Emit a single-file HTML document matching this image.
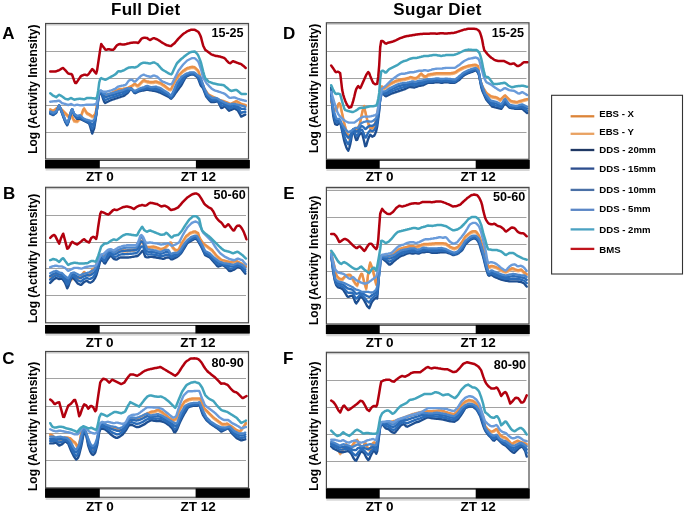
<!DOCTYPE html>
<html><head><meta charset="utf-8"><title>Activity Intensity</title>
<style>html,body{margin:0;padding:0;background:#fff;}svg{display:block;filter:blur(0.3px);}</style></head>
<body>
<svg width="685" height="515" viewBox="0 0 685 515">
<text x="111.0" y="15.2" style="font-family:'Liberation Sans',sans-serif;font-weight:bold;font-size:17px;letter-spacing:0.25px">Full Diet</text>
<text x="393.3" y="15.1" style="font-family:'Liberation Sans',sans-serif;font-weight:bold;font-size:17px;letter-spacing:0.34px">Sugar Diet</text>
<rect x="45.6" y="23.5" width="202.9" height="135.5" fill="#fff"/>
<line x1="45.6" y1="24.8" x2="248.5" y2="24.8" stroke="#c8c8c8" stroke-width="1.2"/>
<line x1="45.6" y1="51.5" x2="246.0" y2="51.5" stroke="#a2a2a2" stroke-width="1"/>
<line x1="45.6" y1="78.5" x2="246.0" y2="78.5" stroke="#a2a2a2" stroke-width="1"/>
<line x1="45.6" y1="105.5" x2="246.0" y2="105.5" stroke="#a2a2a2" stroke-width="1"/>
<line x1="45.6" y1="132.5" x2="246.0" y2="132.5" stroke="#a2a2a2" stroke-width="1"/>
<g clip-path="url(#clipA)"><polyline points="50.2,110.4 51.2,110.9 52.2,111.4 53.2,111.9 54.2,111.1 55.2,110.4 56.2,109.6 57.2,109.1 58.2,108.6 59.2,108.1 60.2,109.1 61.2,110.1 62.2,111.1 63.2,112.1 64.2,113.1 65.2,114.1 66.2,115.1 67.2,116.1 68.2,117.1 69.2,116.6 70.2,116.1 71.2,115.7 72.2,117.7 73.2,119.7 74.2,121.6 75.2,121.8 76.2,122.1 77.2,122.2 78.2,121.2 79.2,120.2 80.2,119.1 81.2,116.3 82.2,113.5 83.2,110.7 84.2,109.5 85.2,111.2 86.2,113.0 87.2,114.3 88.2,114.8 89.2,115.3 90.2,115.9 91.2,116.6 92.2,117.4 93.2,117.4 94.2,116.1 95.2,114.9 96.2,111.1 97.2,103.3 98.2,95.6 99.2,93.4 100.2,93.8 101.2,94.2 102.2,94.6 103.2,94.9 104.2,95.3 105.2,95.6 106.2,95.9 107.2,95.7 108.2,95.3 109.2,95.0 110.2,94.7 111.2,94.3 112.2,93.8 113.2,93.3 114.2,92.8 115.2,92.3 116.2,91.8 117.2,91.3 118.2,90.8 119.2,90.3 120.2,90.0 121.2,90.0 122.2,90.0 123.2,89.9 124.2,89.7 125.2,89.6 126.2,89.4 127.2,89.2 128.2,88.8 129.2,88.3 130.2,87.8 131.2,87.3 132.2,86.6 133.2,85.9 134.2,85.1 135.2,85.1 136.2,85.9 137.2,86.6 138.2,86.5 139.2,85.5 140.2,84.5 141.2,83.5 142.2,82.5 143.2,81.5 144.2,81.3 145.2,81.7 146.2,82.2 147.2,82.5 148.2,82.7 149.2,82.9 150.2,83.0 151.2,83.2 152.2,83.1 153.2,83.0 154.2,82.8 155.2,82.6 156.2,82.6 157.2,82.9 158.2,83.3 159.2,83.6 160.2,83.9 161.2,84.5 162.2,85.2 163.2,85.9 164.2,86.5 165.2,87.2 166.2,88.0 167.2,88.8 168.2,89.6 169.2,90.2 170.2,90.5 171.2,90.0 172.2,87.8 173.2,85.5 174.2,83.5 175.2,81.8 176.2,80.2 177.2,78.5 178.2,76.8 179.2,75.7 180.2,74.7 181.2,73.7 182.2,72.7 183.2,71.8 184.2,71.2 185.2,70.5 186.2,69.8 187.2,69.2 188.2,68.8 189.2,68.6 190.2,68.3 191.2,68.0 192.2,67.9 193.2,68.1 194.2,68.2 195.2,68.7 196.2,69.7 197.2,70.7 198.2,71.7 199.2,74.3 200.2,77.8 201.2,81.4 202.2,84.2 203.2,86.5 204.2,88.9 205.2,91.1 206.2,92.5 207.2,93.8 208.2,95.1 209.2,96.0 210.2,96.5 211.2,97.0 212.2,97.5 213.2,98.0 214.2,98.5 215.2,99.0 216.2,99.5 217.2,100.0 218.2,100.5 219.2,100.9 220.2,101.2 221.2,101.5 222.2,101.8 223.2,102.1 224.2,102.4 225.2,102.8 226.2,103.2 227.2,103.6 228.2,104.0 229.2,104.4 230.2,104.8 231.2,104.8 232.2,104.3 233.2,103.8 234.2,103.3 235.2,102.8 236.2,102.3 237.2,102.5 238.2,103.1 239.2,103.7 240.2,104.3 241.2,105.0 242.2,105.2 243.2,105.5 244.2,105.7 245.2,106.0 245.9,106.2" fill="none" stroke="#F2AE72" stroke-width="2.3" stroke-linejoin="round" stroke-linecap="round" opacity="1.0"/>
<polyline points="50.2,109.2 51.2,109.7 52.2,110.2 53.2,110.7 54.2,109.9 55.2,109.2 56.2,108.4 57.2,107.9 58.2,107.4 59.2,106.9 60.2,107.9 61.2,108.9 62.2,109.9 63.2,110.9 64.2,111.9 65.2,112.9 66.2,113.9 67.2,114.9 68.2,115.9 69.2,115.4 70.2,114.9 71.2,114.5 72.2,116.5 73.2,118.5 74.2,120.4 75.2,120.6 76.2,120.9 77.2,121.0 78.2,120.0 79.2,119.0 80.2,117.9 81.2,115.1 82.2,112.3 83.2,109.5 84.2,108.3 85.2,110.0 86.2,111.8 87.2,113.1 88.2,113.6 89.2,114.1 90.2,114.7 91.2,115.4 92.2,116.2 93.2,116.2 94.2,114.9 95.2,113.7 96.2,109.9 97.2,102.1 98.2,94.4 99.2,92.2 100.2,92.6 101.2,93.0 102.2,93.4 103.2,93.7 104.2,94.1 105.2,94.4 106.2,94.7 107.2,94.5 108.2,94.1 109.2,93.8 110.2,93.5 111.2,93.1 112.2,92.6 113.2,92.1 114.2,91.6 115.2,91.1 116.2,90.6 117.2,90.1 118.2,89.6 119.2,89.1 120.2,88.8 121.2,88.8 122.2,88.8 123.2,88.7 124.2,88.5 125.2,88.4 126.2,88.2 127.2,88.0 128.2,87.6 129.2,87.1 130.2,86.6 131.2,86.1 132.2,85.4 133.2,84.7 134.2,83.9 135.2,83.9 136.2,84.7 137.2,85.4 138.2,85.3 139.2,84.3 140.2,83.3 141.2,82.3 142.2,81.3 143.2,80.3 144.2,80.1 145.2,80.5 146.2,81.0 147.2,81.3 148.2,81.5 149.2,81.7 150.2,81.8 151.2,82.0 152.2,81.9 153.2,81.8 154.2,81.6 155.2,81.4 156.2,81.4 157.2,81.7 158.2,82.1 159.2,82.4 160.2,82.7 161.2,83.3 162.2,84.0 163.2,84.7 164.2,85.3 165.2,86.0 166.2,86.8 167.2,87.6 168.2,88.4 169.2,89.0 170.2,89.3 171.2,88.8 172.2,86.6 173.2,84.3 174.2,82.3 175.2,80.6 176.2,79.0 177.2,77.3 178.2,75.6 179.2,74.5 180.2,73.5 181.2,72.5 182.2,71.5 183.2,70.6 184.2,70.0 185.2,69.3 186.2,68.6 187.2,68.0 188.2,67.6 189.2,67.4 190.2,67.1 191.2,66.8 192.2,66.7 193.2,66.9 194.2,67.0 195.2,67.5 196.2,68.5 197.2,69.5 198.2,70.5 199.2,73.1 200.2,76.6 201.2,80.2 202.2,83.0 203.2,85.3 204.2,87.7 205.2,89.9 206.2,91.3 207.2,92.6 208.2,93.9 209.2,94.8 210.2,95.3 211.2,95.8 212.2,96.3 213.2,96.8 214.2,97.3 215.2,97.8 216.2,98.3 217.2,98.8 218.2,99.3 219.2,99.7 220.2,100.0 221.2,100.3 222.2,100.6 223.2,100.9 224.2,101.2 225.2,101.6 226.2,102.0 227.2,102.4 228.2,102.8 229.2,103.2 230.2,103.6 231.2,103.6 232.2,103.1 233.2,102.6 234.2,102.1 235.2,101.6 236.2,101.1 237.2,101.3 238.2,101.9 239.2,102.5 240.2,103.1 241.2,103.8 242.2,104.0 243.2,104.3 244.2,104.5 245.2,104.8 245.9,105.0" fill="none" stroke="#EA9148" stroke-width="2.3" stroke-linejoin="round" stroke-linecap="round" opacity="1.0"/>
<polyline points="50.2,113.7 51.2,114.2 52.2,114.7 53.2,115.1 54.2,114.4 55.2,113.6 56.2,112.9 57.2,110.4 58.2,107.9 59.2,105.5 60.2,108.2 61.2,111.0 62.2,113.7 63.2,116.5 64.2,119.2 65.2,121.9 66.2,123.6 67.2,125.3 68.2,122.9 69.2,119.6 70.2,115.7 71.2,111.4 72.2,109.4 73.2,112.4 74.2,115.2 75.2,116.5 76.2,117.7 77.2,118.9 78.2,118.9 79.2,118.9 80.2,118.9 81.2,119.4 82.2,119.9 83.2,120.4 84.2,120.9 85.2,121.4 86.2,121.9 87.2,122.4 88.2,122.9 89.2,123.7 90.2,126.7 91.2,130.3 92.2,133.5 93.2,130.8 94.2,128.2 95.2,122.0 96.2,115.3 97.2,107.8 98.2,99.8 99.2,94.4 100.2,93.1 101.2,92.5 102.2,95.8 103.2,99.1 104.2,101.7 105.2,103.0 106.2,102.5 107.2,102.0 108.2,101.5 109.2,101.0 110.2,100.5 111.2,100.1 112.2,99.7 113.2,99.4 114.2,99.1 115.2,98.7 116.2,98.4 117.2,98.1 118.2,97.7 119.2,97.4 120.2,97.1 121.2,96.7 122.2,96.4 123.2,96.1 124.2,95.7 125.2,94.9 126.2,94.1 127.2,93.3 128.2,92.4 129.2,90.9 130.2,89.4 131.2,88.6 132.2,90.0 133.2,91.4 134.2,92.8 135.2,93.2 136.2,92.7 137.2,92.2 138.2,91.7 139.2,91.2 140.2,91.0 141.2,90.8 142.2,90.6 143.2,90.5 144.2,90.3 145.2,90.1 146.2,89.9 147.2,89.8 148.2,89.9 149.2,90.1 150.2,90.3 151.2,90.4 152.2,90.6 153.2,90.8 154.2,90.9 155.2,91.1 156.2,91.3 157.2,91.6 158.2,92.0 159.2,92.3 160.2,92.6 161.2,93.1 162.2,93.6 163.2,94.1 164.2,94.6 165.2,95.1 166.2,95.6 167.2,96.1 168.2,96.6 169.2,97.1 170.2,98.2 171.2,98.8 172.2,97.6 173.2,96.5 174.2,95.2 175.2,93.7 176.2,92.2 177.2,90.8 178.2,89.5 179.2,88.1 180.2,86.8 181.2,85.5 182.2,83.7 183.2,81.8 184.2,79.9 185.2,78.0 186.2,76.7 187.2,76.2 188.2,75.7 189.2,75.2 190.2,74.7 191.2,74.6 192.2,74.6 193.2,74.6 194.2,74.7 195.2,75.5 196.2,76.3 197.2,77.1 198.2,78.6 199.2,81.4 200.2,84.1 201.2,86.1 202.2,87.0 203.2,88.6 204.2,91.3 205.2,93.9 206.2,96.6 207.2,97.8 208.2,99.0 209.2,100.1 210.2,101.2 211.2,102.0 212.2,102.0 213.2,102.0 214.2,102.0 215.2,101.9 216.2,101.6 217.2,101.4 218.2,101.8 219.2,103.9 220.2,105.9 221.2,108.0 222.2,107.9 223.2,107.3 224.2,106.6 225.2,106.4 226.2,107.6 227.2,108.7 228.2,109.9 229.2,110.7 230.2,110.2 231.2,109.8 232.2,109.4 233.2,108.9 234.2,108.5 235.2,108.9 236.2,109.4 237.2,109.9 238.2,111.1 239.2,112.9 240.2,114.7 241.2,116.6 242.2,116.1 243.2,115.6 244.2,115.1 245.2,114.6 245.3,114.5" fill="none" stroke="#1E4F91" stroke-width="2.4" stroke-linejoin="round" stroke-linecap="round" opacity="1.0"/>
<polyline points="50.2,112.9 51.2,113.4 52.2,113.9 53.2,114.4 54.2,113.7 55.2,113.0 56.2,112.3 57.2,110.0 58.2,107.7 59.2,105.5 60.2,108.1 61.2,110.6 62.2,113.2 63.2,115.9 64.2,118.5 65.2,121.2 66.2,122.8 67.2,124.5 68.2,122.3 69.2,119.0 70.2,115.3 71.2,111.2 72.2,109.3 73.2,112.1 74.2,114.7 75.2,115.8 76.2,116.8 77.2,117.8 78.2,117.7 79.2,117.7 80.2,117.6 81.2,118.3 82.2,119.0 83.2,119.6 84.2,120.1 85.2,120.6 86.2,121.1 87.2,121.5 88.2,122.0 89.2,122.6 90.2,124.6 91.2,127.0 92.2,129.1 93.2,127.2 94.2,125.2 95.2,120.2 96.2,114.9 97.2,107.5 98.2,99.1 99.2,93.5 100.2,92.4 101.2,91.8 102.2,94.4 103.2,97.0 104.2,98.9 105.2,99.9 106.2,99.7 107.2,99.3 108.2,98.9 109.2,98.5 110.2,98.1 111.2,97.7 112.2,97.4 113.2,97.1 114.2,96.8 115.2,96.5 116.2,96.1 117.2,95.8 118.2,95.5 119.2,95.2 120.2,94.9 121.2,94.6 122.2,94.3 123.2,93.9 124.2,93.6 125.2,92.9 126.2,92.2 127.2,91.6 128.2,91.0 129.2,90.0 130.2,89.1 131.2,88.6 132.2,89.7 133.2,90.9 134.2,92.0 135.2,92.4 136.2,91.9 137.2,91.4 138.2,90.9 139.2,90.4 140.2,90.1 141.2,89.8 142.2,89.6 143.2,89.4 144.2,89.1 145.2,88.9 146.2,88.6 147.2,88.4 148.2,88.6 149.2,88.9 150.2,89.1 151.2,89.3 152.2,89.4 153.2,89.4 154.2,89.5 155.2,89.5 156.2,89.7 157.2,90.0 158.2,90.3 159.2,90.7 160.2,91.0 161.2,91.5 162.2,92.1 163.2,92.6 164.2,93.2 165.2,93.7 166.2,94.3 167.2,94.8 168.2,95.3 169.2,96.0 170.2,97.2 171.2,97.7 172.2,96.2 173.2,94.8 174.2,93.1 175.2,91.3 176.2,89.5 177.2,87.8 178.2,86.5 179.2,85.2 180.2,83.8 181.2,82.5 182.2,81.1 183.2,79.6 184.2,78.2 185.2,76.7 186.2,75.6 187.2,75.2 188.2,74.7 189.2,74.3 190.2,73.9 191.2,73.8 192.2,73.8 193.2,73.8 194.2,73.9 195.2,74.7 196.2,75.5 197.2,76.3 198.2,77.6 199.2,79.6 200.2,81.6 201.2,83.7 202.2,85.3 203.2,87.4 204.2,90.1 205.2,92.5 206.2,95.0 207.2,96.5 208.2,97.6 209.2,98.6 210.2,99.6 211.2,100.4 212.2,100.6 213.2,100.6 214.2,100.6 215.2,100.5 216.2,100.3 217.2,100.3 218.2,100.8 219.2,102.4 220.2,103.9 221.2,105.5 222.2,105.6 223.2,105.3 224.2,105.1 225.2,105.1 226.2,106.0 227.2,106.9 228.2,107.8 229.2,108.4 230.2,108.2 231.2,107.8 232.2,107.5 233.2,107.2 234.2,106.8 235.2,107.2 236.2,107.6 237.2,108.0 238.2,108.9 239.2,110.1 240.2,111.4 241.2,112.7 242.2,112.5 243.2,112.2 244.2,112.1 245.2,111.9 245.3,111.9" fill="none" stroke="#2B6CB8" stroke-width="2.4" stroke-linejoin="round" stroke-linecap="round" opacity="1.0"/>
<polyline points="50.2,112.1 51.2,112.6 52.2,113.1 53.2,113.6 54.2,113.0 55.2,112.4 56.2,111.8 57.2,109.7 58.2,107.5 59.2,105.5 60.2,107.9 61.2,110.3 62.2,112.7 63.2,115.3 64.2,117.8 65.2,120.4 66.2,122.0 67.2,123.7 68.2,121.6 69.2,118.5 70.2,114.9 71.2,111.1 72.2,109.2 73.2,111.7 74.2,114.2 75.2,115.1 76.2,116.0 77.2,116.8 78.2,116.6 79.2,116.4 80.2,116.3 81.2,117.2 82.2,118.0 83.2,118.9 84.2,119.4 85.2,119.9 86.2,120.3 87.2,120.7 88.2,121.0 89.2,121.4 90.2,122.5 91.2,123.7 92.2,124.8 93.2,123.5 94.2,122.3 95.2,118.5 96.2,114.4 97.2,107.2 98.2,98.3 99.2,92.5 100.2,91.7 101.2,91.2 102.2,93.0 103.2,94.9 104.2,96.0 105.2,96.8 106.2,97.0 107.2,96.7 108.2,96.3 109.2,95.9 110.2,95.6 111.2,95.3 112.2,95.1 113.2,94.8 114.2,94.5 115.2,94.2 116.2,93.9 117.2,93.5 118.2,93.2 119.2,92.9 120.2,92.7 121.2,92.4 122.2,92.1 123.2,91.8 124.2,91.4 125.2,90.9 126.2,90.3 127.2,89.8 128.2,89.6 129.2,89.2 130.2,88.8 131.2,88.7 132.2,89.4 133.2,90.3 134.2,91.3 135.2,91.5 136.2,91.0 137.2,90.5 138.2,90.0 139.2,89.5 140.2,89.1 141.2,88.8 142.2,88.6 143.2,88.3 144.2,88.0 145.2,87.6 146.2,87.3 147.2,87.0 148.2,87.3 149.2,87.6 150.2,87.9 151.2,88.2 152.2,88.2 153.2,88.1 154.2,88.1 155.2,88.0 156.2,88.0 157.2,88.4 158.2,88.7 159.2,89.0 160.2,89.4 161.2,89.9 162.2,90.5 163.2,91.2 164.2,91.8 165.2,92.4 166.2,92.9 167.2,93.5 168.2,94.1 169.2,94.9 170.2,96.2 171.2,96.6 172.2,94.9 173.2,93.1 174.2,91.0 175.2,88.9 176.2,86.8 177.2,84.9 178.2,83.6 179.2,82.2 180.2,80.9 181.2,79.6 182.2,78.5 183.2,77.5 184.2,76.4 185.2,75.4 186.2,74.6 187.2,74.2 188.2,73.8 189.2,73.4 190.2,73.1 191.2,73.0 192.2,73.0 193.2,73.0 194.2,73.1 195.2,73.9 196.2,74.7 197.2,75.5 198.2,76.5 199.2,77.8 200.2,79.0 201.2,81.3 202.2,83.7 203.2,86.2 204.2,89.0 205.2,91.2 206.2,93.4 207.2,95.1 208.2,96.2 209.2,97.1 210.2,97.9 211.2,98.7 212.2,99.2 213.2,99.2 214.2,99.2 215.2,99.1 216.2,99.1 217.2,99.2 218.2,99.8 219.2,100.9 220.2,102.0 221.2,102.9 222.2,103.3 223.2,103.4 224.2,103.6 225.2,103.8 226.2,104.4 227.2,105.1 228.2,105.7 229.2,106.2 230.2,106.1 231.2,105.9 232.2,105.6 233.2,105.4 234.2,105.2 235.2,105.5 236.2,105.8 237.2,106.1 238.2,106.7 239.2,107.4 240.2,108.1 241.2,108.8 242.2,108.9 243.2,108.9 244.2,109.0 245.2,109.2 245.3,109.2" fill="none" stroke="#2B6CB8" stroke-width="2.4" stroke-linejoin="round" stroke-linecap="round" opacity="1.0"/>
<polyline points="50.2,111.4 51.2,111.9 52.2,112.4 53.2,112.9 54.2,112.4 55.2,111.9 56.2,111.4 57.2,109.4 58.2,107.4 59.2,105.5 60.2,107.7 61.2,110.0 62.2,112.2 63.2,114.7 64.2,117.2 65.2,119.7 66.2,121.4 67.2,123.0 68.2,121.0 69.2,118.0 70.2,114.6 71.2,110.9 72.2,109.1 73.2,111.5 74.2,113.7 75.2,114.5 76.2,115.2 77.2,115.9 78.2,115.6 79.2,115.4 80.2,115.2 81.2,116.2 82.2,117.2 83.2,118.2 84.2,118.7 85.2,119.2 86.2,119.7 87.2,119.9 88.2,120.2 89.2,120.4 90.2,120.7 91.2,120.9 92.2,121.0 93.2,120.4 94.2,119.7 95.2,117.0 96.2,114.0 97.2,107.0 98.2,97.6 99.2,91.7 100.2,91.0 101.2,90.7 102.2,91.9 103.2,93.1 104.2,93.6 105.2,94.1 106.2,94.6 107.2,94.4 108.2,94.1 109.2,93.8 110.2,93.5 111.2,93.3 112.2,93.1 113.2,92.8 114.2,92.6 115.2,92.2 116.2,91.9 117.2,91.6 118.2,91.2 119.2,91.0 120.2,90.8 121.2,90.5 122.2,90.3 123.2,90.0 124.2,89.5 125.2,89.1 126.2,88.7 127.2,88.2 128.2,88.4 129.2,88.5 130.2,88.6 131.2,88.7 132.2,89.2 133.2,89.9 134.2,90.7 135.2,90.8 136.2,90.3 137.2,89.8 138.2,89.3 139.2,88.8 140.2,88.3 141.2,87.9 142.2,87.7 143.2,87.4 144.2,87.1 145.2,86.6 146.2,86.1 147.2,85.9 148.2,86.2 149.2,86.5 150.2,86.9 151.2,87.2 152.2,87.2 153.2,87.0 154.2,86.8 155.2,86.7 156.2,86.6 157.2,87.0 158.2,87.3 159.2,87.6 160.2,88.0 161.2,88.6 162.2,89.2 163.2,89.9 164.2,90.6 165.2,91.2 166.2,91.8 167.2,92.4 168.2,93.0 169.2,94.0 170.2,95.3 171.2,95.7 172.2,93.7 173.2,91.6 174.2,89.2 175.2,86.8 176.2,84.4 177.2,82.4 178.2,81.0 179.2,79.7 180.2,78.4 181.2,77.0 182.2,76.3 183.2,75.6 184.2,74.9 185.2,74.3 186.2,73.7 187.2,73.4 188.2,73.1 189.2,72.7 190.2,72.4 191.2,72.3 192.2,72.3 193.2,72.3 194.2,72.4 195.2,73.2 196.2,74.0 197.2,74.8 198.2,75.6 199.2,76.2 200.2,76.8 201.2,79.2 202.2,82.2 203.2,85.2 204.2,88.0 205.2,90.0 206.2,92.0 207.2,94.0 208.2,95.0 209.2,95.8 210.2,96.5 211.2,97.3 212.2,98.0 213.2,98.0 214.2,98.0 215.2,98.0 216.2,98.0 217.2,98.3 218.2,98.9 219.2,99.6 220.2,100.3 221.2,100.8 222.2,101.3 223.2,101.8 224.2,102.3 225.2,102.7 226.2,103.1 227.2,103.5 228.2,103.9 229.2,104.2 230.2,104.3 231.2,104.2 232.2,104.0 233.2,103.9 234.2,103.8 235.2,104.0 236.2,104.3 237.2,104.5 238.2,104.8 239.2,105.0 240.2,105.3 241.2,105.5 242.2,105.8 243.2,106.0 244.2,106.4 245.2,106.9 245.3,107.0" fill="none" stroke="#4A86CC" stroke-width="2.3" stroke-linejoin="round" stroke-linecap="round" opacity="1.0"/>
<polyline points="50.2,101.7 51.2,101.6 52.2,101.5 53.2,101.4 54.2,101.3 55.2,101.3 56.2,101.2 57.2,101.0 58.2,100.8 59.2,100.7 60.2,101.5 61.2,102.4 62.2,103.2 63.2,103.4 64.2,103.7 65.2,103.9 66.2,104.3 67.2,104.7 68.2,105.1 69.2,104.7 70.2,104.3 71.2,104.0 72.2,104.5 73.2,105.0 74.2,105.4 75.2,105.2 76.2,104.9 77.2,104.7 78.2,104.9 79.2,105.1 80.2,105.3 81.2,105.4 82.2,105.3 83.2,105.2 84.2,105.1 85.2,104.9 86.2,104.8 87.2,104.7 88.2,104.7 89.2,104.7 90.2,104.7 91.2,104.7 92.2,104.7 93.2,104.6 94.2,104.4 95.2,104.2 96.2,104.0 97.2,100.5 98.2,95.1 99.2,92.2 100.2,90.5 101.2,90.7 102.2,91.2 103.2,91.7 104.2,91.8 105.2,91.8 106.2,91.8 107.2,91.5 108.2,91.3 109.2,91.0 110.2,90.7 111.2,90.4 112.2,90.0 113.2,89.6 114.2,89.2 115.2,88.8 116.2,88.1 117.2,87.3 118.2,86.6 119.2,86.3 120.2,86.1 121.2,85.8 122.2,85.6 123.2,85.5 124.2,85.3 125.2,85.1 126.2,84.3 127.2,82.8 128.2,81.3 129.2,80.4 130.2,80.0 131.2,79.7 132.2,79.9 133.2,80.8 134.2,81.6 135.2,81.6 136.2,80.6 137.2,79.6 138.2,78.6 139.2,77.6 140.2,76.6 141.2,75.8 142.2,75.3 143.2,74.8 144.2,74.8 145.2,75.3 146.2,75.7 147.2,76.1 148.2,76.3 149.2,76.5 150.2,76.7 151.2,76.6 152.2,76.1 153.2,75.6 154.2,75.5 155.2,75.9 156.2,76.3 157.2,76.7 158.2,77.6 159.2,78.6 160.2,79.6 161.2,80.6 162.2,81.4 163.2,81.8 164.2,82.2 165.2,82.6 166.2,83.0 167.2,83.4 168.2,83.8 169.2,84.2 170.2,84.3 171.2,84.3 172.2,83.2 173.2,81.2 174.2,79.2 175.2,77.2 176.2,75.2 177.2,73.2 178.2,71.2 179.2,69.7 180.2,68.4 181.2,67.1 182.2,65.7 183.2,64.5 184.2,63.5 185.2,62.5 186.2,61.5 187.2,60.5 188.2,60.0 189.2,59.5 190.2,59.0 191.2,58.5 192.2,58.1 193.2,58.1 194.2,58.1 195.2,58.5 196.2,59.5 197.2,60.5 198.2,61.5 199.2,63.8 200.2,66.8 201.2,69.8 202.2,74.1 203.2,77.7 204.2,79.4 205.2,81.0 206.2,82.7 207.2,83.9 208.2,85.0 209.2,86.1 210.2,87.2 211.2,88.2 212.2,88.9 213.2,89.6 214.2,90.2 215.2,90.6 216.2,90.9 217.2,91.2 218.2,91.5 219.2,91.8 220.2,92.1 221.2,92.5 222.2,92.9 223.2,93.2 224.2,93.6 225.2,94.1 226.2,95.0 227.2,95.9 228.2,96.8 229.2,97.6 230.2,97.9 231.2,97.8 232.2,97.6 233.2,97.5 234.2,97.4 235.2,97.7 236.2,98.1 237.2,98.5 238.2,98.9 239.2,99.2 240.2,99.5 241.2,99.7 242.2,100.0 243.2,100.2 244.2,100.5 245.2,100.7 245.9,100.9" fill="none" stroke="#6A9BDA" stroke-width="2.4" stroke-linejoin="round" stroke-linecap="round" opacity="1.0"/>
<polyline points="50.2,93.2 51.2,94.0 52.2,94.9 53.2,95.7 54.2,96.2 55.2,96.7 56.2,97.2 57.2,96.3 58.2,95.5 59.2,94.7 60.2,95.3 61.2,95.9 62.2,96.5 63.2,97.2 64.2,98.0 65.2,98.7 66.2,99.0 67.2,99.2 68.2,99.4 69.2,98.9 70.2,98.4 71.2,98.0 72.2,98.6 73.2,99.2 74.2,99.7 75.2,99.5 76.2,99.3 77.2,99.1 78.2,99.0 79.2,98.8 80.2,98.7 81.2,98.9 82.2,99.1 83.2,99.3 84.2,99.3 85.2,98.8 86.2,98.3 87.2,98.0 88.2,98.0 89.2,98.0 90.2,98.0 91.2,98.1 92.2,98.2 93.2,98.3 94.2,98.4 95.2,98.5 96.2,98.7 97.2,96.4 98.2,90.4 99.2,82.6 100.2,79.0 101.2,78.1 102.2,78.6 103.2,79.0 104.2,79.4 105.2,79.7 106.2,79.5 107.2,78.9 108.2,78.4 109.2,77.8 110.2,77.2 111.2,76.6 112.2,76.1 113.2,75.6 114.2,75.0 115.2,74.4 116.2,73.6 117.2,72.4 118.2,71.2 119.2,71.3 120.2,71.5 121.2,71.3 122.2,70.9 123.2,70.5 124.2,70.1 125.2,69.5 126.2,68.9 127.2,68.3 128.2,67.8 129.2,67.6 130.2,67.4 131.2,67.2 132.2,67.2 133.2,67.3 134.2,67.5 135.2,67.4 136.2,67.0 137.2,66.6 138.2,65.9 139.2,65.0 140.2,64.1 141.2,63.5 142.2,63.1 143.2,62.8 144.2,62.7 145.2,62.8 146.2,63.0 147.2,63.1 148.2,63.3 149.2,63.5 150.2,63.6 151.2,63.2 152.2,62.8 153.2,62.4 154.2,62.4 155.2,63.0 156.2,63.5 157.2,64.0 158.2,65.0 159.2,66.2 160.2,67.3 161.2,68.5 162.2,69.5 163.2,70.1 164.2,70.7 165.2,71.3 166.2,71.9 167.2,72.5 168.2,73.1 169.2,73.7 170.2,74.1 171.2,74.4 172.2,73.3 173.2,71.0 174.2,68.7 175.2,66.7 176.2,64.7 177.2,63.0 178.2,62.0 179.2,61.0 180.2,60.0 181.2,59.0 182.2,58.2 183.2,57.4 184.2,56.5 185.2,55.7 186.2,54.9 187.2,54.2 188.2,53.6 189.2,52.9 190.2,52.2 191.2,52.0 192.2,51.8 193.2,51.7 194.2,51.5 195.2,51.8 196.2,52.8 197.2,53.8 198.2,55.4 199.2,57.9 200.2,60.4 201.2,63.5 202.2,67.6 203.2,71.5 204.2,75.0 205.2,78.2 206.2,79.2 207.2,80.2 208.2,81.2 209.2,81.9 210.2,82.2 211.2,82.6 212.2,83.0 213.2,83.4 214.2,83.6 215.2,83.8 216.2,84.0 217.2,84.2 218.2,84.4 219.2,84.6 220.2,84.7 221.2,84.8 222.2,85.0 223.2,85.1 224.2,85.5 225.2,86.4 226.2,87.2 227.2,88.0 228.2,88.9 229.2,89.7 230.2,90.5 231.2,90.9 232.2,90.7 233.2,90.5 234.2,90.3 235.2,90.1 236.2,89.9 237.2,90.4 238.2,91.2 239.2,92.1 240.2,93.0 241.2,93.9 242.2,93.9 243.2,93.9 244.2,93.9 245.2,93.9 245.9,93.9" fill="none" stroke="#42A4BC" stroke-width="2.5" stroke-linejoin="round" stroke-linecap="round" opacity="1.0"/>
<polyline points="50.2,71.6 51.2,71.6 52.2,71.6 53.2,71.6 54.2,71.6 55.2,71.6 56.2,71.3 57.2,70.9 58.2,70.5 59.2,70.1 60.2,69.5 61.2,68.9 62.2,68.3 63.2,68.1 64.2,69.1 65.2,70.1 66.2,71.2 67.2,72.4 68.2,73.5 69.2,73.7 70.2,73.9 71.2,74.0 72.2,75.0 73.2,77.9 74.2,80.7 75.2,83.0 76.2,83.1 77.2,81.6 78.2,80.1 79.2,78.6 80.2,77.1 81.2,75.9 82.2,75.5 83.2,75.1 84.2,74.7 85.2,74.7 86.2,75.0 87.2,75.2 88.2,74.5 89.2,73.2 90.2,71.8 91.2,70.4 92.2,69.1 93.2,69.7 94.2,71.4 95.2,72.5 96.2,73.5 97.2,69.6 98.2,62.9 99.2,56.3 100.2,49.6 101.2,44.1 102.2,45.5 103.2,46.8 104.2,48.1 105.2,49.5 106.2,49.7 107.2,49.5 108.2,49.2 109.2,49.3 110.2,49.6 111.2,49.8 112.2,49.8 113.2,49.7 114.2,49.0 115.2,47.6 116.2,46.2 117.2,45.2 118.2,44.7 119.2,44.2 120.2,44.0 121.2,44.3 122.2,44.5 123.2,44.6 124.2,44.4 125.2,44.2 126.2,44.0 127.2,43.7 128.2,43.4 129.2,43.2 130.2,42.9 131.2,42.8 132.2,42.7 133.2,42.6 134.2,42.5 135.2,42.5 136.2,42.6 137.2,42.7 138.2,42.9 139.2,41.8 140.2,40.4 141.2,39.0 142.2,38.3 143.2,37.9 144.2,37.7 145.2,37.8 146.2,37.9 147.2,38.1 148.2,38.9 149.2,39.6 150.2,40.0 151.2,39.4 152.2,38.8 153.2,38.2 154.2,38.2 155.2,38.6 156.2,39.0 157.2,39.4 158.2,40.0 159.2,40.6 160.2,41.3 161.2,42.0 162.2,42.6 163.2,43.2 164.2,43.8 165.2,44.4 166.2,45.0 167.2,45.3 168.2,45.5 169.2,45.8 170.2,46.0 171.2,45.9 172.2,45.1 173.2,44.3 174.2,43.5 175.2,42.5 176.2,41.3 177.2,40.1 178.2,38.9 179.2,37.9 180.2,36.9 181.2,35.9 182.2,34.9 183.2,34.0 184.2,33.3 185.2,32.7 186.2,32.0 187.2,31.3 188.2,30.9 189.2,30.5 190.2,30.1 191.2,29.7 192.2,29.7 193.2,29.7 194.2,29.7 195.2,30.0 196.2,30.6 197.2,31.2 198.2,31.8 199.2,33.2 200.2,35.2 201.2,38.0 202.2,42.0 203.2,45.7 204.2,47.7 205.2,49.7 206.2,50.6 207.2,51.3 208.2,52.1 209.2,52.8 210.2,53.6 211.2,54.3 212.2,54.7 213.2,55.0 214.2,55.4 215.2,55.7 216.2,56.0 217.2,56.1 218.2,56.3 219.2,56.5 220.2,56.6 221.2,57.0 222.2,57.3 223.2,57.6 224.2,58.0 225.2,58.7 226.2,60.0 227.2,61.2 228.2,62.2 229.2,62.9 230.2,63.2 231.2,62.4 232.2,61.7 233.2,61.2 234.2,61.6 235.2,62.0 236.2,62.4 237.2,62.8 238.2,63.1 239.2,63.5 240.2,63.8 241.2,64.1 242.2,65.0 243.2,65.8 244.2,66.6 245.2,67.5 245.7,67.9" fill="none" stroke="#B2000E" stroke-width="2.5" stroke-linejoin="round" stroke-linecap="round" opacity="1.0"/></g>
<clipPath id="clipA"><rect x="45.6" y="23.5" width="202.9" height="135.5"/></clipPath>
<rect x="45.6" y="23.5" width="202.9" height="135.5" fill="none" stroke="#4a4a4a" stroke-width="1.2"/>
<rect x="45.6" y="168.3" width="204.1" height="2.3" fill="#d6d6d6"/>
<rect x="45.6" y="160.4" width="203.6" height="7.5000000000000115" fill="#fff" stroke="#222" stroke-width="0.9"/>
<rect x="45.1" y="160.0" width="54.699999999999996" height="8.300000000000011" fill="#000"/>
<rect x="195.9" y="160.0" width="53.79999999999998" height="8.300000000000011" fill="#000"/>
<text x="2.2" y="39.1" style="font-family:'Liberation Sans',sans-serif;font-weight:bold;font-size:17px">A</text>
<text transform="translate(37.2,153.8) rotate(-90)" style="font-family:'Liberation Sans',sans-serif;font-weight:bold;font-size:12px">Log (Activity Intensity)</text>
<text x="243.6" y="36.9" text-anchor="end" style="font-family:'Liberation Sans',sans-serif;font-weight:bold;font-size:12.6px">15-25</text>
<text x="99.8" y="181.0" text-anchor="middle" style="font-family:'Liberation Sans',sans-serif;font-weight:bold;font-size:13.5px">ZT 0</text>
<text x="198.4" y="181.0" text-anchor="middle" style="font-family:'Liberation Sans',sans-serif;font-weight:bold;font-size:13.5px">ZT 12</text>
<rect x="45.6" y="187.3" width="202.9" height="135.5" fill="#fff"/>
<line x1="45.6" y1="188.60000000000002" x2="248.5" y2="188.60000000000002" stroke="#c8c8c8" stroke-width="1.2"/>
<line x1="45.6" y1="215.5" x2="246.0" y2="215.5" stroke="#a2a2a2" stroke-width="1"/>
<line x1="45.6" y1="242.5" x2="246.0" y2="242.5" stroke="#a2a2a2" stroke-width="1"/>
<line x1="45.6" y1="268.5" x2="246.0" y2="268.5" stroke="#a2a2a2" stroke-width="1"/>
<line x1="45.6" y1="295.5" x2="246.0" y2="295.5" stroke="#a2a2a2" stroke-width="1"/>
<g clip-path="url(#clipB)"><polyline points="50.2,277.4 51.2,276.9 52.2,276.4 53.2,275.9 54.2,275.4 55.2,274.9 56.2,274.4 57.2,275.1 58.2,275.9 59.2,276.6 60.2,276.4 61.2,276.2 62.2,276.0 63.2,276.2 64.2,277.5 65.2,278.7 66.2,280.0 67.2,281.3 68.2,282.5 69.2,281.8 70.2,281.0 71.2,280.3 72.2,279.3 73.2,278.3 74.2,277.4 75.2,277.9 76.2,278.4 77.2,278.8 78.2,278.6 79.2,278.4 80.2,278.2 81.2,277.5 82.2,275.8 83.2,274.0 84.2,273.1 85.2,273.9 86.2,274.6 87.2,275.2 88.2,275.5 89.2,275.7 90.2,275.0 91.2,272.7 92.2,270.6 93.2,270.1 94.2,269.6 95.2,268.7 96.2,265.7 97.2,262.7 98.2,260.1 99.2,259.3 100.2,258.5 101.2,257.7 102.2,256.9 103.2,256.1 104.2,255.3 105.2,254.5 106.2,253.7 107.2,252.9 108.2,252.6 109.2,253.0 110.2,253.3 111.2,253.6 112.2,254.0 113.2,253.5 114.2,253.0 115.2,252.5 116.2,252.0 117.2,251.7 118.2,251.5 119.2,251.3 120.2,251.2 121.2,251.0 122.2,251.2 123.2,251.3 124.2,251.5 125.2,251.7 126.2,251.7 127.2,251.5 128.2,251.3 129.2,251.2 130.2,251.0 131.2,250.9 132.2,250.9 133.2,250.8 134.2,250.7 135.2,250.3 136.2,249.6 137.2,248.9 138.2,248.2 139.2,246.3 140.2,244.0 141.2,241.8 142.2,242.6 143.2,244.2 144.2,245.5 145.2,246.4 146.2,247.3 147.2,248.0 148.2,248.0 149.2,248.0 150.2,248.0 151.2,247.9 152.2,247.8 153.2,247.7 154.2,247.8 155.2,248.1 156.2,248.4 157.2,248.7 158.2,249.1 159.2,249.5 160.2,249.9 161.2,250.2 162.2,249.8 163.2,249.4 164.2,249.0 165.2,248.5 166.2,247.5 167.2,246.5 168.2,245.5 169.2,244.5 170.2,243.5 171.2,243.8 172.2,247.3 173.2,248.8 174.2,249.8 175.2,250.8 176.2,251.0 177.2,251.0 178.2,251.0 179.2,249.3 180.2,247.3 181.2,245.3 182.2,243.4 183.2,241.8 184.2,240.2 185.2,238.6 186.2,237.2 187.2,236.4 188.2,235.6 189.2,234.7 190.2,233.9 191.2,233.5 192.2,233.2 193.2,232.8 194.2,232.5 195.2,232.5 196.2,233.1 197.2,233.7 198.2,234.3 199.2,237.8 200.2,239.7 201.2,241.4 202.2,243.0 203.2,244.3 204.2,245.1 205.2,245.8 206.2,246.6 207.2,247.3 208.2,248.1 209.2,248.8 210.2,249.6 211.2,250.3 212.2,251.1 213.2,252.4 214.2,253.6 215.2,254.9 216.2,256.1 217.2,257.2 218.2,258.1 219.2,259.0 220.2,259.8 221.2,260.7 222.2,261.1 223.2,261.4 224.2,261.6 225.2,261.9 226.2,262.1 227.2,262.4 228.2,262.6 229.2,262.9 230.2,263.1 231.2,263.1 232.2,262.9 233.2,262.7 234.2,262.5 235.2,262.3 236.2,262.1 237.2,262.4 238.2,262.9 239.2,263.4 240.2,263.9 241.2,264.4 242.2,265.0 243.2,265.6 244.2,266.3 245.2,266.9 245.9,267.3" fill="none" stroke="#F2AE72" stroke-width="2.3" stroke-linejoin="round" stroke-linecap="round" opacity="1.0"/>
<polyline points="50.2,276.2 51.2,275.7 52.2,275.2 53.2,274.7 54.2,274.2 55.2,273.7 56.2,273.2 57.2,273.9 58.2,274.7 59.2,275.4 60.2,275.2 61.2,275.0 62.2,274.8 63.2,275.0 64.2,276.3 65.2,277.5 66.2,278.8 67.2,280.1 68.2,281.3 69.2,280.6 70.2,279.8 71.2,279.1 72.2,278.1 73.2,277.1 74.2,276.2 75.2,276.7 76.2,277.2 77.2,277.6 78.2,277.4 79.2,277.2 80.2,277.0 81.2,276.3 82.2,274.6 83.2,272.8 84.2,271.9 85.2,272.7 86.2,273.4 87.2,274.0 88.2,274.3 89.2,274.5 90.2,273.8 91.2,271.5 92.2,269.4 93.2,268.9 94.2,268.4 95.2,267.5 96.2,264.5 97.2,261.5 98.2,258.9 99.2,258.1 100.2,257.3 101.2,256.5 102.2,255.7 103.2,254.9 104.2,254.1 105.2,253.3 106.2,252.5 107.2,251.7 108.2,251.4 109.2,251.8 110.2,252.1 111.2,252.4 112.2,252.8 113.2,252.3 114.2,251.8 115.2,251.3 116.2,250.8 117.2,250.5 118.2,250.3 119.2,250.1 120.2,250.0 121.2,249.8 122.2,250.0 123.2,250.1 124.2,250.3 125.2,250.5 126.2,250.5 127.2,250.3 128.2,250.1 129.2,250.0 130.2,249.8 131.2,249.7 132.2,249.7 133.2,249.6 134.2,249.5 135.2,249.1 136.2,248.4 137.2,247.7 138.2,247.0 139.2,245.1 140.2,242.8 141.2,240.6 142.2,241.4 143.2,243.0 144.2,244.3 145.2,245.2 146.2,246.1 147.2,246.8 148.2,246.8 149.2,246.8 150.2,246.8 151.2,246.7 152.2,246.6 153.2,246.5 154.2,246.6 155.2,246.9 156.2,247.2 157.2,247.5 158.2,247.9 159.2,248.3 160.2,248.7 161.2,249.0 162.2,248.6 163.2,248.2 164.2,247.8 165.2,247.3 166.2,246.3 167.2,245.3 168.2,244.3 169.2,243.3 170.2,242.3 171.2,242.6 172.2,246.1 173.2,247.6 174.2,248.6 175.2,249.6 176.2,249.8 177.2,249.8 178.2,249.8 179.2,248.1 180.2,246.1 181.2,244.1 182.2,242.2 183.2,240.6 184.2,239.0 185.2,237.4 186.2,236.0 187.2,235.2 188.2,234.4 189.2,233.5 190.2,232.7 191.2,232.3 192.2,232.0 193.2,231.6 194.2,231.3 195.2,231.3 196.2,231.9 197.2,232.5 198.2,233.1 199.2,236.6 200.2,238.5 201.2,240.2 202.2,241.8 203.2,243.1 204.2,243.9 205.2,244.6 206.2,245.4 207.2,246.1 208.2,246.9 209.2,247.6 210.2,248.4 211.2,249.1 212.2,249.9 213.2,251.2 214.2,252.4 215.2,253.7 216.2,254.9 217.2,256.0 218.2,256.9 219.2,257.8 220.2,258.6 221.2,259.5 222.2,259.9 223.2,260.2 224.2,260.4 225.2,260.7 226.2,260.9 227.2,261.2 228.2,261.4 229.2,261.7 230.2,261.9 231.2,261.9 232.2,261.7 233.2,261.5 234.2,261.3 235.2,261.1 236.2,260.9 237.2,261.2 238.2,261.7 239.2,262.2 240.2,262.7 241.2,263.2 242.2,263.8 243.2,264.4 244.2,265.1 245.2,265.7 245.9,266.1" fill="none" stroke="#EA9148" stroke-width="2.3" stroke-linejoin="round" stroke-linecap="round" opacity="1.0"/>
<polyline points="50.2,282.9 51.2,281.9 52.2,280.9 53.2,279.9 54.2,279.1 55.2,278.4 56.2,277.7 57.2,278.2 58.2,278.7 59.2,279.1 60.2,278.9 61.2,278.6 62.2,278.5 63.2,280.0 64.2,281.4 65.2,283.0 66.2,285.7 67.2,288.3 68.2,286.5 69.2,283.5 70.2,280.8 71.2,278.5 72.2,277.2 73.2,278.2 74.2,279.2 75.2,280.3 76.2,281.5 77.2,282.8 78.2,283.8 79.2,284.3 80.2,284.8 81.2,284.8 82.2,283.8 83.2,282.8 84.2,282.0 85.2,281.5 86.2,281.0 87.2,280.9 88.2,281.7 89.2,282.4 90.2,282.7 91.2,282.2 92.2,281.7 93.2,280.8 94.2,279.3 95.2,277.8 96.2,275.6 97.2,272.3 98.2,268.9 99.2,264.9 100.2,260.9 101.2,260.5 102.2,260.5 103.2,261.5 104.2,263.2 105.2,263.5 106.2,261.7 107.2,260.0 108.2,258.4 109.2,257.2 110.2,255.9 111.2,255.8 112.2,257.0 113.2,258.3 114.2,259.1 115.2,259.3 116.2,259.6 117.2,259.4 118.2,258.6 119.2,257.9 120.2,257.5 121.2,257.5 122.2,257.5 123.2,257.5 124.2,257.5 125.2,257.5 126.2,257.5 127.2,257.5 128.2,257.5 129.2,257.4 130.2,257.2 131.2,257.1 132.2,256.9 133.2,256.7 134.2,256.6 135.2,256.4 136.2,256.2 137.2,256.1 138.2,255.5 139.2,254.5 140.2,253.5 141.2,252.3 142.2,251.0 143.2,250.8 144.2,253.8 145.2,256.7 146.2,257.1 147.2,257.4 148.2,257.3 149.2,257.1 150.2,256.9 151.2,256.8 152.2,256.8 153.2,257.0 154.2,257.2 155.2,257.3 156.2,257.5 157.2,257.7 158.2,257.8 159.2,258.0 160.2,258.2 161.2,258.4 162.2,258.7 163.2,258.9 164.2,258.6 165.2,258.1 166.2,257.6 167.2,257.5 168.2,257.5 169.2,257.5 170.2,258.3 171.2,259.3 172.2,259.4 173.2,258.9 174.2,258.4 175.2,257.9 176.2,257.4 177.2,256.9 178.2,256.1 179.2,255.1 180.2,254.1 181.2,253.1 182.2,251.6 183.2,249.9 184.2,248.3 185.2,246.6 186.2,245.0 187.2,243.3 188.2,242.6 189.2,242.0 190.2,241.4 191.2,240.8 192.2,240.2 193.2,239.6 194.2,239.0 195.2,238.7 196.2,239.1 197.2,239.7 198.2,241.5 199.2,243.2 200.2,245.0 201.2,246.7 202.2,248.7 203.2,250.9 204.2,253.1 205.2,255.1 206.2,255.6 207.2,256.1 208.2,256.6 209.2,257.1 210.2,257.9 211.2,259.0 212.2,260.1 213.2,261.2 214.2,262.4 215.2,263.5 216.2,264.7 217.2,265.9 218.2,266.6 219.2,266.2 220.2,265.8 221.2,265.5 222.2,265.1 223.2,265.4 224.2,266.0 225.2,266.7 226.2,267.4 227.2,268.6 228.2,269.8 229.2,270.9 230.2,271.1 231.2,270.8 232.2,270.4 233.2,270.0 234.2,269.6 235.2,268.8 236.2,268.0 237.2,267.1 238.2,266.9 239.2,267.4 240.2,267.9 241.2,268.4 242.2,269.7 243.2,271.0 244.2,272.3 245.2,273.6 245.3,273.7" fill="none" stroke="#1E4F91" stroke-width="2.4" stroke-linejoin="round" stroke-linecap="round" opacity="1.0"/>
<polyline points="50.2,279.5 51.2,278.7 52.2,277.8 53.2,277.0 54.2,276.4 55.2,275.9 56.2,275.3 57.2,275.8 58.2,276.3 59.2,276.8 60.2,276.7 61.2,276.6 62.2,276.6 63.2,277.9 64.2,279.3 65.2,280.6 66.2,282.6 67.2,284.6 68.2,283.6 69.2,281.0 70.2,278.7 71.2,276.6 72.2,275.7 73.2,276.3 74.2,276.8 75.2,277.7 76.2,278.7 77.2,279.7 78.2,280.5 79.2,281.0 80.2,281.5 81.2,281.3 82.2,280.5 83.2,279.7 84.2,279.0 85.2,278.6 86.2,278.2 87.2,278.1 88.2,278.5 89.2,278.9 90.2,278.9 91.2,278.4 92.2,277.9 93.2,277.1 94.2,275.8 95.2,274.5 96.2,272.3 97.2,269.3 98.2,265.9 99.2,262.2 100.2,259.1 101.2,258.7 102.2,258.8 103.2,260.0 104.2,261.3 105.2,260.7 106.2,258.7 107.2,257.2 108.2,255.9 109.2,255.0 110.2,254.1 111.2,254.0 112.2,255.1 113.2,256.2 114.2,256.8 115.2,256.7 116.2,256.6 117.2,256.3 118.2,255.5 119.2,254.9 120.2,254.6 121.2,254.4 122.2,254.3 123.2,254.2 124.2,254.2 125.2,254.1 126.2,254.1 127.2,254.0 128.2,254.0 129.2,253.9 130.2,253.8 131.2,253.7 132.2,253.6 133.2,253.5 134.2,253.4 135.2,253.3 136.2,253.2 137.2,252.5 138.2,251.5 139.2,249.9 140.2,248.0 141.2,246.9 142.2,246.4 143.2,246.8 144.2,249.5 145.2,252.2 146.2,253.5 147.2,254.5 148.2,254.5 149.2,254.4 150.2,254.4 151.2,254.3 152.2,254.4 153.2,254.6 154.2,254.8 155.2,254.9 156.2,255.1 157.2,255.3 158.2,255.6 159.2,255.8 160.2,256.0 161.2,256.0 162.2,256.0 163.2,256.0 164.2,255.6 165.2,255.2 166.2,254.8 167.2,254.8 168.2,254.8 169.2,255.2 170.2,256.4 171.2,257.5 172.2,257.4 173.2,256.9 174.2,256.5 175.2,256.1 176.2,255.8 177.2,255.5 178.2,254.8 179.2,253.8 180.2,252.8 181.2,251.6 182.2,250.0 183.2,248.3 184.2,246.7 185.2,245.2 186.2,243.7 187.2,242.2 188.2,241.4 189.2,240.8 190.2,240.1 191.2,239.5 192.2,238.9 193.2,238.4 194.2,237.9 195.2,237.6 196.2,237.9 197.2,238.5 198.2,240.3 199.2,242.0 200.2,243.8 201.2,245.5 202.2,247.5 203.2,249.6 204.2,251.7 205.2,253.7 206.2,254.2 207.2,254.7 208.2,255.2 209.2,255.7 210.2,256.4 211.2,257.5 212.2,258.6 213.2,259.7 214.2,260.7 215.2,261.8 216.2,262.8 217.2,263.8 218.2,264.6 219.2,264.6 220.2,264.5 221.2,264.3 222.2,264.2 223.2,264.5 224.2,265.1 225.2,265.5 226.2,266.1 227.2,266.9 228.2,267.7 229.2,268.5 230.2,268.7 231.2,268.6 232.2,268.4 233.2,268.2 234.2,267.8 235.2,267.2 236.2,266.5 237.2,265.8 238.2,265.7 239.2,266.1 240.2,266.6 241.2,267.1 242.2,268.0 243.2,269.2 244.2,270.3 245.2,271.5 245.3,271.7" fill="none" stroke="#2B6CB8" stroke-width="2.4" stroke-linejoin="round" stroke-linecap="round" opacity="1.0"/>
<polyline points="50.2,276.1 51.2,275.4 52.2,274.8 53.2,274.1 54.2,273.7 55.2,273.3 56.2,272.9 57.2,273.4 58.2,273.9 59.2,274.4 60.2,274.5 61.2,274.6 62.2,274.8 63.2,275.9 64.2,277.1 65.2,278.2 66.2,279.6 67.2,280.9 68.2,280.8 69.2,278.6 70.2,276.6 71.2,274.8 72.2,274.2 73.2,274.3 74.2,274.5 75.2,275.2 76.2,275.9 77.2,276.6 78.2,277.3 79.2,277.8 80.2,278.2 81.2,277.8 82.2,277.2 83.2,276.6 84.2,276.1 85.2,275.8 86.2,275.5 87.2,275.3 88.2,275.3 89.2,275.4 90.2,275.1 91.2,274.6 92.2,274.1 93.2,273.3 94.2,272.3 95.2,271.2 96.2,268.9 97.2,266.3 98.2,263.0 99.2,259.5 100.2,257.3 101.2,256.9 102.2,257.2 103.2,258.4 104.2,259.5 105.2,257.9 106.2,255.7 107.2,254.4 108.2,253.4 109.2,252.8 110.2,252.3 111.2,252.3 112.2,253.2 113.2,254.1 114.2,254.5 115.2,254.1 116.2,253.7 117.2,253.2 118.2,252.5 119.2,252.0 120.2,251.6 121.2,251.4 122.2,251.2 123.2,251.0 124.2,250.9 125.2,250.8 126.2,250.6 127.2,250.5 128.2,250.5 129.2,250.5 130.2,250.5 131.2,250.4 132.2,250.4 133.2,250.3 134.2,250.3 135.2,250.2 136.2,250.1 137.2,248.9 138.2,247.6 139.2,245.2 140.2,242.6 141.2,241.5 142.2,241.8 143.2,242.7 144.2,245.2 145.2,247.7 146.2,249.9 147.2,251.6 148.2,251.7 149.2,251.7 150.2,251.8 151.2,251.9 152.2,252.0 153.2,252.2 154.2,252.3 155.2,252.5 156.2,252.7 157.2,253.0 158.2,253.3 159.2,253.5 160.2,253.8 161.2,253.7 162.2,253.4 163.2,253.1 164.2,252.7 165.2,252.3 166.2,252.1 167.2,252.1 168.2,252.1 169.2,252.9 170.2,254.5 171.2,255.7 172.2,255.4 173.2,254.9 174.2,254.5 175.2,254.3 176.2,254.2 177.2,254.0 178.2,253.4 179.2,252.4 180.2,251.4 181.2,250.1 182.2,248.4 183.2,246.7 184.2,245.2 185.2,243.8 186.2,242.5 187.2,241.2 188.2,240.3 189.2,239.6 190.2,238.9 191.2,238.2 192.2,237.7 193.2,237.2 194.2,236.8 195.2,236.6 196.2,236.7 197.2,237.3 198.2,239.1 199.2,240.8 200.2,242.6 201.2,244.3 202.2,246.2 203.2,248.3 204.2,250.3 205.2,252.2 206.2,252.7 207.2,253.2 208.2,253.7 209.2,254.2 210.2,255.0 211.2,256.0 212.2,257.0 213.2,258.1 214.2,259.1 215.2,260.0 216.2,260.9 217.2,261.8 218.2,262.5 219.2,262.9 220.2,263.1 221.2,263.2 222.2,263.4 223.2,263.7 224.2,264.1 225.2,264.4 226.2,264.7 227.2,265.1 228.2,265.6 229.2,266.1 230.2,266.3 231.2,266.4 232.2,266.4 233.2,266.4 234.2,266.1 235.2,265.6 236.2,265.0 237.2,264.5 238.2,264.4 239.2,264.9 240.2,265.3 241.2,265.7 242.2,266.3 243.2,267.3 244.2,268.4 245.2,269.5 245.3,269.6" fill="none" stroke="#2B6CB8" stroke-width="2.4" stroke-linejoin="round" stroke-linecap="round" opacity="1.0"/>
<polyline points="50.2,273.2 51.2,272.7 52.2,272.2 53.2,271.7 54.2,271.4 55.2,271.2 56.2,270.9 57.2,271.4 58.2,271.9 59.2,272.4 60.2,272.7 61.2,272.9 62.2,273.2 63.2,274.2 64.2,275.2 65.2,276.2 66.2,276.9 67.2,277.7 68.2,278.3 69.2,276.6 70.2,274.8 71.2,273.1 72.2,272.9 73.2,272.6 74.2,272.5 75.2,273.0 76.2,273.5 77.2,274.0 78.2,274.5 79.2,275.0 80.2,275.4 81.2,274.9 82.2,274.4 83.2,273.9 84.2,273.6 85.2,273.4 86.2,273.1 87.2,272.9 88.2,272.6 89.2,272.4 90.2,271.9 91.2,271.4 92.2,270.8 93.2,270.1 94.2,269.3 95.2,268.4 96.2,266.0 97.2,263.7 98.2,260.5 99.2,257.2 100.2,255.8 101.2,255.4 102.2,255.8 103.2,257.1 104.2,257.8 105.2,255.5 106.2,253.2 107.2,251.9 108.2,251.2 109.2,250.9 110.2,250.7 111.2,250.9 112.2,251.6 113.2,252.4 114.2,252.5 115.2,251.8 116.2,251.2 117.2,250.5 118.2,249.8 119.2,249.5 120.2,249.1 121.2,248.8 122.2,248.5 123.2,248.2 124.2,248.1 125.2,247.9 126.2,247.7 127.2,247.6 128.2,247.6 129.2,247.6 130.2,247.6 131.2,247.6 132.2,247.6 133.2,247.6 134.2,247.6 135.2,247.6 136.2,247.5 137.2,245.9 138.2,244.2 139.2,241.3 140.2,238.0 141.2,236.9 142.2,237.9 143.2,239.2 144.2,241.6 145.2,243.9 146.2,246.8 147.2,249.1 148.2,249.3 149.2,249.4 150.2,249.6 151.2,249.8 152.2,249.9 153.2,250.1 154.2,250.3 155.2,250.4 156.2,250.6 157.2,251.0 158.2,251.3 159.2,251.6 160.2,252.0 161.2,251.7 162.2,251.2 163.2,250.7 164.2,250.2 165.2,249.8 166.2,249.8 167.2,249.8 168.2,249.8 169.2,250.9 170.2,252.9 171.2,254.1 172.2,253.6 173.2,253.1 174.2,252.8 175.2,252.8 176.2,252.8 177.2,252.8 178.2,252.2 179.2,251.2 180.2,250.2 181.2,248.8 182.2,247.0 183.2,245.3 184.2,243.9 185.2,242.7 186.2,241.5 187.2,240.3 188.2,239.4 189.2,238.6 190.2,237.8 191.2,237.0 192.2,236.6 193.2,236.2 194.2,235.8 195.2,235.6 196.2,235.7 197.2,236.3 198.2,238.0 199.2,239.8 200.2,241.5 201.2,243.3 202.2,245.1 203.2,247.1 204.2,249.1 205.2,251.0 206.2,251.5 207.2,252.0 208.2,252.5 209.2,253.0 210.2,253.7 211.2,254.7 212.2,255.7 213.2,256.7 214.2,257.7 215.2,258.5 216.2,259.3 217.2,260.0 218.2,260.8 219.2,261.5 220.2,261.9 221.2,262.2 222.2,262.6 223.2,263.0 224.2,263.3 225.2,263.4 226.2,263.5 227.2,263.6 228.2,263.8 229.2,264.0 230.2,264.2 231.2,264.5 232.2,264.7 233.2,264.9 234.2,264.5 235.2,264.2 236.2,263.8 237.2,263.4 238.2,263.4 239.2,263.8 240.2,264.1 241.2,264.5 242.2,264.9 243.2,265.8 244.2,266.8 245.2,267.8 245.3,267.9" fill="none" stroke="#4A86CC" stroke-width="2.3" stroke-linejoin="round" stroke-linecap="round" opacity="1.0"/>
<polyline points="50.2,267.2 51.2,266.8 52.2,266.5 53.2,266.1 54.2,266.0 55.2,265.8 56.2,265.7 57.2,265.9 58.2,266.2 59.2,266.4 60.2,266.4 61.2,266.4 62.2,266.5 63.2,267.0 64.2,267.5 65.2,268.0 66.2,269.0 67.2,270.0 68.2,270.9 69.2,270.4 70.2,269.9 71.2,269.4 72.2,268.9 73.2,268.4 74.2,267.9 75.2,267.9 76.2,267.9 77.2,267.9 78.2,268.0 79.2,268.2 80.2,268.4 81.2,268.6 82.2,268.4 83.2,268.0 84.2,267.6 85.2,267.2 86.2,267.0 87.2,266.8 88.2,266.6 89.2,266.4 90.2,266.3 91.2,266.3 92.2,266.2 93.2,266.1 94.2,265.9 95.2,265.8 96.2,264.8 97.2,262.6 98.2,260.3 99.2,258.2 100.2,256.2 101.2,254.4 102.2,254.1 103.2,253.8 104.2,253.4 105.2,252.4 106.2,251.4 107.2,250.4 108.2,249.7 109.2,249.4 110.2,249.2 111.2,249.3 112.2,249.8 113.2,250.3 114.2,250.3 115.2,249.6 116.2,248.9 117.2,248.3 118.2,247.6 119.2,247.2 120.2,246.9 121.2,246.6 122.2,246.2 123.2,246.0 124.2,245.8 125.2,245.6 126.2,245.5 127.2,245.3 128.2,245.3 129.2,245.3 130.2,245.3 131.2,245.3 132.2,245.3 133.2,245.3 134.2,245.3 135.2,245.3 136.2,245.3 137.2,243.6 138.2,242.0 139.2,239.2 140.2,236.1 141.2,235.0 142.2,235.8 143.2,237.0 144.2,239.3 145.2,241.6 146.2,242.4 147.2,243.0 148.2,242.8 149.2,242.5 150.2,242.4 151.2,242.6 152.2,242.8 153.2,243.0 154.2,243.1 155.2,243.2 156.2,243.4 157.2,243.5 158.2,243.7 159.2,244.0 160.2,244.3 161.2,244.6 162.2,244.4 163.2,244.2 164.2,244.0 165.2,243.8 166.2,243.6 167.2,243.4 168.2,243.2 169.2,243.6 170.2,244.6 171.2,245.6 172.2,245.8 173.2,245.4 174.2,245.0 175.2,244.6 176.2,244.1 177.2,243.5 178.2,242.9 179.2,242.2 180.2,240.2 181.2,238.2 182.2,236.2 183.2,234.3 184.2,232.6 185.2,230.9 186.2,229.3 187.2,227.6 188.2,226.5 189.2,225.5 190.2,224.5 191.2,223.5 192.2,222.7 193.2,222.3 194.2,221.9 195.2,221.5 196.2,221.7 197.2,222.2 198.2,222.7 199.2,224.2 200.2,226.2 201.2,228.2 202.2,230.7 203.2,232.7 204.2,233.7 205.2,234.7 206.2,235.7 207.2,236.7 208.2,237.7 209.2,238.7 210.2,239.7 211.2,240.7 212.2,241.8 213.2,243.5 214.2,245.1 215.2,246.8 216.2,248.2 217.2,249.5 218.2,250.7 219.2,252.0 220.2,253.2 221.2,254.0 222.2,254.8 223.2,255.5 224.2,256.3 225.2,256.9 226.2,257.4 227.2,257.9 228.2,258.4 229.2,258.9 230.2,259.3 231.2,259.5 232.2,259.8 233.2,260.0 234.2,260.3 235.2,259.8 236.2,259.3 237.2,258.8 238.2,258.7 239.2,259.1 240.2,259.5 241.2,259.8 242.2,260.2 243.2,261.2 244.2,262.4 245.2,263.6 245.9,264.4" fill="none" stroke="#6A9BDA" stroke-width="2.4" stroke-linejoin="round" stroke-linecap="round" opacity="1.0"/>
<polyline points="50.2,260.2 51.2,259.8 52.2,259.4 53.2,259.0 54.2,259.2 55.2,259.5 56.2,259.7 57.2,260.5 58.2,261.2 59.2,261.9 60.2,260.8 61.2,259.7 62.2,258.6 63.2,258.2 64.2,259.6 65.2,261.0 66.2,262.3 67.2,263.7 68.2,264.9 69.2,264.4 70.2,263.9 71.2,263.4 72.2,263.2 73.2,263.0 74.2,262.8 75.2,262.8 76.2,262.9 77.2,263.1 78.2,263.3 79.2,263.4 80.2,263.4 81.2,263.4 82.2,263.4 83.2,263.4 84.2,263.4 85.2,263.3 86.2,263.3 87.2,263.2 88.2,262.8 89.2,262.1 90.2,261.5 91.2,261.1 92.2,260.9 93.2,260.9 94.2,261.3 95.2,261.7 96.2,261.0 97.2,258.5 98.2,255.9 99.2,253.0 100.2,249.6 101.2,246.7 102.2,245.7 103.2,244.7 104.2,243.8 105.2,243.6 106.2,243.4 107.2,243.2 108.2,242.8 109.2,242.0 110.2,241.3 111.2,240.6 112.2,240.1 113.2,239.6 114.2,239.4 115.2,239.7 116.2,239.9 117.2,239.7 118.2,239.0 119.2,238.2 120.2,237.5 121.2,236.7 122.2,236.0 123.2,235.4 124.2,235.0 125.2,234.6 126.2,234.2 127.2,234.2 128.2,234.3 129.2,234.4 130.2,234.5 131.2,234.7 132.2,234.9 133.2,235.0 134.2,235.2 135.2,235.3 136.2,235.5 137.2,235.1 138.2,233.1 139.2,231.1 140.2,229.6 141.2,228.1 142.2,226.7 143.2,228.3 144.2,230.0 145.2,230.8 146.2,231.4 147.2,231.7 148.2,231.2 149.2,230.7 150.2,230.5 151.2,230.9 152.2,231.3 153.2,231.7 154.2,232.1 155.2,232.5 156.2,232.9 157.2,233.3 158.2,233.7 159.2,234.1 160.2,234.5 161.2,234.8 162.2,234.7 163.2,234.6 164.2,234.5 165.2,233.6 166.2,232.8 167.2,233.4 168.2,234.4 169.2,235.4 170.2,236.4 171.2,237.4 172.2,237.3 173.2,236.3 174.2,235.5 175.2,235.4 176.2,235.2 177.2,235.0 178.2,234.9 179.2,233.9 180.2,232.7 181.2,231.5 182.2,230.2 183.2,228.6 184.2,227.0 185.2,225.4 186.2,223.9 187.2,222.5 188.2,221.1 189.2,219.7 190.2,218.7 191.2,217.9 192.2,217.1 193.2,216.3 194.2,216.2 195.2,216.2 196.2,216.2 197.2,217.0 198.2,218.0 199.2,219.0 200.2,223.3 201.2,228.0 202.2,230.6 203.2,231.6 204.2,232.6 205.2,233.6 206.2,234.3 207.2,235.1 208.2,235.8 209.2,236.6 210.2,237.4 211.2,238.4 212.2,239.4 213.2,240.4 214.2,241.4 215.2,242.4 216.2,243.4 217.2,244.4 218.2,245.4 219.2,246.4 220.2,247.3 221.2,248.2 222.2,249.0 223.2,249.9 224.2,250.5 225.2,250.8 226.2,251.0 227.2,251.3 228.2,251.5 229.2,251.8 230.2,252.2 231.2,252.6 232.2,253.0 233.2,253.3 234.2,252.9 235.2,252.5 236.2,252.1 237.2,251.8 238.2,251.9 239.2,252.7 240.2,253.4 241.2,254.2 242.2,254.9 243.2,255.9 244.2,256.9 245.2,257.9 245.9,258.5" fill="none" stroke="#42A4BC" stroke-width="2.5" stroke-linejoin="round" stroke-linecap="round" opacity="1.0"/>
<polyline points="50.2,237.8 51.2,236.8 52.2,235.8 53.2,235.3 54.2,235.0 55.2,235.9 56.2,237.9 57.2,239.9 58.2,241.9 59.2,243.7 60.2,240.7 61.2,237.7 62.2,235.6 63.2,233.7 64.2,237.3 65.2,241.0 66.2,244.9 67.2,248.7 68.2,248.3 69.2,246.7 70.2,244.9 71.2,242.9 72.2,241.8 73.2,242.4 74.2,243.1 75.2,243.7 76.2,244.1 77.2,244.5 78.2,243.8 79.2,243.0 80.2,242.2 81.2,241.4 82.2,240.5 83.2,239.6 84.2,239.3 85.2,240.2 86.2,241.0 87.2,241.7 88.2,242.2 89.2,242.4 90.2,240.2 91.2,238.1 92.2,237.4 93.2,236.8 94.2,237.2 95.2,238.1 96.2,239.0 97.2,234.4 98.2,226.7 99.2,220.2 100.2,214.1 101.2,211.8 102.2,212.1 103.2,212.4 104.2,212.9 105.2,213.4 106.2,213.9 107.2,214.2 108.2,214.6 109.2,214.0 110.2,213.0 111.2,212.0 112.2,211.0 113.2,210.0 114.2,209.5 115.2,209.8 116.2,210.0 117.2,210.0 118.2,209.5 119.2,209.0 120.2,208.5 121.2,208.0 122.2,207.5 123.2,207.1 124.2,206.9 125.2,206.7 126.2,206.5 127.2,206.6 128.2,206.8 129.2,207.0 130.2,207.2 131.2,207.7 132.2,208.2 133.2,208.7 134.2,208.9 135.2,208.0 136.2,207.2 137.2,206.7 138.2,206.2 139.2,205.7 140.2,205.4 141.2,205.2 142.2,204.9 143.2,205.2 144.2,205.4 145.2,205.7 146.2,205.3 147.2,204.8 148.2,204.0 149.2,203.3 150.2,202.7 151.2,202.9 152.2,203.1 153.2,203.3 154.2,203.5 155.2,203.7 156.2,203.9 157.2,204.1 158.2,204.7 159.2,205.3 160.2,205.9 161.2,206.4 162.2,206.2 163.2,206.0 164.2,205.8 165.2,205.8 166.2,206.3 167.2,206.8 168.2,207.5 169.2,208.5 170.2,209.5 171.2,210.1 172.2,209.8 173.2,209.6 174.2,209.3 175.2,208.8 176.2,208.3 177.2,207.8 178.2,207.3 179.2,206.2 180.2,205.1 181.2,203.9 182.2,202.7 183.2,201.6 184.2,200.6 185.2,199.6 186.2,198.6 187.2,197.6 188.2,196.9 189.2,196.2 190.2,195.6 191.2,194.9 192.2,194.4 193.2,194.0 194.2,193.7 195.2,193.4 196.2,193.5 197.2,193.9 198.2,194.3 199.2,195.4 200.2,196.9 201.2,198.4 202.2,200.1 203.2,201.8 204.2,203.6 205.2,204.7 206.2,205.5 207.2,206.3 208.2,207.1 209.2,207.6 210.2,208.1 211.2,208.6 212.2,209.9 213.2,211.2 214.2,213.3 215.2,215.6 216.2,217.4 217.2,218.7 218.2,219.9 219.2,221.0 220.2,221.7 221.2,222.5 222.2,223.6 223.2,225.1 224.2,226.6 225.2,227.0 226.2,226.1 227.2,225.2 228.2,224.3 229.2,225.1 230.2,226.6 231.2,228.0 232.2,229.2 233.2,230.5 234.2,230.3 235.2,228.5 236.2,226.8 237.2,225.8 238.2,225.7 239.2,225.6 240.2,226.3 241.2,227.6 242.2,229.0 243.2,230.8 244.2,233.1 245.2,235.7 246.2,238.7 246.5,239.3" fill="none" stroke="#B2000E" stroke-width="2.5" stroke-linejoin="round" stroke-linecap="round" opacity="1.0"/></g>
<clipPath id="clipB"><rect x="45.6" y="187.3" width="202.9" height="135.5"/></clipPath>
<rect x="45.6" y="187.3" width="202.9" height="135.5" fill="none" stroke="#4a4a4a" stroke-width="1.2"/>
<rect x="45.6" y="333.4" width="204.1" height="2.3" fill="#d6d6d6"/>
<rect x="45.6" y="325.4" width="203.6" height="7.599999999999977" fill="#fff" stroke="#222" stroke-width="0.9"/>
<rect x="45.1" y="325.0" width="54.6" height="8.399999999999977" fill="#000"/>
<rect x="195.4" y="325.0" width="54.29999999999998" height="8.399999999999977" fill="#000"/>
<text x="3.1" y="199.3" style="font-family:'Liberation Sans',sans-serif;font-weight:bold;font-size:17px">B</text>
<text transform="translate(37.2,323.0) rotate(-90)" style="font-family:'Liberation Sans',sans-serif;font-weight:bold;font-size:12px">Log (Activity Intensity)</text>
<text x="245.7" y="198.8" text-anchor="end" style="font-family:'Liberation Sans',sans-serif;font-weight:bold;font-size:12.6px">50-60</text>
<text x="99.7" y="347.3" text-anchor="middle" style="font-family:'Liberation Sans',sans-serif;font-weight:bold;font-size:13.5px">ZT 0</text>
<text x="197.9" y="347.3" text-anchor="middle" style="font-family:'Liberation Sans',sans-serif;font-weight:bold;font-size:13.5px">ZT 12</text>
<rect x="45.6" y="351.5" width="202.9" height="136.39999999999998" fill="#fff"/>
<line x1="45.6" y1="352.8" x2="248.5" y2="352.8" stroke="#c8c8c8" stroke-width="1.2"/>
<line x1="45.6" y1="378.5" x2="246.0" y2="378.5" stroke="#a2a2a2" stroke-width="1"/>
<line x1="45.6" y1="406.5" x2="246.0" y2="406.5" stroke="#a2a2a2" stroke-width="1"/>
<line x1="45.6" y1="433.5" x2="246.0" y2="433.5" stroke="#a2a2a2" stroke-width="1"/>
<line x1="45.6" y1="460.5" x2="246.0" y2="460.5" stroke="#a2a2a2" stroke-width="1"/>
<g clip-path="url(#clipC)"><polyline points="50.2,435.6 51.2,436.1 52.2,436.6 53.2,437.1 54.2,438.8 55.2,440.5 56.2,440.5 57.2,440.0 58.2,439.5 59.2,439.6 60.2,439.8 61.2,440.1 62.2,439.7 63.2,439.2 64.2,438.7 65.2,438.6 66.2,438.6 67.2,438.6 68.2,438.8 69.2,439.1 70.2,439.3 71.2,440.2 72.2,441.2 73.2,442.2 74.2,442.9 75.2,443.6 76.2,445.3 77.2,447.5 78.2,446.1 79.2,444.8 80.2,439.6 81.2,433.6 82.2,430.4 83.2,429.0 84.2,429.1 85.2,431.7 86.2,434.6 87.2,438.6 88.2,442.6 89.2,445.1 90.2,447.4 91.2,448.7 92.2,449.4 93.2,449.5 94.2,448.5 95.2,447.2 96.2,444.6 97.2,441.9 98.2,436.3 99.2,430.3 100.2,427.3 101.2,426.0 102.2,425.3 103.2,425.6 104.2,426.0 105.2,426.3 106.2,426.6 107.2,427.0 108.2,427.3 109.2,427.6 110.2,428.0 111.2,428.2 112.2,428.4 113.2,428.6 114.2,428.7 115.2,428.9 116.2,429.4 117.2,429.9 118.2,430.4 119.2,430.6 120.2,430.9 121.2,431.1 122.2,430.7 123.2,430.2 124.2,429.7 125.2,428.7 126.2,427.7 127.2,426.7 128.2,424.7 129.2,422.7 130.2,420.7 131.2,420.4 132.2,420.2 133.2,419.9 134.2,419.8 135.2,419.6 136.2,419.4 137.2,419.3 138.2,418.9 139.2,418.4 140.2,417.9 141.2,417.4 142.2,416.9 143.2,416.5 144.2,416.0 145.2,415.5 146.2,415.1 147.2,414.6 148.2,414.1 149.2,413.7 150.2,413.2 151.2,412.9 152.2,412.7 153.2,412.5 154.2,412.3 155.2,412.0 156.2,411.6 157.2,411.2 158.2,410.8 159.2,411.4 160.2,412.0 161.2,412.6 162.2,413.2 163.2,414.0 164.2,414.8 165.2,415.6 166.2,416.4 167.2,417.2 168.2,418.0 169.2,418.8 170.2,419.5 171.2,420.1 172.2,420.7 173.2,421.2 174.2,420.7 175.2,420.2 176.2,419.6 177.2,417.0 178.2,414.4 179.2,411.8 180.2,409.5 181.2,407.8 182.2,406.1 183.2,404.5 184.2,402.8 185.2,402.1 186.2,401.6 187.2,401.1 188.2,400.6 189.2,400.2 190.2,400.1 191.2,399.9 192.2,399.7 193.2,399.6 194.2,399.5 195.2,399.5 196.2,399.5 197.2,399.5 198.2,399.6 199.2,399.6 200.2,399.7 201.2,401.7 202.2,404.4 203.2,407.0 204.2,409.3 205.2,410.3 206.2,411.3 207.2,412.3 208.2,413.3 209.2,414.3 210.2,415.3 211.2,416.3 212.2,417.3 213.2,418.3 214.2,419.0 215.2,419.8 216.2,420.5 217.2,421.3 218.2,422.0 219.2,422.8 220.2,423.5 221.2,424.3 222.2,425.0 223.2,425.2 224.2,425.1 225.2,425.0 226.2,424.9 227.2,424.7 228.2,425.3 229.2,426.0 230.2,426.6 231.2,427.2 232.2,427.9 233.2,428.6 234.2,429.4 235.2,430.1 236.2,430.9 237.2,431.4 238.2,431.7 239.2,432.0 240.2,432.1 241.2,430.8 242.2,429.5 243.2,428.1 244.2,426.7 245.2,425.2 245.9,424.2" fill="none" stroke="#F2AE72" stroke-width="2.3" stroke-linejoin="round" stroke-linecap="round" opacity="1.0"/>
<polyline points="50.2,434.4 51.2,434.9 52.2,435.4 53.2,435.9 54.2,437.6 55.2,439.3 56.2,439.3 57.2,438.8 58.2,438.3 59.2,438.4 60.2,438.6 61.2,438.9 62.2,438.5 63.2,438.0 64.2,437.5 65.2,437.4 66.2,437.4 67.2,437.4 68.2,437.6 69.2,437.9 70.2,438.1 71.2,439.0 72.2,440.0 73.2,441.0 74.2,441.7 75.2,442.4 76.2,444.1 77.2,446.3 78.2,444.9 79.2,443.6 80.2,438.4 81.2,432.4 82.2,429.2 83.2,427.8 84.2,427.9 85.2,430.5 86.2,433.4 87.2,437.4 88.2,441.4 89.2,443.9 90.2,446.2 91.2,447.5 92.2,448.2 93.2,448.3 94.2,447.3 95.2,446.0 96.2,443.4 97.2,440.7 98.2,435.1 99.2,429.1 100.2,426.1 101.2,424.8 102.2,424.1 103.2,424.4 104.2,424.8 105.2,425.1 106.2,425.4 107.2,425.8 108.2,426.1 109.2,426.4 110.2,426.8 111.2,427.0 112.2,427.2 113.2,427.4 114.2,427.5 115.2,427.7 116.2,428.2 117.2,428.7 118.2,429.2 119.2,429.4 120.2,429.7 121.2,429.9 122.2,429.5 123.2,429.0 124.2,428.5 125.2,427.5 126.2,426.5 127.2,425.5 128.2,423.5 129.2,421.5 130.2,419.5 131.2,419.2 132.2,419.0 133.2,418.7 134.2,418.6 135.2,418.4 136.2,418.2 137.2,418.1 138.2,417.7 139.2,417.2 140.2,416.7 141.2,416.2 142.2,415.7 143.2,415.3 144.2,414.8 145.2,414.3 146.2,413.9 147.2,413.4 148.2,412.9 149.2,412.5 150.2,412.0 151.2,411.7 152.2,411.5 153.2,411.3 154.2,411.1 155.2,410.8 156.2,410.4 157.2,410.0 158.2,409.6 159.2,410.2 160.2,410.8 161.2,411.4 162.2,412.0 163.2,412.8 164.2,413.6 165.2,414.4 166.2,415.2 167.2,416.0 168.2,416.8 169.2,417.6 170.2,418.3 171.2,418.9 172.2,419.5 173.2,420.0 174.2,419.5 175.2,419.0 176.2,418.4 177.2,415.8 178.2,413.2 179.2,410.6 180.2,408.3 181.2,406.6 182.2,404.9 183.2,403.3 184.2,401.6 185.2,400.9 186.2,400.4 187.2,399.9 188.2,399.4 189.2,399.0 190.2,398.9 191.2,398.7 192.2,398.5 193.2,398.4 194.2,398.3 195.2,398.3 196.2,398.3 197.2,398.3 198.2,398.4 199.2,398.4 200.2,398.5 201.2,400.5 202.2,403.2 203.2,405.8 204.2,408.1 205.2,409.1 206.2,410.1 207.2,411.1 208.2,412.1 209.2,413.1 210.2,414.1 211.2,415.1 212.2,416.1 213.2,417.1 214.2,417.8 215.2,418.6 216.2,419.3 217.2,420.1 218.2,420.8 219.2,421.6 220.2,422.3 221.2,423.1 222.2,423.8 223.2,424.0 224.2,423.9 225.2,423.8 226.2,423.7 227.2,423.5 228.2,424.1 229.2,424.8 230.2,425.4 231.2,426.0 232.2,426.7 233.2,427.4 234.2,428.2 235.2,428.9 236.2,429.7 237.2,430.2 238.2,430.5 239.2,430.8 240.2,430.9 241.2,429.6 242.2,428.3 243.2,426.9 244.2,425.5 245.2,424.0 245.9,423.0" fill="none" stroke="#EA9148" stroke-width="2.3" stroke-linejoin="round" stroke-linecap="round" opacity="1.0"/>
<polyline points="50.2,443.4 51.2,443.4 52.2,443.4 53.2,443.4 54.2,443.1 55.2,442.9 56.2,442.7 57.2,443.7 58.2,444.7 59.2,445.6 60.2,445.1 61.2,444.6 62.2,444.1 63.2,443.1 64.2,442.1 65.2,441.2 66.2,441.9 67.2,442.7 68.2,443.5 69.2,446.0 70.2,448.5 71.2,451.0 72.2,453.0 73.2,455.0 74.2,456.9 75.2,458.3 76.2,459.6 77.2,458.7 78.2,457.4 79.2,454.5 80.2,450.5 81.2,446.5 82.2,441.5 83.2,435.9 84.2,432.5 85.2,433.5 86.2,435.0 87.2,440.3 88.2,445.7 89.2,448.7 90.2,451.4 91.2,453.2 92.2,454.5 93.2,455.0 94.2,454.0 95.2,452.6 96.2,449.0 97.2,445.3 98.2,439.0 99.2,432.3 100.2,429.5 101.2,428.8 102.2,428.5 103.2,428.8 104.2,429.0 105.2,429.5 106.2,430.3 107.2,431.0 108.2,431.9 109.2,432.9 110.2,433.9 111.2,434.7 112.2,435.5 113.2,436.2 114.2,436.9 115.2,437.4 116.2,437.9 117.2,437.9 118.2,437.4 119.2,436.9 120.2,436.3 121.2,435.6 122.2,434.8 123.2,433.8 124.2,432.6 125.2,431.3 126.2,429.9 127.2,428.1 128.2,426.4 129.2,425.3 130.2,425.1 131.2,424.8 132.2,425.0 133.2,425.5 134.2,426.0 135.2,426.5 136.2,427.0 137.2,427.0 138.2,427.0 139.2,426.9 140.2,426.4 141.2,425.9 142.2,425.4 143.2,424.9 144.2,424.4 145.2,423.7 146.2,423.0 147.2,422.3 148.2,421.8 149.2,421.3 150.2,420.8 151.2,420.3 152.2,420.3 153.2,420.5 154.2,420.7 155.2,420.8 156.2,421.0 157.2,421.0 158.2,421.0 159.2,421.0 160.2,421.0 161.2,421.2 162.2,421.6 163.2,421.9 164.2,422.2 165.2,422.7 166.2,423.3 167.2,424.0 168.2,424.7 169.2,425.3 170.2,426.3 171.2,427.3 172.2,428.3 173.2,430.1 174.2,432.1 175.2,432.2 176.2,430.8 177.2,429.1 178.2,426.6 179.2,424.1 180.2,421.8 181.2,419.8 182.2,417.8 183.2,415.8 184.2,414.0 185.2,412.3 186.2,410.6 187.2,408.8 188.2,407.3 189.2,407.0 190.2,406.6 191.2,406.3 192.2,406.0 193.2,405.8 194.2,405.8 195.2,405.8 196.2,405.8 197.2,405.7 198.2,405.1 199.2,404.4 200.2,407.1 201.2,410.1 202.2,413.1 203.2,415.4 204.2,416.9 205.2,418.4 206.2,419.9 207.2,420.9 208.2,421.7 209.2,422.6 210.2,423.5 211.2,424.3 212.2,425.0 213.2,425.6 214.2,426.3 215.2,427.0 216.2,427.6 217.2,428.3 218.2,429.0 219.2,429.8 220.2,430.7 221.2,431.5 222.2,431.3 223.2,430.8 224.2,430.3 225.2,429.8 226.2,429.3 227.2,428.8 228.2,428.3 229.2,429.4 230.2,430.9 231.2,432.4 232.2,433.7 233.2,434.7 234.2,435.7 235.2,436.7 236.2,437.7 237.2,438.4 238.2,438.9 239.2,439.4 240.2,439.9 241.2,440.4 242.2,440.2 243.2,439.9 244.2,439.6 245.2,439.3 245.3,439.3" fill="none" stroke="#1E4F91" stroke-width="2.4" stroke-linejoin="round" stroke-linecap="round" opacity="1.0"/>
<polyline points="50.2,441.0 51.2,441.0 52.2,441.0 53.2,441.0 54.2,441.0 55.2,440.9 56.2,440.8 57.2,441.4 58.2,442.0 59.2,442.5 60.2,442.2 61.2,441.9 62.2,441.7 63.2,441.1 64.2,440.5 65.2,440.0 66.2,440.5 67.2,441.1 68.2,441.9 69.2,443.9 70.2,445.9 71.2,448.1 72.2,450.1 73.2,452.1 74.2,453.9 75.2,455.2 76.2,456.0 77.2,455.0 78.2,453.7 79.2,450.9 80.2,446.9 81.2,442.9 82.2,438.4 83.2,433.7 84.2,431.1 85.2,432.4 86.2,434.1 87.2,438.6 88.2,443.1 89.2,446.0 90.2,448.5 91.2,450.2 92.2,451.5 93.2,451.8 94.2,450.8 95.2,449.5 96.2,446.1 97.2,442.7 98.2,436.6 99.2,430.1 100.2,427.5 101.2,426.8 102.2,426.5 103.2,426.7 104.2,427.1 105.2,427.6 106.2,428.3 107.2,428.9 108.2,429.6 109.2,430.3 110.2,431.1 111.2,431.8 112.2,432.3 113.2,432.9 114.2,433.3 115.2,433.7 116.2,434.2 117.2,434.4 118.2,434.2 119.2,433.9 120.2,433.4 121.2,432.8 122.2,432.1 123.2,431.2 124.2,430.0 125.2,428.7 126.2,427.3 127.2,425.6 128.2,424.0 129.2,422.9 130.2,422.6 131.2,422.3 132.2,422.3 133.2,422.7 134.2,423.0 135.2,423.4 136.2,423.8 137.2,423.7 138.2,423.6 139.2,423.5 140.2,423.0 141.2,422.5 142.2,422.1 143.2,421.6 144.2,421.0 145.2,420.4 146.2,419.8 147.2,419.3 148.2,419.2 149.2,419.0 150.2,418.9 151.2,418.6 152.2,418.6 153.2,418.6 154.2,418.6 155.2,418.7 156.2,418.7 157.2,418.6 158.2,418.6 159.2,418.7 160.2,418.8 161.2,419.1 162.2,419.5 163.2,419.9 164.2,420.4 165.2,420.9 166.2,421.5 167.2,422.1 168.2,422.8 169.2,423.4 170.2,424.2 171.2,425.1 172.2,426.0 173.2,427.3 174.2,428.8 175.2,429.0 176.2,428.3 177.2,426.9 178.2,424.3 179.2,421.7 180.2,419.2 181.2,417.2 182.2,415.3 183.2,413.4 184.2,411.7 185.2,410.0 186.2,408.7 187.2,407.4 188.2,406.2 189.2,405.8 190.2,405.5 191.2,405.2 192.2,405.0 193.2,404.8 194.2,404.8 195.2,404.8 196.2,404.8 197.2,404.7 198.2,404.3 199.2,403.6 200.2,406.0 201.2,408.8 202.2,411.6 203.2,413.9 204.2,415.6 205.2,417.2 206.2,418.9 207.2,419.9 208.2,420.8 209.2,421.7 210.2,422.6 211.2,423.5 212.2,424.1 213.2,424.8 214.2,425.4 215.2,426.1 216.2,426.7 217.2,427.3 218.2,428.0 219.2,428.7 220.2,429.4 221.2,430.0 222.2,429.9 223.2,429.6 224.2,429.3 225.2,429.0 226.2,428.6 227.2,428.2 228.2,427.8 229.2,428.4 230.2,429.6 231.2,430.9 232.2,432.1 233.2,433.1 234.2,434.1 235.2,434.9 236.2,435.8 237.2,436.4 238.2,436.9 239.2,437.3 240.2,437.7 241.2,438.0 242.2,437.8 243.2,437.6 244.2,437.3 245.2,437.0 245.3,436.9" fill="none" stroke="#2B6CB8" stroke-width="2.4" stroke-linejoin="round" stroke-linecap="round" opacity="1.0"/>
<polyline points="50.2,438.7 51.2,438.7 52.2,438.7 53.2,438.7 54.2,438.8 55.2,438.9 56.2,439.0 57.2,439.2 58.2,439.3 59.2,439.5 60.2,439.2 61.2,439.2 62.2,439.2 63.2,439.1 64.2,438.9 65.2,438.8 66.2,439.1 67.2,439.5 68.2,440.3 69.2,441.8 70.2,443.2 71.2,445.2 72.2,447.2 73.2,449.2 74.2,450.8 75.2,452.2 76.2,452.5 77.2,451.3 78.2,450.1 79.2,447.2 80.2,443.2 81.2,439.2 82.2,435.3 83.2,431.5 84.2,429.6 85.2,431.3 86.2,433.2 87.2,436.9 88.2,440.6 89.2,443.3 90.2,445.7 91.2,447.3 92.2,448.4 93.2,448.7 94.2,447.7 95.2,446.4 96.2,443.2 97.2,440.0 98.2,434.2 99.2,428.0 100.2,425.4 101.2,424.9 102.2,424.4 103.2,424.6 104.2,425.1 105.2,425.7 106.2,426.3 107.2,426.8 108.2,427.3 109.2,427.8 110.2,428.4 111.2,428.8 112.2,429.2 113.2,429.5 114.2,429.8 115.2,430.1 116.2,430.5 117.2,430.8 118.2,430.9 119.2,430.9 120.2,430.5 121.2,430.0 122.2,429.5 123.2,428.6 124.2,427.4 125.2,426.1 126.2,424.7 127.2,423.1 128.2,421.6 129.2,420.5 130.2,420.1 131.2,419.7 132.2,419.6 133.2,419.9 134.2,420.1 135.2,420.4 136.2,420.7 137.2,420.4 138.2,420.2 139.2,420.0 140.2,419.6 141.2,419.2 142.2,418.7 143.2,418.2 144.2,417.7 145.2,417.1 146.2,416.6 147.2,416.2 148.2,416.5 149.2,416.7 150.2,416.9 151.2,416.9 152.2,416.8 153.2,416.7 154.2,416.6 155.2,416.5 156.2,416.4 157.2,416.3 158.2,416.1 159.2,416.4 160.2,416.7 161.2,417.0 162.2,417.5 163.2,418.0 164.2,418.5 165.2,419.1 166.2,419.7 167.2,420.3 168.2,420.9 169.2,421.5 170.2,422.2 171.2,423.0 172.2,423.7 173.2,424.6 174.2,425.5 175.2,425.8 176.2,425.7 177.2,424.7 178.2,422.0 179.2,419.3 180.2,416.7 181.2,414.6 182.2,412.8 183.2,411.0 184.2,409.3 185.2,407.7 186.2,406.9 187.2,406.0 188.2,405.2 189.2,404.7 190.2,404.4 191.2,404.2 192.2,404.0 193.2,403.8 194.2,403.7 195.2,403.7 196.2,403.7 197.2,403.7 198.2,403.5 199.2,402.8 200.2,405.0 201.2,407.5 202.2,410.1 203.2,412.3 204.2,414.2 205.2,416.0 206.2,417.9 207.2,418.9 208.2,419.9 209.2,420.8 210.2,421.8 211.2,422.7 212.2,423.3 213.2,423.9 214.2,424.6 215.2,425.2 216.2,425.8 217.2,426.3 218.2,426.9 219.2,427.5 220.2,428.1 221.2,428.5 222.2,428.5 223.2,428.4 224.2,428.4 225.2,428.2 226.2,427.9 227.2,427.6 228.2,427.3 229.2,427.4 230.2,428.2 231.2,429.4 232.2,430.5 233.2,431.5 234.2,432.5 235.2,433.1 236.2,433.8 237.2,434.3 238.2,434.8 239.2,435.2 240.2,435.4 241.2,435.5 242.2,435.5 243.2,435.4 244.2,435.1 245.2,434.6 245.3,434.6" fill="none" stroke="#2B6CB8" stroke-width="2.4" stroke-linejoin="round" stroke-linecap="round" opacity="1.0"/>
<polyline points="50.2,436.7 51.2,436.7 52.2,436.7 53.2,436.7 54.2,436.9 55.2,437.2 56.2,437.4 57.2,437.2 58.2,437.0 59.2,436.8 60.2,436.7 61.2,436.9 62.2,437.1 63.2,437.3 64.2,437.5 65.2,437.7 66.2,437.9 67.2,438.1 68.2,439.0 69.2,440.0 70.2,441.0 71.2,442.8 72.2,444.8 73.2,446.8 74.2,448.2 75.2,449.6 76.2,449.4 77.2,448.2 78.2,446.9 79.2,444.1 80.2,440.1 81.2,436.1 82.2,432.7 83.2,429.7 84.2,428.4 85.2,430.4 86.2,432.5 87.2,435.5 88.2,438.5 89.2,440.9 90.2,443.3 91.2,444.8 92.2,445.8 93.2,446.0 94.2,445.0 95.2,443.7 96.2,440.8 97.2,437.8 98.2,432.1 99.2,426.1 100.2,423.6 101.2,423.1 102.2,422.6 103.2,422.9 104.2,423.5 105.2,424.1 106.2,424.7 107.2,425.0 108.2,425.3 109.2,425.7 110.2,426.0 111.2,426.3 112.2,426.4 113.2,426.6 114.2,426.8 115.2,426.9 116.2,427.3 117.2,427.7 118.2,428.1 119.2,428.4 120.2,428.0 121.2,427.6 122.2,427.2 123.2,426.4 124.2,425.1 125.2,423.9 126.2,422.5 127.2,421.0 128.2,419.5 129.2,418.5 130.2,418.0 131.2,417.5 132.2,417.3 133.2,417.5 134.2,417.6 135.2,417.8 136.2,418.0 137.2,417.6 138.2,417.3 139.2,417.0 140.2,416.6 141.2,416.2 142.2,415.8 143.2,415.3 144.2,414.8 145.2,414.3 146.2,413.9 147.2,413.6 148.2,414.2 149.2,414.7 150.2,415.3 151.2,415.4 152.2,415.2 153.2,415.0 154.2,414.8 155.2,414.6 156.2,414.4 157.2,414.2 158.2,414.1 159.2,414.5 160.2,414.9 161.2,415.3 162.2,415.7 163.2,416.3 164.2,416.9 165.2,417.5 166.2,418.1 167.2,418.7 168.2,419.3 169.2,419.9 170.2,420.5 171.2,421.1 172.2,421.7 173.2,422.3 174.2,422.7 175.2,423.1 176.2,423.5 177.2,422.9 178.2,420.1 179.2,417.3 180.2,414.5 181.2,412.3 182.2,410.7 183.2,409.0 184.2,407.3 185.2,405.8 186.2,405.3 187.2,404.8 188.2,404.3 189.2,403.8 190.2,403.5 191.2,403.3 192.2,403.1 193.2,403.0 194.2,402.8 195.2,402.8 196.2,402.8 197.2,402.8 198.2,402.8 199.2,402.1 200.2,404.1 201.2,406.5 202.2,408.8 203.2,411.0 204.2,413.0 205.2,415.0 206.2,417.0 207.2,418.1 208.2,419.1 209.2,420.1 210.2,421.1 211.2,422.0 212.2,422.6 213.2,423.2 214.2,423.8 215.2,424.5 216.2,425.0 217.2,425.5 218.2,426.0 219.2,426.5 220.2,427.0 221.2,427.2 222.2,427.3 223.2,427.4 224.2,427.5 225.2,427.6 226.2,427.3 227.2,427.1 228.2,426.8 229.2,426.6 230.2,427.1 231.2,428.1 232.2,429.1 233.2,430.1 234.2,431.1 235.2,431.6 236.2,432.1 237.2,432.6 238.2,433.1 239.2,433.4 240.2,433.4 241.2,433.4 242.2,433.4 243.2,433.4 244.2,433.1 245.2,432.6 245.3,432.6" fill="none" stroke="#4A86CC" stroke-width="2.3" stroke-linejoin="round" stroke-linecap="round" opacity="1.0"/>
<polyline points="50.2,429.2 51.2,429.7 52.2,430.2 53.2,430.7 54.2,430.9 55.2,431.2 56.2,431.4 57.2,431.2 58.2,431.0 59.2,430.8 60.2,430.7 61.2,430.9 62.2,431.1 63.2,431.3 64.2,431.5 65.2,431.7 66.2,431.9 67.2,432.1 68.2,432.3 69.2,432.5 70.2,432.7 71.2,433.0 72.2,433.4 73.2,433.8 74.2,434.2 75.2,434.4 76.2,434.4 77.2,434.4 78.2,433.9 79.2,432.4 80.2,430.9 81.2,429.5 82.2,428.3 83.2,427.0 84.2,426.6 85.2,427.6 86.2,428.6 87.2,429.6 88.2,430.6 89.2,431.5 90.2,432.0 91.2,432.5 92.2,433.0 93.2,433.2 94.2,433.5 95.2,433.5 96.2,432.5 97.2,431.5 98.2,428.5 99.2,425.1 100.2,423.3 101.2,422.3 102.2,421.8 103.2,422.1 104.2,422.3 105.2,422.4 106.2,422.1 107.2,421.9 108.2,421.8 109.2,422.1 110.2,422.3 111.2,422.6 112.2,422.8 113.2,423.1 114.2,423.1 115.2,422.9 116.2,422.6 117.2,422.6 118.2,422.8 119.2,423.1 120.2,423.3 121.2,423.6 122.2,423.8 123.2,423.7 124.2,423.2 125.2,422.7 126.2,421.5 127.2,419.5 128.2,417.5 129.2,416.2 130.2,415.7 131.2,415.2 132.2,414.9 133.2,414.8 134.2,414.7 135.2,414.6 136.2,414.4 137.2,414.3 138.2,413.9 139.2,413.1 140.2,412.4 141.2,411.6 142.2,410.9 143.2,410.1 144.2,409.4 145.2,408.6 146.2,407.9 147.2,407.3 148.2,407.3 149.2,407.3 150.2,407.3 151.2,407.4 152.2,407.4 153.2,407.5 154.2,407.6 155.2,407.6 156.2,407.6 157.2,407.6 158.2,407.6 159.2,407.9 160.2,408.3 161.2,408.6 162.2,409.0 163.2,409.8 164.2,410.6 165.2,411.4 166.2,412.2 167.2,413.0 168.2,413.8 169.2,414.6 170.2,415.4 171.2,416.2 172.2,417.0 173.2,417.8 174.2,417.3 175.2,416.8 176.2,416.1 177.2,412.9 178.2,409.7 179.2,406.5 180.2,403.5 181.2,401.1 182.2,398.7 183.2,396.3 184.2,394.8 185.2,393.9 186.2,392.9 187.2,392.0 188.2,391.2 189.2,391.2 190.2,391.2 191.2,391.2 192.2,391.2 193.2,391.1 194.2,391.0 195.2,391.0 196.2,390.9 197.2,390.9 198.2,390.9 199.2,390.9 200.2,393.4 201.2,396.2 202.2,398.7 203.2,401.0 204.2,403.4 205.2,405.6 206.2,406.3 207.2,407.1 208.2,407.8 209.2,408.6 210.2,409.3 211.2,410.1 212.2,410.8 213.2,411.6 214.2,412.3 215.2,413.2 216.2,414.2 217.2,415.2 218.2,416.2 219.2,417.2 220.2,417.8 221.2,418.5 222.2,419.1 223.2,419.7 224.2,420.0 225.2,420.0 226.2,420.0 227.2,420.0 228.2,420.0 229.2,420.7 230.2,421.5 231.2,422.4 232.2,423.1 233.2,423.6 234.2,424.1 235.2,424.6 236.2,425.1 237.2,425.7 238.2,426.3 239.2,426.9 240.2,427.6 241.2,428.2 242.2,428.0 243.2,427.7 244.2,427.5 245.2,427.2 245.9,427.0" fill="none" stroke="#6A9BDA" stroke-width="2.4" stroke-linejoin="round" stroke-linecap="round" opacity="1.0"/>
<polyline points="50.2,423.2 51.2,424.9 52.2,426.5 53.2,427.1 54.2,427.4 55.2,427.6 56.2,427.5 57.2,427.2 58.2,426.9 59.2,426.7 60.2,426.7 61.2,426.8 62.2,426.9 63.2,427.1 64.2,427.5 65.2,427.9 66.2,428.3 67.2,428.6 68.2,428.8 69.2,429.0 70.2,429.2 71.2,429.5 72.2,429.9 73.2,430.3 74.2,430.7 75.2,431.2 76.2,431.7 77.2,432.1 78.2,430.8 79.2,429.6 80.2,428.4 81.2,427.6 82.2,426.9 83.2,426.2 84.2,426.6 85.2,426.9 86.2,427.4 87.2,427.9 88.2,428.4 89.2,428.2 90.2,428.0 91.2,427.7 92.2,428.1 93.2,428.6 94.2,429.1 95.2,429.5 96.2,429.8 97.2,427.4 98.2,423.1 99.2,417.6 100.2,415.4 101.2,413.7 102.2,414.1 103.2,414.5 104.2,414.9 105.2,415.4 106.2,415.9 107.2,416.2 108.2,415.6 109.2,415.0 110.2,414.4 111.2,413.8 112.2,413.2 113.2,412.6 114.2,412.0 115.2,411.9 116.2,412.1 117.2,412.3 118.2,412.5 119.2,412.8 120.2,413.0 121.2,413.3 122.2,412.9 123.2,412.5 124.2,412.1 125.2,411.4 126.2,409.4 127.2,407.4 128.2,405.4 129.2,403.8 130.2,402.1 131.2,402.6 132.2,403.1 133.2,403.6 134.2,404.1 135.2,404.6 136.2,405.1 137.2,405.6 138.2,406.1 139.2,406.6 140.2,405.3 141.2,404.1 142.2,402.8 143.2,401.5 144.2,400.1 145.2,398.9 146.2,397.8 147.2,396.7 148.2,396.2 149.2,395.7 150.2,395.4 151.2,395.6 152.2,395.8 153.2,396.0 154.2,396.2 155.2,396.4 156.2,396.6 157.2,396.8 158.2,396.8 159.2,396.7 160.2,396.6 161.2,396.6 162.2,397.0 163.2,397.5 164.2,398.0 165.2,398.6 166.2,399.4 167.2,400.2 168.2,401.0 169.2,401.9 170.2,402.9 171.2,403.9 172.2,404.9 173.2,405.9 174.2,406.9 175.2,407.9 176.2,406.0 177.2,403.5 178.2,401.0 179.2,398.6 180.2,396.2 181.2,393.8 182.2,391.5 183.2,390.0 184.2,388.5 185.2,387.0 186.2,385.5 187.2,384.6 188.2,384.1 189.2,383.6 190.2,383.1 191.2,382.6 192.2,382.4 193.2,382.2 194.2,382.0 195.2,382.0 196.2,382.4 197.2,382.7 198.2,383.0 199.2,383.4 200.2,384.7 201.2,386.2 202.2,387.7 203.2,390.2 204.2,392.7 205.2,395.1 206.2,396.1 207.2,397.1 208.2,398.1 209.2,398.8 210.2,399.3 211.2,399.8 212.2,400.3 213.2,400.8 214.2,402.0 215.2,403.2 216.2,404.5 217.2,405.7 218.2,406.9 219.2,407.9 220.2,408.9 221.2,409.9 222.2,410.4 223.2,410.7 224.2,411.0 225.2,411.3 226.2,411.6 227.2,411.9 228.2,412.5 229.2,413.1 230.2,413.7 231.2,414.4 232.2,415.0 233.2,415.6 234.2,416.2 235.2,416.9 236.2,417.5 237.2,418.4 238.2,419.6 239.2,420.7 240.2,421.8 241.2,422.9 242.2,422.5 243.2,422.0 244.2,421.5 245.2,421.0 245.9,420.6" fill="none" stroke="#42A4BC" stroke-width="2.5" stroke-linejoin="round" stroke-linecap="round" opacity="1.0"/>
<polyline points="50.2,399.5 51.2,400.3 52.2,401.1 53.2,402.3 54.2,403.7 55.2,404.0 56.2,403.3 57.2,402.7 58.2,402.4 59.2,402.2 60.2,405.8 61.2,409.5 62.2,413.2 63.2,416.8 64.2,416.9 65.2,413.9 66.2,411.0 67.2,408.4 68.2,405.8 69.2,405.0 70.2,404.3 71.2,403.5 72.2,402.3 73.2,401.1 74.2,399.9 75.2,400.1 76.2,403.1 77.2,406.2 78.2,411.2 79.2,416.2 80.2,414.5 81.2,411.5 82.2,408.7 83.2,406.1 84.2,404.4 85.2,404.8 86.2,405.3 87.2,406.9 88.2,408.6 89.2,407.7 90.2,406.3 91.2,406.0 92.2,406.4 93.2,407.3 94.2,409.3 95.2,411.3 96.2,409.9 97.2,402.9 98.2,395.9 99.2,389.3 100.2,382.6 101.2,380.9 102.2,379.8 103.2,378.7 104.2,378.9 105.2,379.3 106.2,379.6 107.2,380.6 108.2,381.6 109.2,382.6 110.2,381.7 111.2,380.7 112.2,379.7 113.2,380.1 114.2,380.6 115.2,381.1 116.2,381.6 117.2,382.1 118.2,382.6 119.2,383.1 120.2,383.6 121.2,384.1 122.2,383.7 123.2,383.2 124.2,382.7 125.2,381.2 126.2,379.7 127.2,378.2 128.2,376.9 129.2,375.7 130.2,374.4 131.2,374.4 132.2,374.4 133.2,374.4 134.2,374.8 135.2,375.2 136.2,375.6 137.2,375.8 138.2,375.2 139.2,374.6 140.2,374.0 141.2,373.3 142.2,372.5 143.2,371.8 144.2,371.2 145.2,370.7 146.2,370.3 147.2,369.9 148.2,369.6 149.2,369.4 150.2,369.1 151.2,368.9 152.2,368.7 153.2,368.5 154.2,368.3 155.2,368.1 156.2,367.9 157.2,367.7 158.2,367.5 159.2,367.3 160.2,367.0 161.2,367.4 162.2,368.0 163.2,368.6 164.2,369.2 165.2,369.8 166.2,370.4 167.2,371.0 168.2,371.6 169.2,372.2 170.2,372.8 171.2,373.4 172.2,374.0 173.2,374.6 174.2,375.2 175.2,375.8 176.2,375.1 177.2,374.1 178.2,373.1 179.2,371.6 180.2,370.0 181.2,368.4 182.2,366.8 183.2,365.4 184.2,364.0 185.2,362.6 186.2,361.5 187.2,360.8 188.2,360.2 189.2,359.5 190.2,358.8 191.2,358.6 192.2,358.5 193.2,358.4 194.2,358.3 195.2,358.4 196.2,358.6 197.2,358.8 198.2,359.1 199.2,359.9 200.2,361.0 201.2,362.1 202.2,363.6 203.2,365.3 204.2,367.1 205.2,368.5 206.2,369.8 207.2,371.0 208.2,372.0 209.2,372.8 210.2,373.6 211.2,374.4 212.2,375.2 213.2,376.0 214.2,376.8 215.2,377.6 216.2,378.6 217.2,379.6 218.2,380.6 219.2,381.7 220.2,382.8 221.2,383.7 222.2,383.6 223.2,383.5 224.2,383.5 225.2,383.9 226.2,384.3 227.2,384.7 228.2,385.5 229.2,386.7 230.2,388.0 231.2,389.1 232.2,390.1 233.2,391.1 234.2,391.7 235.2,392.0 236.2,392.2 237.2,392.9 238.2,393.9 239.2,394.9 240.2,395.9 241.2,396.9 242.2,397.9 243.2,398.0 244.2,397.4 245.2,396.8 246.2,396.2 246.5,396.1" fill="none" stroke="#B2000E" stroke-width="2.5" stroke-linejoin="round" stroke-linecap="round" opacity="1.0"/></g>
<clipPath id="clipC"><rect x="45.6" y="351.5" width="202.9" height="136.39999999999998"/></clipPath>
<rect x="45.6" y="351.5" width="202.9" height="136.39999999999998" fill="none" stroke="#4a4a4a" stroke-width="1.2"/>
<rect x="45.6" y="497.6" width="204.1" height="2.3" fill="#d6d6d6"/>
<rect x="45.6" y="488.9" width="203.6" height="8.300000000000022" fill="#fff" stroke="#222" stroke-width="0.9"/>
<rect x="45.1" y="488.5" width="54.699999999999996" height="9.100000000000023" fill="#000"/>
<rect x="195.6" y="488.5" width="54.099999999999994" height="9.100000000000023" fill="#000"/>
<text x="2.2" y="364.0" style="font-family:'Liberation Sans',sans-serif;font-weight:bold;font-size:17px">C</text>
<text transform="translate(37.2,491.0) rotate(-90)" style="font-family:'Liberation Sans',sans-serif;font-weight:bold;font-size:12px">Log (Activity Intensity)</text>
<text x="243.7" y="367.3" text-anchor="end" style="font-family:'Liberation Sans',sans-serif;font-weight:bold;font-size:12.6px">80-90</text>
<text x="99.8" y="510.8" text-anchor="middle" style="font-family:'Liberation Sans',sans-serif;font-weight:bold;font-size:13.5px">ZT 0</text>
<text x="198.1" y="510.8" text-anchor="middle" style="font-family:'Liberation Sans',sans-serif;font-weight:bold;font-size:13.5px">ZT 12</text>
<rect x="326.4" y="22.8" width="202.60000000000002" height="136.5" fill="#fff"/>
<line x1="326.4" y1="24.1" x2="529.0" y2="24.1" stroke="#c8c8c8" stroke-width="1.2"/>
<line x1="326.4" y1="51.5" x2="526.5" y2="51.5" stroke="#a2a2a2" stroke-width="1"/>
<line x1="326.4" y1="78.5" x2="526.5" y2="78.5" stroke="#a2a2a2" stroke-width="1"/>
<line x1="326.4" y1="105.5" x2="526.5" y2="105.5" stroke="#a2a2a2" stroke-width="1"/>
<line x1="326.4" y1="132.5" x2="526.5" y2="132.5" stroke="#a2a2a2" stroke-width="1"/>
<g clip-path="url(#clipD)"><polyline points="331.2,102.1 332.2,105.5 333.2,108.8 334.2,110.0 335.2,110.5 336.2,111.0 337.2,108.6 338.2,105.2 339.2,104.2 340.2,105.3 341.2,109.9 342.2,114.6 343.2,119.3 344.2,123.9 345.2,127.9 346.2,131.2 347.2,134.3 348.2,137.0 349.2,139.4 350.2,136.7 351.2,134.0 352.2,132.2 353.2,130.5 354.2,129.9 355.2,130.2 356.2,130.4 357.2,129.7 358.2,128.2 359.2,126.7 360.2,123.1 361.2,118.1 362.2,113.2 363.2,109.3 364.2,107.1 365.2,112.1 366.2,116.5 367.2,120.5 368.2,124.0 369.2,126.7 370.2,129.1 371.2,129.1 372.2,129.1 373.2,127.9 374.2,126.6 375.2,124.0 376.2,120.6 377.2,115.8 378.2,108.4 379.2,101.2 380.2,94.4 381.2,87.7 382.2,87.7 383.2,88.4 384.2,89.2 385.2,88.6 386.2,87.8 387.2,87.1 388.2,86.3 389.2,85.6 390.2,84.8 391.2,84.3 392.2,83.8 393.2,83.3 394.2,82.8 395.2,82.3 396.2,81.8 397.2,81.5 398.2,81.3 399.2,81.0 400.2,80.8 401.2,80.5 402.2,80.3 403.2,80.1 404.2,80.0 405.2,79.8 406.2,79.6 407.2,79.4 408.2,79.2 409.2,78.7 410.2,78.2 411.2,78.3 412.2,78.6 413.2,78.9 414.2,79.1 415.2,79.4 416.2,79.1 417.2,78.4 418.2,77.6 419.2,76.6 420.2,75.3 421.2,74.6 422.2,75.6 423.2,76.5 424.2,77.2 425.2,77.9 426.2,77.3 427.2,76.5 428.2,75.7 429.2,75.6 430.2,75.4 431.2,75.2 432.2,75.1 433.2,74.9 434.2,74.7 435.2,74.6 436.2,74.4 437.2,74.3 438.2,74.3 439.2,74.3 440.2,74.3 441.2,74.3 442.2,74.3 443.2,74.3 444.2,74.3 445.2,74.3 446.2,74.3 447.2,74.3 448.2,74.3 449.2,74.3 450.2,74.3 451.2,74.2 452.2,74.0 453.2,73.8 454.2,73.7 455.2,73.3 456.2,72.7 457.2,72.0 458.2,71.3 459.2,70.7 460.2,70.1 461.2,69.6 462.2,69.1 463.2,68.6 464.2,68.2 465.2,67.9 466.2,67.5 467.2,67.2 468.2,66.9 469.2,66.7 470.2,66.5 471.2,66.3 472.2,66.2 473.2,66.0 474.2,65.9 475.2,65.8 476.2,66.0 477.2,66.6 478.2,67.2 479.2,76.6 480.2,81.1 481.2,83.8 482.2,86.4 483.2,88.7 484.2,90.4 485.2,92.0 486.2,93.7 487.2,94.5 488.2,95.3 489.2,96.0 490.2,96.8 491.2,97.4 492.2,97.6 493.2,97.8 494.2,98.0 495.2,98.2 496.2,98.4 497.2,98.8 498.2,99.4 499.2,100.1 500.2,100.8 501.2,99.9 502.2,98.9 503.2,97.9 504.2,96.9 505.2,96.4 506.2,97.4 507.2,98.4 508.2,99.4 509.2,100.4 510.2,101.4 511.2,102.1 512.2,102.3 513.2,102.5 514.2,102.7 515.2,102.9 516.2,103.1 517.2,103.0 518.2,102.7 519.2,102.4 520.2,102.1 521.2,101.8 522.2,101.5 523.2,101.2 524.2,100.9 525.2,100.7 526.2,100.4 527.1,100.2" fill="none" stroke="#F2AE72" stroke-width="2.3" stroke-linejoin="round" stroke-linecap="round" opacity="1.0"/>
<polyline points="331.2,100.9 332.2,104.3 333.2,107.6 334.2,108.8 335.2,109.3 336.2,109.8 337.2,107.4 338.2,104.0 339.2,103.0 340.2,104.1 341.2,108.7 342.2,113.4 343.2,118.1 344.2,122.7 345.2,126.7 346.2,130.0 347.2,133.1 348.2,135.8 349.2,138.2 350.2,135.5 351.2,132.8 352.2,131.0 353.2,129.3 354.2,128.7 355.2,129.0 356.2,129.2 357.2,128.5 358.2,127.0 359.2,125.5 360.2,121.9 361.2,116.9 362.2,112.0 363.2,108.1 364.2,105.9 365.2,110.9 366.2,115.3 367.2,119.3 368.2,122.8 369.2,125.5 370.2,127.9 371.2,127.9 372.2,127.9 373.2,126.7 374.2,125.4 375.2,122.8 376.2,119.4 377.2,114.6 378.2,107.2 379.2,100.0 380.2,93.2 381.2,86.5 382.2,86.5 383.2,87.2 384.2,88.0 385.2,87.4 386.2,86.6 387.2,85.9 388.2,85.1 389.2,84.4 390.2,83.6 391.2,83.1 392.2,82.6 393.2,82.1 394.2,81.6 395.2,81.1 396.2,80.6 397.2,80.3 398.2,80.1 399.2,79.8 400.2,79.6 401.2,79.3 402.2,79.1 403.2,78.9 404.2,78.8 405.2,78.6 406.2,78.4 407.2,78.2 408.2,78.0 409.2,77.5 410.2,77.0 411.2,77.1 412.2,77.4 413.2,77.7 414.2,77.9 415.2,78.2 416.2,77.9 417.2,77.2 418.2,76.4 419.2,75.4 420.2,74.1 421.2,73.4 422.2,74.4 423.2,75.3 424.2,76.0 425.2,76.7 426.2,76.1 427.2,75.3 428.2,74.5 429.2,74.4 430.2,74.2 431.2,74.0 432.2,73.9 433.2,73.7 434.2,73.5 435.2,73.4 436.2,73.2 437.2,73.1 438.2,73.1 439.2,73.1 440.2,73.1 441.2,73.1 442.2,73.1 443.2,73.1 444.2,73.1 445.2,73.1 446.2,73.1 447.2,73.1 448.2,73.1 449.2,73.1 450.2,73.1 451.2,73.0 452.2,72.8 453.2,72.6 454.2,72.5 455.2,72.1 456.2,71.5 457.2,70.8 458.2,70.1 459.2,69.5 460.2,68.9 461.2,68.4 462.2,67.9 463.2,67.4 464.2,67.0 465.2,66.7 466.2,66.3 467.2,66.0 468.2,65.7 469.2,65.5 470.2,65.3 471.2,65.1 472.2,65.0 473.2,64.8 474.2,64.7 475.2,64.6 476.2,64.8 477.2,65.4 478.2,66.0 479.2,75.4 480.2,79.9 481.2,82.6 482.2,85.2 483.2,87.5 484.2,89.2 485.2,90.8 486.2,92.5 487.2,93.3 488.2,94.1 489.2,94.8 490.2,95.6 491.2,96.2 492.2,96.4 493.2,96.6 494.2,96.8 495.2,97.0 496.2,97.2 497.2,97.6 498.2,98.2 499.2,98.9 500.2,99.6 501.2,98.7 502.2,97.7 503.2,96.7 504.2,95.7 505.2,95.2 506.2,96.2 507.2,97.2 508.2,98.2 509.2,99.2 510.2,100.2 511.2,100.9 512.2,101.1 513.2,101.3 514.2,101.5 515.2,101.7 516.2,101.9 517.2,101.8 518.2,101.5 519.2,101.2 520.2,100.9 521.2,100.6 522.2,100.3 523.2,100.0 524.2,99.7 525.2,99.5 526.2,99.2 527.1,99.0" fill="none" stroke="#EA9148" stroke-width="2.3" stroke-linejoin="round" stroke-linecap="round" opacity="1.0"/>
<polyline points="331.2,87.5 332.2,104.5 333.2,115.4 334.2,120.4 335.2,124.2 336.2,124.5 337.2,124.8 338.2,123.8 339.2,122.8 340.2,122.0 341.2,126.7 342.2,131.3 343.2,136.0 344.2,140.7 345.2,144.2 346.2,146.9 347.2,149.2 348.2,150.7 349.2,148.1 350.2,144.4 351.2,139.3 352.2,132.9 353.2,129.8 354.2,133.4 355.2,137.0 356.2,140.0 357.2,139.8 358.2,137.1 359.2,135.0 360.2,134.0 361.2,133.0 362.2,133.7 363.2,137.7 364.2,141.7 365.2,146.2 366.2,145.8 367.2,142.2 368.2,139.0 369.2,136.6 370.2,134.7 371.2,135.7 372.2,136.7 373.2,136.2 374.2,135.6 375.2,133.7 376.2,131.0 377.2,126.5 378.2,119.2 379.2,111.1 380.2,98.1 381.2,93.5 382.2,93.5 383.2,93.9 384.2,94.9 385.2,95.9 386.2,96.3 387.2,95.8 388.2,95.3 389.2,94.8 390.2,94.3 391.2,93.8 392.2,93.3 393.2,93.0 394.2,92.7 395.2,92.3 396.2,92.0 397.2,91.7 398.2,91.3 399.2,91.0 400.2,90.7 401.2,90.3 402.2,90.0 403.2,89.7 404.2,89.3 405.2,89.0 406.2,88.5 407.2,88.0 408.2,87.5 409.2,87.0 410.2,86.8 411.2,87.0 412.2,87.2 413.2,87.3 414.2,87.5 415.2,87.2 416.2,86.8 417.2,86.5 418.2,86.2 419.2,85.9 420.2,85.7 421.2,85.6 422.2,85.4 423.2,85.2 424.2,84.7 425.2,84.2 426.2,83.7 427.2,83.2 428.2,82.8 429.2,82.8 430.2,82.8 431.2,82.8 432.2,82.8 433.2,82.7 434.2,82.5 435.2,82.3 436.2,82.2 437.2,82.1 438.2,82.3 439.2,82.4 440.2,82.6 441.2,82.8 442.2,82.7 443.2,82.5 444.2,82.3 445.2,82.2 446.2,82.1 447.2,82.3 448.2,82.4 449.2,82.6 450.2,82.8 451.2,82.8 452.2,82.8 453.2,82.8 454.2,82.8 455.2,82.6 456.2,81.9 457.2,81.3 458.2,80.6 459.2,79.9 460.2,79.0 461.2,78.0 462.2,77.0 463.2,76.0 464.2,75.2 465.2,74.7 466.2,74.2 467.2,73.7 468.2,73.2 469.2,72.8 470.2,72.5 471.2,72.1 472.2,71.8 473.2,71.4 474.2,70.9 475.2,70.4 476.2,70.6 477.2,71.8 478.2,73.1 479.2,75.9 480.2,81.4 481.2,86.9 482.2,90.4 483.2,92.7 484.2,94.9 485.2,97.2 486.2,99.4 487.2,100.7 488.2,101.9 489.2,103.1 490.2,104.3 491.2,105.5 492.2,106.6 493.2,106.9 494.2,107.1 495.2,107.4 496.2,107.6 497.2,107.9 498.2,108.1 499.2,108.4 500.2,108.6 501.2,108.9 502.2,107.6 503.2,106.0 504.2,104.3 505.2,103.4 506.2,104.4 507.2,105.4 508.2,106.4 509.2,107.4 510.2,107.9 511.2,108.0 512.2,108.2 513.2,108.4 514.2,108.5 515.2,108.7 516.2,108.9 517.2,108.9 518.2,108.9 519.2,108.9 520.2,108.9 521.2,108.9 522.2,108.9 523.2,109.6 524.2,110.5 525.2,111.4 526.2,112.3 527.1,113.0" fill="none" stroke="#1E4F91" stroke-width="2.4" stroke-linejoin="round" stroke-linecap="round" opacity="1.0"/>
<polyline points="331.2,91.1 332.2,104.1 333.2,113.0 334.2,117.5 335.2,121.0 336.2,122.3 337.2,122.8 338.2,122.1 339.2,121.5 340.2,121.4 341.2,125.2 342.2,128.9 343.2,132.5 344.2,136.1 345.2,138.9 346.2,141.0 347.2,142.9 348.2,144.2 349.2,142.4 350.2,139.9 351.2,136.4 352.2,132.0 353.2,129.6 354.2,131.7 355.2,133.8 356.2,135.8 357.2,135.6 358.2,133.8 359.2,131.9 360.2,130.8 361.2,129.6 362.2,129.9 363.2,132.3 364.2,134.8 365.2,137.6 366.2,137.3 367.2,134.8 368.2,132.8 369.2,131.4 370.2,130.2 371.2,130.8 372.2,131.3 373.2,130.8 374.2,130.1 375.2,128.5 376.2,126.4 377.2,122.6 378.2,116.0 379.2,108.9 380.2,98.8 381.2,94.2 382.2,92.9 383.2,93.1 384.2,93.6 385.2,94.2 386.2,94.3 387.2,93.7 388.2,93.1 389.2,92.6 390.2,92.1 391.2,91.6 392.2,91.1 393.2,90.7 394.2,90.4 395.2,90.0 396.2,89.6 397.2,89.2 398.2,88.8 399.2,88.5 400.2,88.2 401.2,87.9 402.2,87.6 403.2,87.3 404.2,87.0 405.2,86.8 406.2,86.5 407.2,86.1 408.2,85.7 409.2,85.3 410.2,85.1 411.2,85.1 412.2,85.2 413.2,85.3 414.2,85.5 415.2,85.3 416.2,85.1 417.2,84.7 418.2,84.3 419.2,84.0 420.2,83.9 421.2,83.8 422.2,83.7 423.2,83.5 424.2,83.0 425.2,82.6 426.2,82.2 427.2,81.8 428.2,81.5 429.2,81.5 430.2,81.5 431.2,81.5 432.2,81.5 433.2,81.4 434.2,81.2 435.2,81.0 436.2,80.9 437.2,80.8 438.2,81.0 439.2,81.1 440.2,81.3 441.2,81.5 442.2,81.4 443.2,81.2 444.2,81.1 445.2,81.0 446.2,80.9 447.2,81.0 448.2,81.2 449.2,81.3 450.2,81.5 451.2,81.5 452.2,81.6 453.2,81.7 454.2,81.7 455.2,81.5 456.2,80.8 457.2,80.1 458.2,79.4 459.2,78.6 460.2,77.7 461.2,76.8 462.2,75.8 463.2,74.9 464.2,74.1 465.2,73.6 466.2,73.1 467.2,72.6 468.2,72.1 469.2,71.8 470.2,71.4 471.2,71.1 472.2,70.8 473.2,70.4 474.2,70.0 475.2,69.6 476.2,69.7 477.2,70.9 478.2,72.1 479.2,75.0 480.2,80.7 481.2,85.5 482.2,88.8 483.2,91.2 484.2,93.7 485.2,96.0 486.2,97.9 487.2,99.2 488.2,100.4 489.2,101.6 490.2,102.8 491.2,103.9 492.2,104.7 493.2,104.9 494.2,105.1 495.2,105.4 496.2,105.6 497.2,105.9 498.2,106.2 499.2,106.6 500.2,106.9 501.2,107.2 502.2,106.0 503.2,104.3 504.2,102.7 505.2,101.8 506.2,102.9 507.2,104.1 508.2,105.2 509.2,106.3 510.2,106.9 511.2,107.0 512.2,107.2 513.2,107.4 514.2,107.5 515.2,107.7 516.2,107.9 517.2,107.8 518.2,107.7 519.2,107.6 520.2,107.5 521.2,107.4 522.2,107.3 523.2,107.9 524.2,108.6 525.2,109.4 526.2,110.1 527.1,110.8" fill="none" stroke="#2B6CB8" stroke-width="2.4" stroke-linejoin="round" stroke-linecap="round" opacity="1.0"/>
<polyline points="331.2,94.8 332.2,103.6 333.2,110.7 334.2,114.7 335.2,117.9 336.2,120.1 337.2,120.7 338.2,120.4 339.2,120.1 340.2,120.9 341.2,123.7 342.2,126.5 343.2,129.0 344.2,131.5 345.2,133.6 346.2,135.2 347.2,136.6 348.2,137.7 349.2,136.8 350.2,135.3 351.2,133.4 352.2,131.0 353.2,129.5 354.2,130.0 355.2,130.6 356.2,131.5 357.2,131.4 358.2,130.5 359.2,128.9 360.2,127.5 361.2,126.2 362.2,126.1 363.2,126.9 364.2,127.8 365.2,129.0 366.2,128.7 367.2,127.5 368.2,126.6 369.2,126.1 370.2,125.6 371.2,125.9 372.2,125.8 373.2,125.4 374.2,124.7 375.2,123.4 376.2,121.9 377.2,118.7 378.2,112.8 379.2,106.7 380.2,99.6 381.2,95.0 382.2,92.3 383.2,92.2 384.2,92.4 385.2,92.6 386.2,92.4 387.2,91.7 388.2,91.0 389.2,90.4 390.2,89.9 391.2,89.4 392.2,89.0 393.2,88.5 394.2,88.1 395.2,87.6 396.2,87.2 397.2,86.7 398.2,86.3 399.2,86.1 400.2,85.8 401.2,85.5 402.2,85.2 403.2,85.0 404.2,84.8 405.2,84.7 406.2,84.5 407.2,84.3 408.2,84.0 409.2,83.6 410.2,83.4 411.2,83.3 412.2,83.2 413.2,83.2 414.2,83.4 415.2,83.5 416.2,83.3 417.2,82.9 418.2,82.4 419.2,82.2 420.2,82.1 421.2,82.1 422.2,81.9 423.2,81.7 424.2,81.4 425.2,81.1 426.2,80.7 427.2,80.4 428.2,80.2 429.2,80.2 430.2,80.2 431.2,80.2 432.2,80.2 433.2,80.1 434.2,79.9 435.2,79.7 436.2,79.6 437.2,79.5 438.2,79.7 439.2,79.8 440.2,80.0 441.2,80.2 442.2,80.1 443.2,80.0 444.2,79.9 445.2,79.7 446.2,79.7 447.2,79.8 448.2,79.9 449.2,80.0 450.2,80.2 451.2,80.3 452.2,80.4 453.2,80.5 454.2,80.6 455.2,80.5 456.2,79.7 457.2,78.9 458.2,78.1 459.2,77.3 460.2,76.5 461.2,75.6 462.2,74.7 463.2,73.8 464.2,73.1 465.2,72.6 466.2,72.1 467.2,71.6 468.2,71.1 469.2,70.7 470.2,70.4 471.2,70.0 472.2,69.7 473.2,69.4 474.2,69.1 475.2,68.7 476.2,68.9 477.2,70.0 478.2,71.1 479.2,74.0 480.2,80.0 481.2,84.2 482.2,87.2 483.2,89.8 484.2,92.4 485.2,94.9 486.2,96.4 487.2,97.6 488.2,98.8 489.2,100.0 490.2,101.2 491.2,102.2 492.2,102.7 493.2,102.9 494.2,103.1 495.2,103.4 496.2,103.6 497.2,103.9 498.2,104.3 499.2,104.7 500.2,105.2 501.2,105.6 502.2,104.4 503.2,102.7 504.2,101.0 505.2,100.2 506.2,101.5 507.2,102.7 508.2,104.0 509.2,105.3 510.2,105.8 511.2,106.0 512.2,106.2 513.2,106.3 514.2,106.5 515.2,106.7 516.2,106.8 517.2,106.8 518.2,106.6 519.2,106.3 520.2,106.1 521.2,105.9 522.2,105.7 523.2,106.2 524.2,106.8 525.2,107.4 526.2,108.0 527.1,108.5" fill="none" stroke="#2B6CB8" stroke-width="2.4" stroke-linejoin="round" stroke-linecap="round" opacity="1.0"/>
<polyline points="331.2,98.0 332.2,103.3 333.2,108.6 334.2,112.2 335.2,115.2 336.2,118.2 337.2,118.9 338.2,118.9 339.2,118.9 340.2,120.4 341.2,122.4 342.2,124.4 343.2,126.0 344.2,127.5 345.2,129.0 346.2,130.1 347.2,131.1 348.2,132.1 349.2,131.9 350.2,131.4 351.2,130.9 352.2,130.2 353.2,129.4 354.2,128.6 355.2,127.9 356.2,127.9 357.2,127.9 358.2,127.7 359.2,126.2 360.2,124.7 361.2,123.3 362.2,122.8 363.2,122.3 364.2,121.8 365.2,121.6 366.2,121.3 367.2,121.1 368.2,121.3 369.2,121.5 370.2,121.7 371.2,121.7 372.2,121.2 373.2,120.7 374.2,120.0 375.2,119.0 376.2,118.0 377.2,115.3 378.2,110.0 379.2,104.8 380.2,100.2 381.2,95.7 382.2,91.7 383.2,91.5 384.2,91.3 385.2,91.1 386.2,90.7 387.2,90.0 388.2,89.2 389.2,88.6 390.2,88.1 391.2,87.6 392.2,87.1 393.2,86.6 394.2,86.1 395.2,85.6 396.2,85.1 397.2,84.6 398.2,84.2 399.2,83.9 400.2,83.7 401.2,83.4 402.2,83.2 403.2,82.9 404.2,82.8 405.2,82.8 406.2,82.8 407.2,82.7 408.2,82.4 409.2,82.2 410.2,81.9 411.2,81.7 412.2,81.4 413.2,81.4 414.2,81.7 415.2,81.9 416.2,81.8 417.2,81.3 418.2,80.8 419.2,80.6 420.2,80.6 421.2,80.6 422.2,80.4 423.2,80.2 424.2,79.9 425.2,79.7 426.2,79.5 427.2,79.2 428.2,79.1 429.2,79.1 430.2,79.1 431.2,79.1 432.2,79.1 433.2,78.9 434.2,78.8 435.2,78.6 436.2,78.4 437.2,78.4 438.2,78.5 439.2,78.7 440.2,78.9 441.2,79.0 442.2,79.0 443.2,78.9 444.2,78.8 445.2,78.7 446.2,78.6 447.2,78.7 448.2,78.8 449.2,78.9 450.2,79.0 451.2,79.2 452.2,79.4 453.2,79.5 454.2,79.7 455.2,79.6 456.2,78.7 457.2,77.9 458.2,77.1 459.2,76.2 460.2,75.4 461.2,74.6 462.2,73.7 463.2,72.9 464.2,72.2 465.2,71.7 466.2,71.2 467.2,70.7 468.2,70.2 469.2,69.8 470.2,69.5 471.2,69.1 472.2,68.8 473.2,68.5 474.2,68.3 475.2,68.0 476.2,68.2 477.2,69.2 478.2,70.2 479.2,73.2 480.2,79.4 481.2,83.0 482.2,85.8 483.2,88.5 484.2,91.3 485.2,93.9 486.2,95.1 487.2,96.3 488.2,97.5 489.2,98.7 490.2,99.9 491.2,100.8 492.2,101.0 493.2,101.2 494.2,101.4 495.2,101.6 496.2,101.8 497.2,102.2 498.2,102.7 499.2,103.2 500.2,103.7 501.2,104.2 502.2,103.0 503.2,101.3 504.2,99.6 505.2,98.8 506.2,100.2 507.2,101.6 508.2,103.0 509.2,104.3 510.2,105.0 511.2,105.1 512.2,105.3 513.2,105.5 514.2,105.6 515.2,105.8 516.2,106.0 517.2,105.8 518.2,105.5 519.2,105.2 520.2,104.9 521.2,104.6 522.2,104.3 523.2,104.7 524.2,105.2 525.2,105.7 526.2,106.2 527.1,106.6" fill="none" stroke="#4A86CC" stroke-width="2.3" stroke-linejoin="round" stroke-linecap="round" opacity="1.0"/>
<polyline points="331.2,92.0 332.2,95.3 333.2,98.6 334.2,102.0 335.2,105.3 336.2,108.5 337.2,111.5 338.2,114.0 339.2,115.3 340.2,116.7 341.2,117.7 342.2,118.7 343.2,119.5 344.2,120.2 345.2,121.0 346.2,121.5 347.2,122.0 348.2,122.5 349.2,122.6 350.2,122.6 351.2,122.6 352.2,122.6 353.2,122.6 354.2,122.6 355.2,122.0 356.2,121.3 357.2,120.5 358.2,119.8 359.2,119.0 360.2,118.3 361.2,117.7 362.2,117.2 363.2,116.7 364.2,116.6 365.2,116.6 366.2,116.6 367.2,116.6 368.2,116.6 369.2,116.6 370.2,116.4 371.2,116.2 372.2,115.9 373.2,115.7 374.2,115.4 375.2,115.2 376.2,114.3 377.2,113.3 378.2,107.2 379.2,98.9 380.2,95.4 381.2,91.8 382.2,88.7 383.2,87.9 384.2,87.1 385.2,86.3 386.2,85.4 387.2,84.4 388.2,83.4 389.2,82.4 390.2,81.4 391.2,80.4 392.2,79.5 393.2,78.7 394.2,78.0 395.2,77.2 396.2,76.5 397.2,75.7 398.2,75.1 399.2,74.6 400.2,74.1 401.2,73.8 402.2,73.8 403.2,73.8 404.2,73.7 405.2,73.5 406.2,73.2 407.2,73.0 408.2,72.7 409.2,72.5 410.2,72.3 411.2,72.3 412.2,72.3 413.2,72.2 414.2,72.0 415.2,71.7 416.2,71.5 417.2,71.2 418.2,71.0 419.2,70.8 420.2,70.8 421.2,70.8 422.2,70.7 423.2,70.5 424.2,70.2 425.2,70.2 426.2,70.4 427.2,70.7 428.2,70.8 429.2,70.4 430.2,70.1 431.2,69.8 432.2,69.4 433.2,69.2 434.2,69.1 435.2,68.9 436.2,68.7 437.2,68.6 438.2,68.6 439.2,68.6 440.2,68.6 441.2,68.6 442.2,68.5 443.2,68.3 444.2,68.1 445.2,68.0 446.2,67.9 447.2,67.9 448.2,67.9 449.2,67.9 450.2,67.9 451.2,67.9 452.2,67.9 453.2,67.9 454.2,67.9 455.2,67.6 456.2,67.0 457.2,66.3 458.2,65.6 459.2,65.0 460.2,64.2 461.2,63.3 462.2,62.5 463.2,61.7 464.2,61.0 465.2,60.5 466.2,60.0 467.2,59.5 468.2,59.0 469.2,58.7 470.2,58.6 471.2,58.4 472.2,58.2 473.2,58.0 474.2,57.8 475.2,57.5 476.2,57.6 477.2,58.1 478.2,58.6 479.2,60.3 480.2,63.9 481.2,67.6 482.2,71.2 483.2,74.8 484.2,78.0 485.2,80.0 486.2,82.0 487.2,82.6 488.2,83.1 489.2,83.6 490.2,84.1 491.2,84.7 492.2,85.4 493.2,86.2 494.2,86.9 495.2,87.7 496.2,88.3 497.2,89.0 498.2,89.6 499.2,90.2 500.2,90.8 501.2,90.3 502.2,89.7 503.2,89.0 504.2,88.4 505.2,88.1 506.2,88.6 507.2,89.1 508.2,89.6 509.2,90.1 510.2,90.4 511.2,90.5 512.2,90.6 513.2,90.7 514.2,90.9 515.2,91.5 516.2,92.1 517.2,92.7 518.2,93.4 519.2,93.6 520.2,93.1 521.2,92.6 522.2,92.1 523.2,92.5 524.2,93.2 525.2,93.8 526.2,94.4 527.1,95.0" fill="none" stroke="#6A9BDA" stroke-width="2.4" stroke-linejoin="round" stroke-linecap="round" opacity="1.0"/>
<polyline points="331.2,85.2 332.2,87.6 333.2,89.9 334.2,91.7 335.2,93.4 336.2,94.0 337.2,93.7 338.2,93.6 339.2,93.9 340.2,94.3 341.2,98.0 342.2,101.6 343.2,105.0 344.2,108.4 345.2,110.1 346.2,110.4 347.2,110.7 348.2,111.0 349.2,111.2 350.2,111.5 351.2,111.7 352.2,112.0 353.2,112.0 354.2,111.5 355.2,111.0 356.2,110.4 357.2,109.7 358.2,108.9 359.2,108.3 360.2,108.1 361.2,107.8 362.2,107.7 363.2,107.7 364.2,107.7 365.2,107.6 366.2,107.3 367.2,107.1 368.2,106.8 369.2,106.6 370.2,106.3 371.2,106.2 372.2,106.2 373.2,106.2 374.2,106.1 375.2,105.8 376.2,105.6 377.2,103.6 378.2,99.0 379.2,92.9 380.2,79.1 381.2,71.6 382.2,70.8 383.2,70.8 384.2,71.5 385.2,72.5 386.2,72.6 387.2,71.3 388.2,70.1 389.2,69.1 390.2,68.6 391.2,68.1 392.2,67.6 393.2,67.1 394.2,66.6 395.2,66.1 396.2,65.6 397.2,65.1 398.2,64.5 399.2,63.8 400.2,63.0 401.2,62.4 402.2,61.9 403.2,61.4 404.2,61.0 405.2,60.8 406.2,60.5 407.2,60.1 408.2,59.6 409.2,59.1 410.2,58.8 411.2,58.5 412.2,58.3 413.2,58.1 414.2,58.1 415.2,58.1 416.2,58.0 417.2,57.8 418.2,57.5 419.2,57.3 420.2,57.0 421.2,56.8 422.2,56.5 423.2,56.3 424.2,56.0 425.2,55.9 426.2,55.9 427.2,55.9 428.2,55.9 429.2,55.7 430.2,55.5 431.2,55.4 432.2,55.2 433.2,55.1 434.2,55.1 435.2,55.1 436.2,55.1 437.2,55.2 438.2,55.4 439.2,55.5 440.2,55.7 441.2,55.9 442.2,55.8 443.2,55.6 444.2,55.4 445.2,55.3 446.2,55.1 447.2,55.1 448.2,55.1 449.2,55.1 450.2,55.1 451.2,55.1 452.2,55.0 453.2,54.9 454.2,54.8 455.2,54.6 456.2,54.2 457.2,53.8 458.2,53.4 459.2,53.0 460.2,52.5 461.2,52.0 462.2,51.5 463.2,51.0 464.2,50.6 465.2,50.3 466.2,50.1 467.2,49.9 468.2,49.6 469.2,49.7 470.2,49.7 471.2,49.8 472.2,49.9 473.2,49.9 474.2,49.9 475.2,49.9 476.2,49.9 477.2,50.5 478.2,51.5 479.2,52.5 480.2,55.1 481.2,58.6 482.2,63.1 483.2,68.4 484.2,72.7 485.2,76.3 486.2,76.7 487.2,77.0 488.2,77.3 489.2,78.3 490.2,79.7 491.2,81.0 492.2,82.4 493.2,83.8 494.2,83.9 495.2,83.9 496.2,83.9 497.2,83.9 498.2,83.8 499.2,83.7 500.2,83.5 501.2,83.3 502.2,83.2 503.2,83.0 504.2,82.8 505.2,83.0 506.2,83.8 507.2,84.6 508.2,85.5 509.2,86.0 510.2,86.5 511.2,87.0 512.2,87.3 513.2,87.1 514.2,86.8 515.2,86.6 516.2,86.3 517.2,86.2 518.2,86.1 519.2,86.0 520.2,85.9 521.2,85.8 522.2,85.7 523.2,85.8 524.2,86.1 525.2,86.3 526.2,86.6 527.1,86.8" fill="none" stroke="#42A4BC" stroke-width="2.5" stroke-linejoin="round" stroke-linecap="round" opacity="1.0"/>
<polyline points="331.2,65.6 332.2,66.9 333.2,68.3 334.2,69.9 335.2,71.5 336.2,72.2 337.2,71.8 338.2,71.8 339.2,72.4 340.2,73.3 341.2,81.7 342.2,90.1 343.2,94.6 344.2,97.9 345.2,100.7 346.2,103.0 347.2,105.1 348.2,106.4 349.2,107.7 350.2,107.3 351.2,107.0 352.2,104.2 353.2,100.9 354.2,97.0 355.2,92.7 356.2,89.2 357.2,87.5 358.2,86.1 359.2,87.1 360.2,88.1 361.2,86.3 362.2,84.0 363.2,81.7 364.2,79.4 365.2,77.2 366.2,74.9 367.2,73.4 368.2,72.1 369.2,73.2 370.2,75.9 371.2,78.4 372.2,80.8 373.2,82.9 374.2,83.6 375.2,84.2 376.2,84.0 377.2,83.7 378.2,76.9 379.2,65.3 380.2,47.3 381.2,40.9 382.2,40.9 383.2,41.3 384.2,42.3 385.2,43.3 386.2,43.7 387.2,43.2 388.2,42.7 389.2,42.4 390.2,42.2 391.2,42.0 392.2,41.8 393.2,41.4 394.2,41.0 395.2,40.6 396.2,40.2 397.2,39.7 398.2,39.2 399.2,38.7 400.2,38.2 401.2,37.8 402.2,37.5 403.2,37.1 404.2,36.8 405.2,36.5 406.2,36.3 407.2,36.1 408.2,36.0 409.2,35.8 410.2,35.6 411.2,35.5 412.2,35.3 413.2,35.1 414.2,35.0 415.2,34.8 416.2,34.6 417.2,34.5 418.2,34.3 419.2,34.2 420.2,34.1 421.2,34.0 422.2,33.9 423.2,33.8 424.2,33.8 425.2,33.8 426.2,33.8 427.2,33.8 428.2,33.7 429.2,33.7 430.2,33.6 431.2,33.5 432.2,33.5 433.2,33.5 434.2,33.6 435.2,33.6 436.2,33.7 437.2,33.7 438.2,33.6 439.2,33.5 440.2,33.3 441.2,33.2 442.2,33.2 443.2,33.3 444.2,33.4 445.2,33.4 446.2,33.4 447.2,33.4 448.2,33.3 449.2,33.2 450.2,33.2 451.2,33.1 452.2,33.0 453.2,32.9 454.2,32.8 455.2,32.6 456.2,32.3 457.2,31.9 458.2,31.6 459.2,31.3 460.2,30.9 461.2,30.6 462.2,30.3 463.2,29.9 464.2,29.6 465.2,29.4 466.2,29.2 467.2,28.9 468.2,28.7 469.2,28.7 470.2,28.7 471.2,28.7 472.2,28.7 473.2,28.7 474.2,28.8 475.2,28.9 476.2,29.0 477.2,29.5 478.2,30.2 479.2,31.0 480.2,33.1 481.2,36.1 482.2,40.0 483.2,45.4 484.2,50.1 485.2,51.3 486.2,52.6 487.2,53.8 488.2,54.8 489.2,55.8 490.2,56.8 491.2,57.7 492.2,58.3 493.2,59.0 494.2,59.7 495.2,60.3 496.2,60.5 497.2,60.7 498.2,60.9 499.2,61.0 500.2,61.1 501.2,61.1 502.2,61.1 503.2,61.1 504.2,61.1 505.2,61.6 506.2,62.1 507.2,62.6 508.2,63.1 509.2,63.6 510.2,64.1 511.2,63.9 512.2,63.7 513.2,63.5 514.2,63.6 515.2,64.4 516.2,65.2 517.2,66.0 518.2,66.1 519.2,65.6 520.2,65.1 521.2,64.4 522.2,63.5 523.2,62.6 524.2,62.2 525.2,62.2 526.2,62.2 527.2,62.2 527.5,62.2" fill="none" stroke="#B2000E" stroke-width="2.5" stroke-linejoin="round" stroke-linecap="round" opacity="1.0"/></g>
<clipPath id="clipD"><rect x="326.4" y="22.8" width="202.60000000000002" height="136.5"/></clipPath>
<rect x="326.4" y="22.8" width="202.60000000000002" height="136.5" fill="none" stroke="#4a4a4a" stroke-width="1.2"/>
<rect x="326.4" y="168.7" width="203.20000000000005" height="2.3" fill="#d6d6d6"/>
<rect x="326.4" y="160.4" width="202.70000000000005" height="7.899999999999989" fill="#fff" stroke="#222" stroke-width="0.9"/>
<rect x="325.9" y="160.0" width="53.80000000000001" height="8.699999999999989" fill="#000"/>
<rect x="475.7" y="160.0" width="53.900000000000034" height="8.699999999999989" fill="#000"/>
<text x="283.1" y="39.1" style="font-family:'Liberation Sans',sans-serif;font-weight:bold;font-size:17px">D</text>
<text transform="translate(317.6,153.1) rotate(-90)" style="font-family:'Liberation Sans',sans-serif;font-weight:bold;font-size:12px">Log (Activity Intensity)</text>
<text x="524.0" y="37.0" text-anchor="end" style="font-family:'Liberation Sans',sans-serif;font-weight:bold;font-size:12.6px">15-25</text>
<text x="379.7" y="181.0" text-anchor="middle" style="font-family:'Liberation Sans',sans-serif;font-weight:bold;font-size:13.5px">ZT 0</text>
<text x="478.2" y="181.0" text-anchor="middle" style="font-family:'Liberation Sans',sans-serif;font-weight:bold;font-size:13.5px">ZT 12</text>
<rect x="326.4" y="187.4" width="202.60000000000002" height="136.6" fill="#fff"/>
<line x1="326.4" y1="188.70000000000002" x2="529.0" y2="188.70000000000002" stroke="#c8c8c8" stroke-width="1.2"/>
<line x1="326.4" y1="190.5" x2="526.5" y2="190.5" stroke="#a2a2a2" stroke-width="1"/>
<line x1="326.4" y1="217.5" x2="526.5" y2="217.5" stroke="#a2a2a2" stroke-width="1"/>
<line x1="326.4" y1="244.5" x2="526.5" y2="244.5" stroke="#a2a2a2" stroke-width="1"/>
<line x1="326.4" y1="271.5" x2="526.5" y2="271.5" stroke="#a2a2a2" stroke-width="1"/>
<line x1="326.4" y1="298.5" x2="526.5" y2="298.5" stroke="#a2a2a2" stroke-width="1"/>
<g clip-path="url(#clipE)"><polyline points="331.2,254.2 332.2,258.2 333.2,262.2 334.2,266.2 335.2,270.8 336.2,275.5 337.2,277.4 338.2,278.4 339.2,279.4 340.2,279.8 341.2,280.0 342.2,280.3 343.2,279.4 344.2,278.1 345.2,276.9 346.2,276.4 347.2,276.2 348.2,275.9 349.2,275.9 350.2,275.9 351.2,277.0 352.2,279.0 353.2,280.9 354.2,282.5 355.2,284.2 356.2,285.2 357.2,286.2 358.2,283.3 359.2,279.6 360.2,276.9 361.2,274.9 362.2,275.0 363.2,279.0 364.2,282.9 365.2,286.2 366.2,289.6 367.2,282.7 368.2,274.0 369.2,267.6 370.2,263.5 371.2,266.1 372.2,268.8 373.2,272.6 374.2,276.6 375.2,281.2 376.2,285.1 377.2,281.1 378.2,272.6 379.2,262.8 380.2,260.0 381.2,257.3 382.2,257.2 383.2,257.4 384.2,257.6 385.2,257.7 386.2,257.5 387.2,257.3 388.2,257.1 389.2,256.9 390.2,256.6 391.2,256.4 392.2,255.9 393.2,255.2 394.2,254.4 395.2,253.5 396.2,252.5 397.2,251.6 398.2,250.8 399.2,250.3 400.2,249.8 401.2,249.4 402.2,249.1 403.2,248.9 404.2,248.6 405.2,248.4 406.2,248.1 407.2,247.9 408.2,247.6 409.2,247.4 410.2,247.3 411.2,247.3 412.2,247.3 413.2,247.4 414.2,247.6 415.2,247.9 416.2,247.9 417.2,247.6 418.2,247.4 419.2,247.0 420.2,246.5 421.2,246.0 422.2,245.6 423.2,245.4 424.2,245.1 425.2,245.0 426.2,245.0 427.2,245.0 428.2,245.0 429.2,244.9 430.2,244.9 431.2,244.8 432.2,244.7 433.2,244.6 434.2,244.5 435.2,244.4 436.2,244.3 437.2,244.3 438.2,244.3 439.2,244.3 440.2,244.3 441.2,244.3 442.2,244.3 443.2,244.4 444.2,244.5 445.2,244.6 446.2,244.9 447.2,245.7 448.2,246.4 449.2,247.1 450.2,247.9 451.2,248.3 452.2,248.7 453.2,249.1 454.2,249.5 455.2,249.1 456.2,248.7 457.2,248.3 458.2,247.6 459.2,246.4 460.2,245.2 461.2,244.0 462.2,242.6 463.2,241.0 464.2,239.4 465.2,237.8 466.2,236.8 467.2,236.0 468.2,235.2 469.2,234.3 470.2,233.6 471.2,233.1 472.2,232.6 473.2,232.3 474.2,232.3 475.2,232.3 476.2,232.8 477.2,234.0 478.2,235.3 479.2,237.1 480.2,239.7 481.2,242.5 482.2,245.8 483.2,249.2 484.2,252.5 485.2,255.8 486.2,259.5 487.2,263.3 488.2,267.1 489.2,268.1 490.2,267.6 491.2,267.1 492.2,267.1 493.2,267.3 494.2,267.6 495.2,267.9 496.2,268.3 497.2,268.7 498.2,269.1 499.2,269.7 500.2,270.3 501.2,270.9 502.2,271.5 503.2,271.9 504.2,272.3 505.2,272.7 506.2,272.6 507.2,272.0 508.2,271.4 509.2,270.8 510.2,270.3 511.2,269.8 512.2,269.3 513.2,269.5 514.2,270.0 515.2,270.5 516.2,270.8 517.2,271.1 518.2,271.3 519.2,271.2 520.2,270.9 521.2,270.7 522.2,271.4 523.2,272.4 524.2,273.4 525.2,274.1 526.2,274.8 526.7,275.1" fill="none" stroke="#F2AE72" stroke-width="2.3" stroke-linejoin="round" stroke-linecap="round" opacity="1.0"/>
<polyline points="331.2,253.0 332.2,257.0 333.2,261.0 334.2,265.0 335.2,269.6 336.2,274.3 337.2,276.2 338.2,277.2 339.2,278.2 340.2,278.6 341.2,278.8 342.2,279.1 343.2,278.2 344.2,276.9 345.2,275.7 346.2,275.2 347.2,275.0 348.2,274.7 349.2,274.7 350.2,274.7 351.2,275.8 352.2,277.8 353.2,279.7 354.2,281.3 355.2,283.0 356.2,284.0 357.2,285.0 358.2,282.1 359.2,278.4 360.2,275.7 361.2,273.7 362.2,273.8 363.2,277.8 364.2,281.7 365.2,285.0 366.2,288.4 367.2,281.5 368.2,272.8 369.2,266.4 370.2,262.3 371.2,264.9 372.2,267.6 373.2,271.4 374.2,275.4 375.2,280.0 376.2,283.9 377.2,279.9 378.2,271.4 379.2,261.6 380.2,258.8 381.2,256.1 382.2,256.0 383.2,256.2 384.2,256.4 385.2,256.5 386.2,256.3 387.2,256.1 388.2,255.9 389.2,255.7 390.2,255.4 391.2,255.2 392.2,254.7 393.2,254.0 394.2,253.2 395.2,252.3 396.2,251.3 397.2,250.4 398.2,249.6 399.2,249.1 400.2,248.6 401.2,248.2 402.2,247.9 403.2,247.7 404.2,247.4 405.2,247.2 406.2,246.9 407.2,246.7 408.2,246.4 409.2,246.2 410.2,246.1 411.2,246.1 412.2,246.1 413.2,246.2 414.2,246.4 415.2,246.7 416.2,246.7 417.2,246.4 418.2,246.2 419.2,245.8 420.2,245.3 421.2,244.8 422.2,244.4 423.2,244.2 424.2,243.9 425.2,243.8 426.2,243.8 427.2,243.8 428.2,243.8 429.2,243.7 430.2,243.7 431.2,243.6 432.2,243.5 433.2,243.4 434.2,243.3 435.2,243.2 436.2,243.1 437.2,243.1 438.2,243.1 439.2,243.1 440.2,243.1 441.2,243.1 442.2,243.1 443.2,243.2 444.2,243.3 445.2,243.4 446.2,243.7 447.2,244.5 448.2,245.2 449.2,245.9 450.2,246.7 451.2,247.1 452.2,247.5 453.2,247.9 454.2,248.3 455.2,247.9 456.2,247.5 457.2,247.1 458.2,246.4 459.2,245.2 460.2,244.0 461.2,242.8 462.2,241.4 463.2,239.8 464.2,238.2 465.2,236.6 466.2,235.6 467.2,234.8 468.2,234.0 469.2,233.1 470.2,232.4 471.2,231.9 472.2,231.4 473.2,231.1 474.2,231.1 475.2,231.1 476.2,231.6 477.2,232.8 478.2,234.1 479.2,235.9 480.2,238.5 481.2,241.3 482.2,244.6 483.2,248.0 484.2,251.3 485.2,254.6 486.2,258.3 487.2,262.1 488.2,265.9 489.2,266.9 490.2,266.4 491.2,265.9 492.2,265.9 493.2,266.1 494.2,266.4 495.2,266.7 496.2,267.1 497.2,267.5 498.2,267.9 499.2,268.5 500.2,269.1 501.2,269.7 502.2,270.3 503.2,270.7 504.2,271.1 505.2,271.5 506.2,271.4 507.2,270.8 508.2,270.2 509.2,269.6 510.2,269.1 511.2,268.6 512.2,268.1 513.2,268.3 514.2,268.8 515.2,269.3 516.2,269.6 517.2,269.9 518.2,270.1 519.2,270.0 520.2,269.7 521.2,269.5 522.2,270.2 523.2,271.2 524.2,272.2 525.2,272.9 526.2,273.6 526.7,273.9" fill="none" stroke="#EA9148" stroke-width="2.3" stroke-linejoin="round" stroke-linecap="round" opacity="1.0"/>
<polyline points="331.2,254.5 332.2,263.1 333.2,271.8 334.2,277.4 335.2,282.1 336.2,285.1 337.2,286.4 338.2,287.4 339.2,287.7 340.2,287.9 341.2,288.3 342.2,289.0 343.2,289.7 344.2,291.3 345.2,293.0 346.2,294.7 347.2,296.3 348.2,296.9 349.2,296.6 350.2,296.2 351.2,295.9 352.2,295.7 353.2,297.2 354.2,299.3 355.2,302.0 356.2,303.4 357.2,302.1 358.2,300.7 359.2,298.7 360.2,296.7 361.2,296.9 362.2,297.6 363.2,298.8 364.2,300.5 365.2,302.3 366.2,304.3 367.2,306.2 368.2,307.2 369.2,308.2 370.2,306.0 371.2,303.3 372.2,301.5 373.2,300.2 374.2,299.1 375.2,298.4 376.2,297.9 377.2,298.4 378.2,286.2 379.2,268.2 380.2,259.2 381.2,256.8 382.2,258.2 383.2,259.3 384.2,260.0 385.2,260.8 386.2,261.6 387.2,262.6 388.2,263.6 389.2,264.6 390.2,264.5 391.2,263.8 392.2,263.0 393.2,262.0 394.2,261.0 395.2,260.1 396.2,259.4 397.2,258.6 398.2,257.9 399.2,257.1 400.2,256.4 401.2,255.9 402.2,255.6 403.2,255.4 404.2,255.0 405.2,254.5 406.2,254.0 407.2,253.6 408.2,253.4 409.2,253.1 410.2,253.1 411.2,253.4 412.2,253.6 413.2,253.6 414.2,253.4 415.2,253.1 416.2,253.1 417.2,253.4 418.2,253.6 419.2,253.5 420.2,253.0 421.2,252.5 422.2,252.2 423.2,252.2 424.2,252.2 425.2,252.1 426.2,251.9 427.2,251.7 428.2,251.6 429.2,251.9 430.2,252.2 431.2,252.6 432.2,252.9 433.2,252.9 434.2,252.9 435.2,252.8 436.2,252.7 437.2,252.7 438.2,252.6 439.2,252.5 440.2,252.4 441.2,252.3 442.2,252.2 443.2,252.2 444.2,252.2 445.2,252.2 446.2,252.3 447.2,252.7 448.2,253.0 449.2,253.3 450.2,253.7 451.2,254.1 452.2,254.6 453.2,255.1 454.2,255.0 455.2,254.6 456.2,254.3 457.2,254.0 458.2,253.5 459.2,252.6 460.2,251.8 461.2,251.0 462.2,250.1 463.2,248.5 464.2,246.7 465.2,244.8 466.2,243.7 467.2,242.7 468.2,241.7 469.2,240.7 470.2,239.9 471.2,239.4 472.2,238.9 473.2,238.6 474.2,238.6 475.2,238.6 476.2,239.1 477.2,240.3 478.2,241.6 479.2,243.6 480.2,246.9 481.2,250.3 482.2,253.6 483.2,256.9 484.2,260.9 485.2,265.0 486.2,269.0 487.2,272.1 488.2,275.1 489.2,275.8 490.2,275.3 491.2,274.8 492.2,275.2 493.2,275.9 494.2,276.7 495.2,277.2 496.2,277.6 497.2,278.0 498.2,278.4 499.2,278.8 500.2,279.2 501.2,279.6 502.2,279.9 503.2,280.1 504.2,280.3 505.2,280.5 506.2,280.7 507.2,280.9 508.2,281.1 509.2,281.3 510.2,281.4 511.2,281.4 512.2,281.4 513.2,281.4 514.2,281.4 515.2,281.4 516.2,281.4 517.2,281.4 518.2,281.5 519.2,281.7 520.2,281.9 521.2,282.1 522.2,282.5 523.2,283.0 524.2,283.5 525.2,284.7 526.2,286.0 526.7,286.6" fill="none" stroke="#1E4F91" stroke-width="2.4" stroke-linejoin="round" stroke-linecap="round" opacity="1.0"/>
<polyline points="331.2,254.7 332.2,262.5 333.2,270.3 334.2,276.2 335.2,280.9 336.2,283.2 337.2,284.4 338.2,285.3 339.2,285.6 340.2,285.8 341.2,286.2 342.2,286.7 343.2,287.2 344.2,288.4 345.2,289.7 346.2,290.9 347.2,292.2 348.2,292.7 349.2,292.7 350.2,292.7 351.2,292.6 352.2,292.7 353.2,293.8 354.2,295.5 355.2,297.5 356.2,298.6 357.2,297.8 358.2,297.0 359.2,295.8 360.2,294.7 361.2,295.0 362.2,295.6 363.2,296.4 364.2,297.5 365.2,298.6 366.2,299.9 367.2,301.2 368.2,301.8 369.2,302.6 370.2,301.3 371.2,299.5 372.2,298.3 373.2,297.3 374.2,296.4 375.2,295.6 376.2,295.0 377.2,294.3 378.2,284.5 379.2,270.8 380.2,261.6 381.2,256.8 382.2,257.4 383.2,258.2 384.2,258.7 385.2,259.2 386.2,259.8 387.2,260.4 388.2,261.0 389.2,261.6 390.2,261.4 391.2,260.9 392.2,260.3 393.2,259.6 394.2,258.9 395.2,258.0 396.2,257.3 397.2,256.5 398.2,255.8 399.2,255.1 400.2,254.5 401.2,254.0 402.2,253.7 403.2,253.5 404.2,253.1 405.2,252.7 406.2,252.4 407.2,252.0 408.2,251.8 409.2,251.6 410.2,251.5 411.2,251.6 412.2,251.7 413.2,251.7 414.2,251.6 415.2,251.6 416.2,251.8 417.2,252.1 418.2,252.2 419.2,252.0 420.2,251.6 421.2,251.1 422.2,250.8 423.2,250.6 424.2,250.7 425.2,250.6 426.2,250.5 427.2,250.4 428.2,250.4 429.2,250.6 430.2,250.9 431.2,251.1 432.2,251.3 433.2,251.3 434.2,251.3 435.2,251.2 436.2,251.2 437.2,251.1 438.2,251.0 439.2,250.9 440.2,250.9 441.2,250.8 442.2,250.8 443.2,250.9 444.2,251.0 445.2,251.1 446.2,251.2 447.2,251.6 448.2,252.0 449.2,252.4 450.2,252.8 451.2,253.2 452.2,253.7 453.2,254.2 454.2,254.2 455.2,253.8 456.2,253.5 457.2,253.1 458.2,252.6 459.2,251.6 460.2,250.6 461.2,249.7 462.2,248.6 463.2,247.0 464.2,245.3 465.2,243.5 466.2,242.5 467.2,241.5 468.2,240.6 469.2,239.6 470.2,238.9 471.2,238.4 472.2,237.9 473.2,237.5 474.2,237.5 475.2,237.5 476.2,238.0 477.2,239.1 478.2,240.3 479.2,242.2 480.2,245.5 481.2,248.7 482.2,252.0 483.2,255.4 484.2,259.3 485.2,263.4 486.2,267.5 487.2,270.7 488.2,273.8 489.2,274.5 490.2,273.9 491.2,273.3 492.2,273.5 493.2,274.2 494.2,274.9 495.2,275.3 496.2,275.7 497.2,276.1 498.2,276.5 499.2,276.9 500.2,277.3 501.2,277.7 502.2,278.1 503.2,278.3 504.2,278.5 505.2,278.7 506.2,278.8 507.2,278.9 508.2,279.0 509.2,279.0 510.2,279.0 511.2,278.9 512.2,278.8 513.2,278.8 514.2,278.8 515.2,278.9 516.2,278.9 517.2,279.0 518.2,279.1 519.2,279.3 520.2,279.5 521.2,279.7 522.2,280.0 523.2,280.4 524.2,280.7 525.2,281.6 526.2,282.7 526.7,283.2" fill="none" stroke="#2B6CB8" stroke-width="2.4" stroke-linejoin="round" stroke-linecap="round" opacity="1.0"/>
<polyline points="331.2,255.0 332.2,261.9 333.2,268.9 334.2,274.9 335.2,279.7 336.2,281.3 337.2,282.4 338.2,283.2 339.2,283.5 340.2,283.7 341.2,284.0 342.2,284.4 343.2,284.8 344.2,285.5 345.2,286.4 346.2,287.2 347.2,288.1 348.2,288.6 349.2,288.8 350.2,289.1 351.2,289.3 352.2,289.6 353.2,290.5 354.2,291.7 355.2,293.0 356.2,293.8 357.2,293.6 358.2,293.3 359.2,293.0 360.2,292.7 361.2,293.1 362.2,293.6 363.2,293.9 364.2,294.4 365.2,295.0 366.2,295.6 367.2,296.1 368.2,296.5 369.2,297.0 370.2,296.5 371.2,295.8 372.2,295.0 373.2,294.5 374.2,293.8 375.2,292.9 376.2,292.0 377.2,290.3 378.2,282.9 379.2,273.4 380.2,264.1 381.2,256.8 382.2,256.6 383.2,257.0 384.2,257.4 385.2,257.7 386.2,258.0 387.2,258.2 388.2,258.4 389.2,258.6 390.2,258.4 391.2,258.1 392.2,257.7 393.2,257.2 394.2,256.7 395.2,255.9 396.2,255.2 397.2,254.5 398.2,253.8 399.2,253.2 400.2,252.5 401.2,252.1 402.2,251.8 403.2,251.6 404.2,251.3 405.2,251.0 406.2,250.7 407.2,250.5 408.2,250.2 409.2,250.0 410.2,249.9 411.2,249.8 412.2,249.9 413.2,249.9 414.2,249.8 415.2,250.1 416.2,250.4 417.2,250.9 418.2,250.8 419.2,250.5 420.2,250.2 421.2,249.7 422.2,249.3 423.2,249.0 424.2,249.1 425.2,249.1 426.2,249.2 427.2,249.2 428.2,249.3 429.2,249.4 430.2,249.5 431.2,249.6 432.2,249.7 433.2,249.7 434.2,249.7 435.2,249.6 436.2,249.6 437.2,249.6 438.2,249.5 439.2,249.4 440.2,249.4 441.2,249.3 442.2,249.4 443.2,249.6 444.2,249.7 445.2,249.9 446.2,250.1 447.2,250.6 448.2,251.0 449.2,251.5 450.2,251.9 451.2,252.4 452.2,252.8 453.2,253.2 454.2,253.4 455.2,253.0 456.2,252.7 457.2,252.3 458.2,251.7 459.2,250.6 460.2,249.5 461.2,248.4 462.2,247.1 463.2,245.5 464.2,243.9 465.2,242.2 466.2,241.2 467.2,240.3 468.2,239.4 469.2,238.6 470.2,237.8 471.2,237.3 472.2,236.8 473.2,236.5 474.2,236.5 475.2,236.5 476.2,236.9 477.2,238.0 478.2,239.0 479.2,240.9 480.2,244.0 481.2,247.1 482.2,250.5 483.2,253.8 484.2,257.8 485.2,261.8 486.2,265.9 487.2,269.2 488.2,272.4 489.2,273.1 490.2,272.4 491.2,271.7 492.2,271.9 493.2,272.5 494.2,273.1 495.2,273.5 496.2,273.9 497.2,274.3 498.2,274.7 499.2,275.1 500.2,275.5 501.2,275.9 502.2,276.3 503.2,276.5 504.2,276.7 505.2,276.9 506.2,276.9 507.2,276.9 508.2,276.8 509.2,276.7 510.2,276.6 511.2,276.4 512.2,276.3 513.2,276.2 514.2,276.3 515.2,276.4 516.2,276.5 517.2,276.6 518.2,276.8 519.2,277.0 520.2,277.2 521.2,277.4 522.2,277.5 523.2,277.7 524.2,277.8 525.2,278.5 526.2,279.4 526.7,279.8" fill="none" stroke="#2B6CB8" stroke-width="2.4" stroke-linejoin="round" stroke-linecap="round" opacity="1.0"/>
<polyline points="331.2,255.2 332.2,261.4 333.2,267.6 334.2,273.8 335.2,278.7 336.2,279.7 337.2,280.7 338.2,281.5 339.2,281.7 340.2,282.0 341.2,282.2 342.2,282.5 343.2,282.7 344.2,283.0 345.2,283.5 346.2,284.0 347.2,284.5 348.2,285.0 349.2,285.5 350.2,286.0 351.2,286.5 352.2,287.0 353.2,287.6 354.2,288.4 355.2,289.1 356.2,289.7 357.2,289.9 358.2,290.2 359.2,290.5 360.2,291.0 361.2,291.5 362.2,291.9 363.2,291.9 364.2,291.9 365.2,291.9 366.2,291.9 367.2,291.9 368.2,291.9 369.2,292.2 370.2,292.4 371.2,292.5 372.2,292.3 373.2,292.0 374.2,291.5 375.2,290.5 376.2,289.5 377.2,286.8 378.2,281.5 379.2,275.6 380.2,266.2 381.2,256.7 382.2,255.9 383.2,256.1 384.2,256.3 385.2,256.4 386.2,256.5 387.2,256.3 388.2,256.1 389.2,256.0 390.2,255.8 391.2,255.6 392.2,255.4 393.2,255.2 394.2,254.9 395.2,254.1 396.2,253.4 397.2,252.7 398.2,252.1 399.2,251.5 400.2,250.9 401.2,250.4 402.2,250.2 403.2,249.9 404.2,249.7 405.2,249.5 406.2,249.3 407.2,249.1 408.2,248.9 409.2,248.7 410.2,248.5 411.2,248.3 412.2,248.3 413.2,248.3 414.2,248.3 415.2,248.8 416.2,249.3 417.2,249.8 418.2,249.5 419.2,249.3 420.2,249.0 421.2,248.5 422.2,248.0 423.2,247.6 424.2,247.7 425.2,247.9 426.2,248.0 427.2,248.2 428.2,248.3 429.2,248.3 430.2,248.3 431.2,248.3 432.2,248.3 433.2,248.3 434.2,248.3 435.2,248.3 436.2,248.3 437.2,248.3 438.2,248.2 439.2,248.2 440.2,248.1 441.2,248.0 442.2,248.2 443.2,248.4 444.2,248.6 445.2,248.9 446.2,249.2 447.2,249.7 448.2,250.2 449.2,250.7 450.2,251.2 451.2,251.6 452.2,252.0 453.2,252.4 454.2,252.8 455.2,252.4 456.2,252.0 457.2,251.6 458.2,250.9 459.2,249.7 460.2,248.5 461.2,247.3 462.2,245.9 463.2,244.3 464.2,242.7 465.2,241.1 466.2,240.1 467.2,239.3 468.2,238.5 469.2,237.6 470.2,236.9 471.2,236.4 472.2,235.9 473.2,235.6 474.2,235.6 475.2,235.6 476.2,236.0 477.2,237.0 478.2,238.0 479.2,239.7 480.2,242.7 481.2,245.8 482.2,249.1 483.2,252.4 484.2,256.4 485.2,260.5 486.2,264.6 487.2,268.0 488.2,271.3 489.2,271.9 490.2,271.2 491.2,270.4 492.2,270.5 493.2,271.0 494.2,271.5 495.2,271.9 496.2,272.3 497.2,272.7 498.2,273.1 499.2,273.5 500.2,273.9 501.2,274.3 502.2,274.7 503.2,274.9 504.2,275.1 505.2,275.3 506.2,275.3 507.2,275.1 508.2,274.9 509.2,274.7 510.2,274.5 511.2,274.3 512.2,274.1 513.2,273.9 514.2,274.1 515.2,274.2 516.2,274.4 517.2,274.6 518.2,274.8 519.2,275.0 520.2,275.2 521.2,275.4 522.2,275.4 523.2,275.4 524.2,275.4 525.2,275.9 526.2,276.6 526.7,276.9" fill="none" stroke="#4A86CC" stroke-width="2.3" stroke-linejoin="round" stroke-linecap="round" opacity="1.0"/>
<polyline points="331.2,253.7 332.2,257.9 333.2,262.1 334.2,266.3 335.2,269.7 336.2,270.7 337.2,271.7 338.2,272.5 339.2,272.7 340.2,273.0 341.2,273.2 342.2,273.5 343.2,273.7 344.2,274.2 345.2,275.2 346.2,276.2 347.2,277.1 348.2,277.9 349.2,278.6 350.2,278.9 351.2,278.2 352.2,277.4 353.2,277.2 354.2,278.2 355.2,279.2 356.2,280.1 357.2,280.6 358.2,281.1 359.2,281.6 360.2,282.1 361.2,282.6 362.2,283.0 363.2,283.2 364.2,283.5 365.2,283.5 366.2,283.3 367.2,283.0 368.2,282.6 369.2,281.9 370.2,281.1 371.2,280.4 372.2,279.6 373.2,278.9 374.2,278.1 375.2,277.5 376.2,276.5 377.2,273.1 378.2,269.8 379.2,265.2 380.2,260.3 381.2,255.5 382.2,254.8 383.2,254.6 384.2,254.4 385.2,254.2 386.2,254.0 387.2,253.9 388.2,253.7 389.2,253.4 390.2,253.2 391.2,252.9 392.2,252.4 393.2,251.4 394.2,250.4 395.2,249.4 396.2,248.4 397.2,247.4 398.2,246.6 399.2,246.1 400.2,245.6 401.2,245.2 402.2,244.9 403.2,244.7 404.2,244.3 405.2,243.8 406.2,243.3 407.2,242.9 408.2,242.7 409.2,242.5 410.2,242.3 411.2,242.2 412.2,242.1 413.2,242.2 414.2,242.5 415.2,242.9 416.2,242.9 417.2,242.7 418.2,242.4 419.2,242.1 420.2,241.6 421.2,241.1 422.2,240.6 423.2,240.1 424.2,239.6 425.2,239.3 426.2,239.3 427.2,239.3 428.2,239.3 429.2,239.1 430.2,239.0 431.2,238.8 432.2,238.6 433.2,238.5 434.2,238.3 435.2,238.1 436.2,238.0 437.2,237.8 438.2,237.5 439.2,237.3 440.2,237.2 441.2,237.4 442.2,237.7 443.2,237.8 444.2,237.5 445.2,237.3 446.2,237.4 447.2,238.6 448.2,239.8 449.2,241.0 450.2,241.9 451.2,242.5 452.2,243.1 453.2,243.7 454.2,243.5 455.2,243.1 456.2,242.7 457.2,242.2 458.2,241.0 459.2,239.8 460.2,238.6 461.2,237.4 462.2,236.1 463.2,234.7 464.2,233.4 465.2,232.1 466.2,230.4 467.2,228.8 468.2,227.1 469.2,225.4 470.2,224.2 471.2,223.7 472.2,223.2 473.2,222.9 474.2,222.9 475.2,222.9 476.2,223.3 477.2,224.3 478.2,225.3 479.2,226.9 480.2,229.6 481.2,232.4 482.2,236.4 483.2,240.4 484.2,244.4 485.2,248.4 486.2,253.8 487.2,259.9 488.2,263.2 489.2,262.7 490.2,262.2 491.2,262.1 492.2,262.3 493.2,262.6 494.2,262.9 495.2,263.4 496.2,263.9 497.2,264.6 498.2,265.4 499.2,266.2 500.2,267.1 501.2,267.9 502.2,268.6 503.2,269.2 504.2,269.9 505.2,270.6 506.2,270.3 507.2,269.1 508.2,267.8 509.2,266.8 510.2,266.1 511.2,265.3 512.2,264.8 513.2,264.6 514.2,264.3 515.2,264.6 516.2,265.3 517.2,266.1 518.2,266.3 519.2,266.1 520.2,265.8 521.2,265.9 522.2,266.4 523.2,266.9 524.2,267.8 525.2,269.1 526.2,270.3 526.7,270.9" fill="none" stroke="#6A9BDA" stroke-width="2.4" stroke-linejoin="round" stroke-linecap="round" opacity="1.0"/>
<polyline points="331.2,250.7 332.2,252.1 333.2,253.4 334.2,255.0 335.2,256.7 336.2,258.3 337.2,260.0 338.2,261.5 339.2,262.5 340.2,263.5 341.2,264.0 342.2,263.2 343.2,262.5 344.2,262.1 345.2,262.6 346.2,263.1 347.2,263.7 348.2,264.4 349.2,265.2 350.2,265.9 351.2,266.7 352.2,267.4 353.2,268.1 354.2,268.6 355.2,269.1 356.2,269.3 357.2,269.0 358.2,268.6 359.2,267.9 360.2,267.1 361.2,266.5 362.2,267.5 363.2,268.5 364.2,269.5 365.2,270.2 366.2,271.0 367.2,271.7 368.2,272.4 369.2,273.1 370.2,271.7 371.2,270.1 372.2,268.8 373.2,267.8 374.2,267.8 375.2,269.5 376.2,270.4 377.2,266.4 378.2,261.1 379.2,255.1 380.2,249.0 381.2,240.9 382.2,240.7 383.2,241.3 384.2,242.0 385.2,242.7 386.2,242.9 387.2,242.4 388.2,241.9 389.2,241.2 390.2,240.2 391.2,239.2 392.2,238.0 393.2,236.8 394.2,235.5 395.2,234.4 396.2,233.4 397.2,232.4 398.2,231.7 399.2,231.5 400.2,231.2 401.2,231.0 402.2,230.7 403.2,230.5 404.2,230.2 405.2,230.0 406.2,229.7 407.2,229.5 408.2,229.2 409.2,229.0 410.2,228.7 411.2,228.5 412.2,228.2 413.2,228.1 414.2,228.1 415.2,228.1 416.2,228.2 417.2,228.5 418.2,228.7 419.2,228.6 420.2,228.1 421.2,227.6 422.2,227.2 423.2,227.0 424.2,226.7 425.2,226.5 426.2,226.1 427.2,225.8 428.2,225.6 429.2,225.7 430.2,225.7 431.2,225.8 432.2,225.9 433.2,225.7 434.2,225.6 435.2,225.4 436.2,225.2 437.2,225.1 438.2,225.1 439.2,225.1 440.2,225.1 441.2,225.1 442.2,225.3 443.2,225.5 444.2,225.8 445.2,226.0 446.2,226.3 447.2,226.9 448.2,227.5 449.2,228.1 450.2,228.7 451.2,229.3 452.2,229.8 453.2,230.3 454.2,230.2 455.2,230.0 456.2,229.8 457.2,229.6 458.2,229.0 459.2,228.4 460.2,227.8 461.2,227.0 462.2,226.0 463.2,225.0 464.2,224.0 465.2,222.9 466.2,221.7 467.2,220.5 468.2,219.3 469.2,218.6 470.2,218.0 471.2,217.4 472.2,216.9 473.2,216.9 474.2,216.9 475.2,216.9 476.2,217.2 477.2,217.9 478.2,218.7 479.2,220.0 480.2,222.4 481.2,224.9 482.2,228.9 483.2,232.9 484.2,236.3 485.2,239.7 486.2,243.3 487.2,247.0 488.2,249.3 489.2,249.5 490.2,249.6 491.2,249.8 492.2,250.0 493.2,250.0 494.2,250.0 495.2,250.0 496.2,250.0 497.2,250.1 498.2,250.5 499.2,250.8 500.2,251.1 501.2,251.5 502.2,252.3 503.2,253.1 504.2,253.9 505.2,254.8 506.2,254.9 507.2,254.3 508.2,253.7 509.2,253.1 510.2,253.0 511.2,253.0 512.2,253.0 513.2,253.0 514.2,253.6 515.2,254.3 516.2,255.0 517.2,255.6 518.2,256.2 519.2,256.7 520.2,257.2 521.2,257.7 522.2,258.2 523.2,258.6 524.2,258.9 525.2,259.2 526.2,259.6 526.7,259.7" fill="none" stroke="#42A4BC" stroke-width="2.5" stroke-linejoin="round" stroke-linecap="round" opacity="1.0"/>
<polyline points="331.2,234.1 332.2,234.1 333.2,234.1 334.2,234.1 335.2,235.1 336.2,236.1 337.2,237.9 338.2,239.9 339.2,241.9 340.2,241.7 341.2,241.0 342.2,240.2 343.2,239.6 344.2,238.9 345.2,238.9 346.2,239.4 347.2,239.9 348.2,240.6 349.2,241.6 350.2,242.6 351.2,243.6 352.2,244.6 353.2,245.6 354.2,246.5 355.2,247.2 356.2,248.0 357.2,247.9 358.2,247.1 359.2,246.4 360.2,246.6 361.2,247.6 362.2,248.7 363.2,249.8 364.2,250.9 365.2,250.1 366.2,248.4 367.2,246.7 368.2,245.3 369.2,244.0 370.2,243.8 371.2,243.8 372.2,244.6 373.2,246.0 374.2,247.2 375.2,248.2 376.2,249.2 377.2,247.1 378.2,240.1 379.2,226.7 380.2,213.7 381.2,211.0 382.2,208.9 383.2,210.2 384.2,211.5 385.2,212.3 386.2,213.1 387.2,213.8 388.2,213.9 389.2,213.9 390.2,213.9 391.2,213.2 392.2,212.5 393.2,211.7 394.2,210.5 395.2,209.3 396.2,208.0 397.2,207.2 398.2,206.5 399.2,205.7 400.2,205.9 401.2,206.2 402.2,206.4 403.2,206.2 404.2,205.9 405.2,205.7 406.2,205.4 407.2,205.0 408.2,204.7 409.2,204.3 410.2,204.0 411.2,203.8 412.2,203.6 413.2,203.5 414.2,203.3 415.2,203.2 416.2,203.2 417.2,203.4 418.2,203.6 419.2,203.5 420.2,203.0 421.2,202.5 422.2,202.1 423.2,202.0 424.2,202.0 425.2,202.0 426.2,202.0 427.2,202.0 428.2,202.0 429.2,202.0 430.2,202.1 431.2,202.2 432.2,202.2 433.2,202.1 434.2,202.0 435.2,201.8 436.2,201.6 437.2,201.5 438.2,201.5 439.2,201.6 440.2,201.6 441.2,201.6 442.2,201.9 443.2,202.2 444.2,202.6 445.2,202.9 446.2,203.3 447.2,203.8 448.2,204.2 449.2,204.7 450.2,205.2 451.2,205.7 452.2,206.2 453.2,206.4 454.2,206.3 455.2,206.2 456.2,206.2 457.2,205.8 458.2,205.4 459.2,205.0 460.2,204.6 461.2,203.7 462.2,202.7 463.2,201.8 464.2,200.9 465.2,200.0 466.2,199.1 467.2,198.1 468.2,197.4 469.2,196.7 470.2,196.0 471.2,195.3 472.2,195.0 473.2,194.8 474.2,194.5 475.2,194.7 476.2,194.9 477.2,195.2 478.2,196.4 479.2,197.7 480.2,199.7 481.2,202.0 482.2,205.4 483.2,210.4 484.2,214.2 485.2,217.9 486.2,220.1 487.2,221.6 488.2,223.1 489.2,223.8 490.2,224.0 491.2,224.3 492.2,224.2 493.2,224.0 494.2,223.7 495.2,224.1 496.2,224.9 497.2,225.6 498.2,226.0 499.2,226.3 500.2,226.5 501.2,227.1 502.2,227.9 503.2,228.6 504.2,229.8 505.2,231.1 506.2,231.5 507.2,230.8 508.2,230.0 509.2,229.3 510.2,228.5 511.2,227.8 512.2,227.5 513.2,227.7 514.2,228.0 515.2,228.7 516.2,230.0 517.2,231.2 518.2,232.1 519.2,232.6 520.2,233.1 521.2,233.3 522.2,233.3 523.2,233.3 524.2,233.9 525.2,234.9 526.2,235.9 526.7,236.3" fill="none" stroke="#B2000E" stroke-width="2.5" stroke-linejoin="round" stroke-linecap="round" opacity="1.0"/></g>
<clipPath id="clipE"><rect x="326.4" y="187.4" width="202.60000000000002" height="136.6"/></clipPath>
<rect x="326.4" y="187.4" width="202.60000000000002" height="136.6" fill="none" stroke="#4a4a4a" stroke-width="1.2"/>
<rect x="326.4" y="334.0" width="203.20000000000005" height="2.3" fill="#d6d6d6"/>
<rect x="326.4" y="325.29999999999995" width="202.70000000000005" height="8.300000000000022" fill="#fff" stroke="#222" stroke-width="0.9"/>
<rect x="325.9" y="324.9" width="53.80000000000001" height="9.100000000000023" fill="#000"/>
<rect x="475.7" y="324.9" width="53.900000000000034" height="9.100000000000023" fill="#000"/>
<text x="283.3" y="199.3" style="font-family:'Liberation Sans',sans-serif;font-weight:bold;font-size:17px">E</text>
<text transform="translate(317.6,325.0) rotate(-90)" style="font-family:'Liberation Sans',sans-serif;font-weight:bold;font-size:12px">Log (Activity Intensity)</text>
<text x="525.3" y="201.3" text-anchor="end" style="font-family:'Liberation Sans',sans-serif;font-weight:bold;font-size:12.6px">50-60</text>
<text x="379.7" y="346.6" text-anchor="middle" style="font-family:'Liberation Sans',sans-serif;font-weight:bold;font-size:13.5px">ZT 0</text>
<text x="478.2" y="346.6" text-anchor="middle" style="font-family:'Liberation Sans',sans-serif;font-weight:bold;font-size:13.5px">ZT 12</text>
<rect x="326.4" y="352.3" width="202.60000000000002" height="136.2" fill="#fff"/>
<line x1="326.4" y1="353.6" x2="529.0" y2="353.6" stroke="#c8c8c8" stroke-width="1.2"/>
<line x1="326.4" y1="380.5" x2="526.5" y2="380.5" stroke="#a2a2a2" stroke-width="1"/>
<line x1="326.4" y1="407.5" x2="526.5" y2="407.5" stroke="#a2a2a2" stroke-width="1"/>
<line x1="326.4" y1="434.5" x2="526.5" y2="434.5" stroke="#a2a2a2" stroke-width="1"/>
<line x1="326.4" y1="461.5" x2="526.5" y2="461.5" stroke="#a2a2a2" stroke-width="1"/>
<g clip-path="url(#clipF)"><polyline points="331.2,443.9 332.2,444.4 333.2,444.9 334.2,445.4 335.2,446.4 336.2,447.4 337.2,448.4 338.2,450.4 339.2,452.4 340.2,454.3 341.2,452.8 342.2,451.3 343.2,449.8 344.2,448.3 345.2,446.8 346.2,445.4 347.2,446.7 348.2,447.9 349.2,449.0 350.2,448.3 351.2,447.5 352.2,446.7 353.2,445.2 354.2,443.7 355.2,442.3 356.2,441.6 357.2,441.0 358.2,442.5 359.2,444.5 360.2,446.4 361.2,448.1 362.2,449.9 363.2,448.6 364.2,445.3 365.2,443.8 366.2,445.8 367.2,447.8 368.2,449.4 369.2,450.4 370.2,451.0 371.2,448.0 372.2,445.0 373.2,444.0 374.2,443.4 375.2,443.9 376.2,445.3 377.2,443.5 378.2,436.9 379.2,430.7 380.2,427.3 381.2,424.0 382.2,423.5 383.2,423.5 384.2,423.5 385.2,423.5 386.2,423.5 387.2,423.5 388.2,423.5 389.2,423.4 390.2,423.1 391.2,422.9 392.2,422.6 393.2,422.4 394.2,422.1 395.2,421.8 396.2,421.4 397.2,421.1 398.2,420.7 399.2,420.3 400.2,419.9 401.2,419.6 402.2,419.2 403.2,418.8 404.2,418.4 405.2,418.1 406.2,417.7 407.2,417.3 408.2,416.9 409.2,416.6 410.2,416.2 411.2,415.8 412.2,415.4 413.2,415.1 414.2,414.9 415.2,414.6 416.2,414.4 417.2,414.1 418.2,413.9 419.2,413.6 420.2,413.4 421.2,413.1 422.2,412.9 423.2,412.6 424.2,412.4 425.2,412.3 426.2,412.3 427.2,412.3 428.2,412.3 429.2,412.3 430.2,412.3 431.2,412.3 432.2,412.3 433.2,412.2 434.2,412.1 435.2,412.0 436.2,411.9 437.2,411.8 438.2,411.7 439.2,411.7 440.2,411.6 441.2,411.5 442.2,411.8 443.2,412.1 444.2,412.4 445.2,412.8 446.2,413.1 447.2,413.4 448.2,413.8 449.2,414.1 450.2,414.4 451.2,414.7 452.2,414.9 453.2,415.1 454.2,415.2 455.2,414.2 456.2,413.2 457.2,412.2 458.2,411.0 459.2,409.4 460.2,407.8 461.2,406.2 462.2,405.1 463.2,404.3 464.2,403.5 465.2,402.7 466.2,402.2 467.2,401.8 468.2,401.4 469.2,401.1 470.2,401.3 471.2,401.5 472.2,401.7 473.2,402.1 474.2,402.9 475.2,403.7 476.2,404.5 477.2,405.8 478.2,407.4 479.2,409.0 480.2,410.6 481.2,412.8 482.2,415.0 483.2,417.3 484.2,423.0 485.2,427.2 486.2,428.4 487.2,429.7 488.2,430.7 489.2,431.5 490.2,432.2 491.2,432.5 492.2,432.3 493.2,432.0 494.2,431.6 495.2,430.8 496.2,430.1 497.2,430.5 498.2,432.5 499.2,434.5 500.2,436.0 501.2,436.7 502.2,437.5 503.2,438.0 504.2,438.2 505.2,438.5 506.2,439.1 507.2,440.1 508.2,441.1 509.2,442.2 510.2,443.4 511.2,444.7 512.2,445.0 513.2,444.2 514.2,443.5 515.2,442.9 516.2,442.4 517.2,441.9 518.2,441.9 519.2,442.4 520.2,442.9 521.2,443.2 522.2,443.5 523.2,443.7 524.2,444.1 525.2,444.6 526.2,445.1 526.7,445.3" fill="none" stroke="#F2AE72" stroke-width="2.3" stroke-linejoin="round" stroke-linecap="round" opacity="1.0"/>
<polyline points="331.2,442.7 332.2,443.2 333.2,443.7 334.2,444.2 335.2,445.2 336.2,446.2 337.2,447.2 338.2,449.2 339.2,451.2 340.2,453.1 341.2,451.6 342.2,450.1 343.2,448.6 344.2,447.1 345.2,445.6 346.2,444.2 347.2,445.5 348.2,446.7 349.2,447.8 350.2,447.1 351.2,446.3 352.2,445.5 353.2,444.0 354.2,442.5 355.2,441.1 356.2,440.4 357.2,439.8 358.2,441.3 359.2,443.3 360.2,445.2 361.2,446.9 362.2,448.7 363.2,447.4 364.2,444.1 365.2,442.6 366.2,444.6 367.2,446.6 368.2,448.2 369.2,449.2 370.2,449.8 371.2,446.8 372.2,443.8 373.2,442.8 374.2,442.2 375.2,442.7 376.2,444.1 377.2,442.3 378.2,435.7 379.2,429.5 380.2,426.1 381.2,422.8 382.2,422.3 383.2,422.3 384.2,422.3 385.2,422.3 386.2,422.3 387.2,422.3 388.2,422.3 389.2,422.2 390.2,421.9 391.2,421.7 392.2,421.4 393.2,421.2 394.2,420.9 395.2,420.6 396.2,420.2 397.2,419.9 398.2,419.5 399.2,419.1 400.2,418.7 401.2,418.4 402.2,418.0 403.2,417.6 404.2,417.2 405.2,416.9 406.2,416.5 407.2,416.1 408.2,415.7 409.2,415.4 410.2,415.0 411.2,414.6 412.2,414.2 413.2,413.9 414.2,413.7 415.2,413.4 416.2,413.2 417.2,412.9 418.2,412.7 419.2,412.4 420.2,412.2 421.2,411.9 422.2,411.7 423.2,411.4 424.2,411.2 425.2,411.1 426.2,411.1 427.2,411.1 428.2,411.1 429.2,411.1 430.2,411.1 431.2,411.1 432.2,411.1 433.2,411.0 434.2,410.9 435.2,410.8 436.2,410.7 437.2,410.6 438.2,410.5 439.2,410.5 440.2,410.4 441.2,410.3 442.2,410.6 443.2,410.9 444.2,411.2 445.2,411.6 446.2,411.9 447.2,412.2 448.2,412.6 449.2,412.9 450.2,413.2 451.2,413.5 452.2,413.7 453.2,413.9 454.2,414.0 455.2,413.0 456.2,412.0 457.2,411.0 458.2,409.8 459.2,408.2 460.2,406.6 461.2,405.0 462.2,403.9 463.2,403.1 464.2,402.3 465.2,401.5 466.2,401.0 467.2,400.6 468.2,400.2 469.2,399.9 470.2,400.1 471.2,400.3 472.2,400.5 473.2,400.9 474.2,401.7 475.2,402.5 476.2,403.3 477.2,404.6 478.2,406.2 479.2,407.8 480.2,409.4 481.2,411.6 482.2,413.8 483.2,416.1 484.2,421.8 485.2,426.0 486.2,427.2 487.2,428.5 488.2,429.5 489.2,430.3 490.2,431.0 491.2,431.3 492.2,431.1 493.2,430.8 494.2,430.4 495.2,429.6 496.2,428.9 497.2,429.3 498.2,431.3 499.2,433.3 500.2,434.8 501.2,435.5 502.2,436.3 503.2,436.8 504.2,437.0 505.2,437.3 506.2,437.9 507.2,438.9 508.2,439.9 509.2,441.0 510.2,442.2 511.2,443.5 512.2,443.8 513.2,443.0 514.2,442.3 515.2,441.7 516.2,441.2 517.2,440.7 518.2,440.7 519.2,441.2 520.2,441.7 521.2,442.0 522.2,442.3 523.2,442.5 524.2,442.9 525.2,443.4 526.2,443.9 526.7,444.1" fill="none" stroke="#EA9148" stroke-width="2.3" stroke-linejoin="round" stroke-linecap="round" opacity="1.0"/>
<polyline points="331.2,446.4 332.2,447.4 333.2,448.4 334.2,449.0 335.2,449.5 336.2,450.0 337.2,450.5 338.2,451.0 339.2,451.5 340.2,451.8 341.2,452.1 342.2,452.3 343.2,452.2 344.2,451.9 345.2,451.7 346.2,451.4 347.2,451.2 348.2,450.9 349.2,451.7 350.2,452.7 351.2,453.7 352.2,455.5 353.2,457.5 354.2,459.1 355.2,460.4 356.2,460.7 357.2,458.7 358.2,456.7 359.2,454.7 360.2,452.7 361.2,450.9 362.2,451.7 363.2,452.4 364.2,453.3 365.2,455.3 366.2,457.3 367.2,458.7 368.2,460.1 369.2,459.2 370.2,456.8 371.2,454.7 372.2,453.0 373.2,451.2 374.2,450.7 375.2,452.2 376.2,453.7 377.2,451.3 378.2,442.8 379.2,434.8 380.2,426.8 381.2,424.2 382.2,424.5 383.2,425.2 384.2,426.5 385.2,427.7 386.2,428.5 387.2,428.8 388.2,429.0 389.2,429.6 390.2,430.6 391.2,431.6 392.2,432.3 393.2,432.5 394.2,432.8 395.2,432.4 396.2,431.1 397.2,429.9 398.2,428.6 399.2,427.4 400.2,426.1 401.2,425.2 402.2,424.7 403.2,424.2 404.2,424.4 405.2,425.4 406.2,426.4 407.2,426.7 408.2,426.2 409.2,425.7 410.2,425.2 411.2,424.7 412.2,424.2 413.2,423.7 414.2,423.2 415.2,422.7 416.2,422.3 417.2,422.1 418.2,421.8 419.2,421.5 420.2,421.0 421.2,420.5 422.2,420.0 423.2,419.5 424.2,419.0 425.2,418.5 426.2,418.0 427.2,417.6 428.2,417.3 429.2,417.5 430.2,417.8 431.2,418.0 432.2,418.2 433.2,418.4 434.2,418.5 435.2,418.6 436.2,418.7 437.2,418.8 438.2,418.9 439.2,419.0 440.2,419.1 441.2,419.2 442.2,419.4 443.2,419.6 444.2,419.8 445.2,420.1 446.2,420.3 447.2,420.5 448.2,420.8 449.2,421.0 450.2,421.2 451.2,421.4 452.2,421.5 453.2,421.6 454.2,421.7 455.2,421.1 456.2,420.5 457.2,419.9 458.2,419.0 459.2,417.6 460.2,416.2 461.2,414.8 462.2,413.3 463.2,411.6 464.2,410.0 465.2,408.3 466.2,407.7 467.2,407.3 468.2,406.9 469.2,406.6 470.2,406.6 471.2,406.6 472.2,406.6 473.2,406.9 474.2,407.7 475.2,408.5 476.2,409.3 477.2,410.7 478.2,412.5 479.2,414.3 480.2,416.1 481.2,419.3 482.2,422.6 483.2,425.5 484.2,428.3 485.2,430.5 486.2,432.0 487.2,433.5 488.2,434.8 489.2,435.8 490.2,436.8 491.2,437.9 492.2,439.2 493.2,440.4 494.2,440.7 495.2,439.7 496.2,438.7 497.2,438.6 498.2,439.6 499.2,440.6 500.2,441.6 501.2,442.6 502.2,443.6 503.2,444.4 504.2,444.9 505.2,445.4 506.2,446.1 507.2,447.1 508.2,448.1 509.2,449.1 510.2,450.1 511.2,451.1 512.2,451.9 513.2,452.6 514.2,452.9 515.2,451.9 516.2,450.9 517.2,449.9 518.2,448.9 519.2,447.9 520.2,447.4 521.2,446.9 522.2,446.4 523.2,447.9 524.2,449.4 525.2,451.0 526.2,454.7 526.7,456.5" fill="none" stroke="#1E4F91" stroke-width="2.4" stroke-linejoin="round" stroke-linecap="round" opacity="1.0"/>
<polyline points="331.2,444.8 332.2,445.6 333.2,446.3 334.2,446.8 335.2,447.3 336.2,447.8 337.2,448.3 338.2,448.8 339.2,449.3 340.2,449.6 341.2,449.6 342.2,449.6 343.2,449.4 344.2,449.3 345.2,449.2 346.2,449.1 347.2,449.1 348.2,449.0 349.2,449.6 350.2,450.4 351.2,451.2 352.2,452.6 353.2,453.7 354.2,454.6 355.2,455.2 356.2,455.2 357.2,453.8 358.2,452.3 359.2,451.3 360.2,450.2 361.2,449.3 362.2,449.7 363.2,450.1 364.2,450.6 365.2,451.8 366.2,453.0 367.2,453.9 368.2,454.7 369.2,454.0 370.2,452.4 371.2,451.1 372.2,450.1 373.2,449.0 374.2,448.8 375.2,449.8 376.2,450.6 377.2,447.4 378.2,440.1 379.2,433.3 380.2,426.7 381.2,423.5 382.2,423.6 383.2,424.2 384.2,425.1 385.2,425.8 386.2,426.3 387.2,426.3 388.2,426.7 389.2,427.4 390.2,428.3 391.2,429.0 392.2,429.5 393.2,429.8 394.2,429.7 395.2,429.2 396.2,428.1 397.2,427.0 398.2,425.8 399.2,424.6 400.2,423.7 401.2,423.0 402.2,422.6 403.2,422.2 404.2,422.3 405.2,422.8 406.2,423.3 407.2,423.3 408.2,422.8 409.2,422.4 410.2,422.0 411.2,421.6 412.2,421.2 413.2,420.8 414.2,420.3 415.2,419.9 416.2,419.6 417.2,419.3 418.2,419.1 419.2,418.7 420.2,418.3 421.2,417.8 422.2,417.5 423.2,417.2 424.2,416.9 425.2,416.6 426.2,416.3 427.2,416.1 428.2,415.9 429.2,416.0 430.2,416.2 431.2,416.3 432.2,416.5 433.2,416.5 434.2,416.5 435.2,416.6 436.2,416.6 437.2,416.6 438.2,416.7 439.2,416.8 440.2,417.0 441.2,417.1 442.2,417.3 443.2,417.5 444.2,417.7 445.2,417.9 446.2,418.1 447.2,418.4 448.2,418.7 449.2,418.9 450.2,419.2 451.2,419.4 452.2,419.5 453.2,419.7 454.2,419.8 455.2,419.1 456.2,418.4 457.2,417.8 458.2,416.9 459.2,415.5 460.2,414.1 461.2,412.7 462.2,411.3 463.2,409.9 464.2,408.6 465.2,407.2 466.2,406.7 467.2,406.3 468.2,405.9 469.2,405.5 470.2,405.6 471.2,405.7 472.2,405.7 473.2,406.1 474.2,406.8 475.2,407.5 476.2,408.2 477.2,409.6 478.2,411.3 479.2,413.1 480.2,414.8 481.2,417.6 482.2,420.6 483.2,423.3 484.2,426.8 485.2,429.5 486.2,431.0 487.2,432.5 488.2,433.8 489.2,434.8 490.2,435.8 491.2,436.8 492.2,437.8 493.2,438.8 494.2,439.0 495.2,438.1 496.2,437.3 497.2,437.4 498.2,438.5 499.2,439.7 500.2,440.7 501.2,441.6 502.2,442.4 503.2,443.0 504.2,443.4 505.2,443.8 506.2,444.5 507.2,445.4 508.2,446.3 509.2,447.2 510.2,448.1 511.2,449.1 512.2,449.7 513.2,450.2 514.2,450.3 515.2,449.6 516.2,448.8 517.2,448.0 518.2,447.1 519.2,446.3 520.2,445.8 521.2,445.5 522.2,445.4 523.2,446.5 524.2,447.7 525.2,449.0 526.2,451.7 526.7,452.9" fill="none" stroke="#2B6CB8" stroke-width="2.4" stroke-linejoin="round" stroke-linecap="round" opacity="1.0"/>
<polyline points="331.2,443.2 332.2,443.7 333.2,444.2 334.2,444.6 335.2,445.1 336.2,445.6 337.2,446.1 338.2,446.6 339.2,447.1 340.2,447.5 341.2,447.2 342.2,446.9 343.2,446.6 344.2,446.7 345.2,446.8 346.2,446.9 347.2,447.0 348.2,447.1 349.2,447.5 350.2,448.1 351.2,448.8 352.2,449.6 353.2,449.9 354.2,450.0 355.2,450.1 356.2,449.8 357.2,448.8 358.2,448.0 359.2,447.9 360.2,447.8 361.2,447.7 362.2,447.8 363.2,447.8 364.2,447.9 365.2,448.3 366.2,448.8 367.2,449.0 368.2,449.3 369.2,448.8 370.2,448.0 371.2,447.5 372.2,447.2 373.2,446.8 374.2,446.8 375.2,447.5 376.2,447.6 377.2,443.4 378.2,437.3 379.2,431.9 380.2,426.5 381.2,422.8 382.2,422.7 383.2,423.1 384.2,423.6 385.2,423.9 386.2,424.0 387.2,423.9 388.2,424.4 389.2,425.1 390.2,425.9 391.2,426.4 392.2,426.8 393.2,427.0 394.2,426.6 395.2,426.0 396.2,425.1 397.2,424.0 398.2,423.0 399.2,421.9 400.2,421.3 401.2,420.9 402.2,420.5 403.2,420.2 404.2,420.1 405.2,420.2 406.2,420.2 407.2,419.9 408.2,419.4 409.2,419.1 410.2,418.8 411.2,418.4 412.2,418.1 413.2,417.8 414.2,417.5 415.2,417.1 416.2,416.8 417.2,416.6 418.2,416.3 419.2,415.9 420.2,415.6 421.2,415.2 422.2,414.9 423.2,414.9 424.2,414.8 425.2,414.7 426.2,414.6 427.2,414.5 428.2,414.5 429.2,414.6 430.2,414.6 431.2,414.7 432.2,414.8 433.2,414.7 434.2,414.6 435.2,414.6 436.2,414.5 437.2,414.4 438.2,414.6 439.2,414.7 440.2,414.9 441.2,415.0 442.2,415.2 443.2,415.4 444.2,415.6 445.2,415.8 446.2,416.0 447.2,416.3 448.2,416.6 449.2,416.9 450.2,417.2 451.2,417.4 452.2,417.6 453.2,417.8 454.2,417.9 455.2,417.1 456.2,416.4 457.2,415.7 458.2,414.7 459.2,413.3 460.2,411.9 461.2,410.5 462.2,409.3 463.2,408.2 464.2,407.2 465.2,406.1 466.2,405.6 467.2,405.2 468.2,404.8 469.2,404.5 470.2,404.6 471.2,404.8 472.2,404.9 473.2,405.2 474.2,405.9 475.2,406.6 476.2,407.2 477.2,408.5 478.2,410.2 479.2,411.8 480.2,413.5 481.2,416.0 482.2,418.5 483.2,421.0 484.2,425.2 485.2,428.5 486.2,430.0 487.2,431.5 488.2,432.7 489.2,433.7 490.2,434.7 491.2,435.6 492.2,436.4 493.2,437.1 494.2,437.2 495.2,436.6 496.2,435.9 497.2,436.1 498.2,437.5 499.2,438.8 500.2,439.9 501.2,440.5 502.2,441.2 503.2,441.7 504.2,442.0 505.2,442.3 506.2,442.9 507.2,443.7 508.2,444.5 509.2,445.4 510.2,446.2 511.2,447.0 512.2,447.5 513.2,447.7 514.2,447.8 515.2,447.3 516.2,446.7 517.2,446.0 518.2,445.4 519.2,444.7 520.2,444.2 521.2,444.1 522.2,444.3 523.2,445.1 524.2,446.0 525.2,447.0 526.2,448.6 526.7,449.4" fill="none" stroke="#2B6CB8" stroke-width="2.4" stroke-linejoin="round" stroke-linecap="round" opacity="1.0"/>
<polyline points="331.2,441.9 332.2,442.2 333.2,442.4 334.2,442.7 335.2,443.2 336.2,443.7 337.2,444.2 338.2,444.7 339.2,445.2 340.2,445.6 341.2,445.1 342.2,444.6 343.2,444.2 344.2,444.4 345.2,444.7 346.2,444.9 347.2,445.2 348.2,445.4 349.2,445.7 350.2,446.2 351.2,446.7 352.2,447.1 353.2,446.6 354.2,446.1 355.2,445.6 356.2,445.1 357.2,444.6 358.2,444.2 359.2,445.0 360.2,445.7 361.2,446.4 362.2,446.1 363.2,445.9 364.2,445.6 365.2,445.4 366.2,445.1 367.2,444.9 368.2,444.6 369.2,444.4 370.2,444.2 371.2,444.4 372.2,444.7 373.2,444.9 374.2,445.2 375.2,445.4 376.2,445.0 377.2,440.0 378.2,435.0 379.2,430.7 380.2,426.4 381.2,422.2 382.2,421.9 383.2,422.2 384.2,422.4 385.2,422.2 386.2,422.0 387.2,421.7 388.2,422.4 389.2,423.2 390.2,423.9 391.2,424.2 392.2,424.4 393.2,424.7 394.2,424.0 395.2,423.3 396.2,422.5 397.2,421.5 398.2,420.5 399.2,419.5 400.2,419.2 401.2,419.0 402.2,418.7 403.2,418.5 404.2,418.2 405.2,418.0 406.2,417.5 407.2,417.0 408.2,416.5 409.2,416.2 410.2,416.0 411.2,415.7 412.2,415.5 413.2,415.2 414.2,415.0 415.2,414.7 416.2,414.5 417.2,414.2 418.2,413.9 419.2,413.6 420.2,413.2 421.2,412.9 422.2,412.8 423.2,412.9 424.2,413.0 425.2,413.1 426.2,413.1 427.2,413.2 428.2,413.3 429.2,413.3 430.2,413.3 431.2,413.3 432.2,413.3 433.2,413.2 434.2,413.0 435.2,412.8 436.2,412.7 437.2,412.6 438.2,412.8 439.2,412.9 440.2,413.1 441.2,413.3 442.2,413.4 443.2,413.6 444.2,413.8 445.2,413.9 446.2,414.1 447.2,414.5 448.2,414.8 449.2,415.1 450.2,415.5 451.2,415.7 452.2,415.9 453.2,416.1 454.2,416.2 455.2,415.4 456.2,414.6 457.2,413.8 458.2,412.8 459.2,411.4 460.2,410.1 461.2,408.7 462.2,407.6 463.2,406.8 464.2,406.0 465.2,405.2 466.2,404.7 467.2,404.3 468.2,403.9 469.2,403.6 470.2,403.8 471.2,404.0 472.2,404.2 473.2,404.5 474.2,405.1 475.2,405.7 476.2,406.3 477.2,407.6 478.2,409.2 479.2,410.8 480.2,412.4 481.2,414.6 482.2,416.8 483.2,419.1 484.2,423.9 485.2,427.6 486.2,429.1 487.2,430.6 488.2,431.8 489.2,432.8 490.2,433.8 491.2,434.6 492.2,435.1 493.2,435.6 494.2,435.7 495.2,435.2 496.2,434.7 497.2,435.1 498.2,436.6 499.2,438.1 500.2,439.1 501.2,439.6 502.2,440.1 503.2,440.5 504.2,440.8 505.2,441.0 506.2,441.5 507.2,442.3 508.2,443.0 509.2,443.8 510.2,444.5 511.2,445.3 512.2,445.6 513.2,445.6 514.2,445.6 515.2,445.4 516.2,444.9 517.2,444.4 518.2,443.9 519.2,443.4 520.2,442.9 521.2,442.9 522.2,443.4 523.2,443.9 524.2,444.5 525.2,445.3 526.2,446.0 526.7,446.4" fill="none" stroke="#4A86CC" stroke-width="2.3" stroke-linejoin="round" stroke-linecap="round" opacity="1.0"/>
<polyline points="331.2,439.7 332.2,439.7 333.2,439.7 334.2,439.7 335.2,439.9 336.2,440.2 337.2,440.4 338.2,440.7 339.2,440.9 340.2,441.1 341.2,440.8 342.2,440.4 343.2,440.1 344.2,440.7 345.2,441.3 346.2,441.9 347.2,442.2 348.2,442.4 349.2,442.6 350.2,442.1 351.2,441.6 352.2,441.1 353.2,440.9 354.2,440.6 355.2,440.4 356.2,440.9 357.2,441.4 358.2,441.9 359.2,442.2 360.2,442.4 361.2,442.6 362.2,442.4 363.2,442.1 364.2,441.9 365.2,441.4 366.2,440.9 367.2,440.4 368.2,440.1 369.2,439.9 370.2,439.6 371.2,439.4 372.2,439.1 373.2,439.0 374.2,439.5 375.2,440.0 376.2,439.9 377.2,435.9 378.2,431.9 379.2,427.9 380.2,423.9 381.2,422.3 382.2,422.1 383.2,421.9 384.2,421.7 385.2,421.6 386.2,421.4 387.2,421.2 388.2,421.1 389.2,421.1 390.2,421.4 391.2,421.8 392.2,422.1 393.2,422.4 394.2,421.8 395.2,421.2 396.2,420.5 397.2,419.8 398.2,419.3 399.2,419.0 400.2,418.7 401.2,418.3 402.2,418.0 403.2,417.7 404.2,417.3 405.2,417.0 406.2,416.7 407.2,416.3 408.2,416.0 409.2,415.7 410.2,415.3 411.2,415.0 412.2,414.7 413.2,414.5 414.2,414.2 415.2,413.9 416.2,413.6 417.2,413.3 418.2,413.0 419.2,412.7 420.2,412.4 421.2,412.1 422.2,411.7 423.2,411.1 424.2,410.4 425.2,409.8 426.2,409.2 427.2,408.5 428.2,408.1 429.2,408.1 430.2,408.1 431.2,408.1 432.2,408.1 433.2,408.1 434.2,408.1 435.2,408.1 436.2,408.1 437.2,408.1 438.2,408.2 439.2,408.3 440.2,408.4 441.2,408.5 442.2,408.6 443.2,408.6 444.2,408.7 445.2,408.8 446.2,408.9 447.2,409.2 448.2,409.6 449.2,409.9 450.2,410.2 451.2,410.5 452.2,410.7 453.2,410.9 454.2,411.0 455.2,410.0 456.2,409.0 457.2,408.0 458.2,406.8 459.2,405.2 460.2,403.6 461.2,402.0 462.2,400.8 463.2,399.8 464.2,398.8 465.2,397.8 466.2,397.3 467.2,396.9 468.2,396.5 469.2,396.1 470.2,396.3 471.2,396.5 472.2,396.7 473.2,397.1 474.2,397.9 475.2,398.7 476.2,399.5 477.2,400.8 478.2,402.3 479.2,403.8 480.2,406.5 481.2,409.8 482.2,413.0 483.2,416.1 484.2,419.1 485.2,421.4 486.2,422.4 487.2,423.4 488.2,424.3 489.2,425.0 490.2,425.8 491.2,426.2 492.2,426.2 493.2,426.2 494.2,426.0 495.2,425.5 496.2,425.0 497.2,425.5 498.2,427.2 499.2,429.0 500.2,430.3 501.2,431.0 502.2,431.8 503.2,432.3 504.2,432.5 505.2,432.8 506.2,433.4 507.2,434.4 508.2,435.4 509.2,436.3 510.2,437.0 511.2,437.8 512.2,438.2 513.2,438.2 514.2,438.2 515.2,437.9 516.2,437.4 517.2,436.9 518.2,436.9 519.2,437.4 520.2,437.9 521.2,438.5 522.2,439.3 523.2,440.0 524.2,440.5 525.2,440.8 526.2,441.0 526.7,441.2" fill="none" stroke="#6A9BDA" stroke-width="2.4" stroke-linejoin="round" stroke-linecap="round" opacity="1.0"/>
<polyline points="331.2,430.7 332.2,431.7 333.2,432.7 334.2,433.7 335.2,434.4 336.2,435.2 337.2,435.9 338.2,435.7 339.2,435.4 340.2,435.1 341.2,434.1 342.2,433.1 343.2,432.2 344.2,433.0 345.2,433.7 346.2,434.4 347.2,434.9 348.2,435.4 349.2,435.9 350.2,435.1 351.2,434.4 352.2,433.6 353.2,432.6 354.2,431.6 355.2,430.7 356.2,430.2 357.2,429.7 358.2,430.1 359.2,430.7 360.2,431.3 361.2,432.1 362.2,432.8 363.2,433.6 364.2,433.5 365.2,433.2 366.2,433.0 367.2,433.0 368.2,433.1 369.2,433.2 370.2,433.4 371.2,433.5 372.2,433.7 373.2,433.7 374.2,433.7 375.2,433.7 376.2,433.4 377.2,433.1 378.2,429.1 379.2,423.1 380.2,417.6 381.2,415.3 382.2,413.2 383.2,412.4 384.2,411.7 385.2,411.0 386.2,410.8 387.2,410.5 388.2,410.4 389.2,411.1 390.2,411.8 391.2,412.7 392.2,413.7 393.2,413.6 394.2,412.9 395.2,412.0 396.2,410.8 397.2,409.5 398.2,408.4 399.2,407.4 400.2,406.4 401.2,405.6 402.2,405.1 403.2,404.6 404.2,404.1 405.2,403.6 406.2,403.1 407.2,402.4 408.2,401.4 409.2,400.4 410.2,399.8 411.2,399.7 412.2,399.6 413.2,399.3 414.2,398.9 415.2,398.6 416.2,398.1 417.2,397.6 418.2,397.1 419.2,396.6 420.2,396.1 421.2,395.6 422.2,395.1 423.2,394.6 424.2,394.1 425.2,393.9 426.2,393.9 427.2,393.9 428.2,393.9 429.2,393.9 430.2,393.9 431.2,393.9 432.2,393.6 433.2,393.1 434.2,392.7 435.2,392.2 436.2,392.3 437.2,392.6 438.2,392.8 439.2,393.1 440.2,393.7 441.2,394.3 442.2,394.9 443.2,395.3 444.2,395.0 445.2,394.8 446.2,394.6 447.2,394.4 448.2,394.2 449.2,394.8 450.2,395.5 451.2,396.1 452.2,396.7 453.2,397.3 454.2,397.9 455.2,398.0 456.2,397.0 457.2,396.0 458.2,394.8 459.2,393.2 460.2,391.6 461.2,390.0 462.2,388.8 463.2,387.8 464.2,386.8 465.2,385.8 466.2,385.3 467.2,385.0 468.2,384.6 469.2,385.2 470.2,385.9 471.2,386.5 472.2,387.2 473.2,387.4 474.2,387.6 475.2,387.8 476.2,388.3 477.2,389.3 478.2,390.3 479.2,391.9 480.2,394.6 481.2,397.3 482.2,400.7 483.2,404.0 484.2,408.9 485.2,412.3 486.2,413.1 487.2,413.8 488.2,414.7 489.2,415.7 490.2,416.7 491.2,417.3 492.2,417.6 493.2,417.8 494.2,417.7 495.2,416.9 496.2,416.2 497.2,416.3 498.2,417.7 499.2,419.3 500.2,422.3 501.2,425.3 502.2,424.5 503.2,423.5 504.2,422.5 505.2,421.5 506.2,421.7 507.2,423.2 508.2,424.7 509.2,426.2 510.2,427.7 511.2,429.2 512.2,430.2 513.2,430.7 514.2,431.2 515.2,431.1 516.2,430.3 517.2,429.6 518.2,428.9 519.2,428.4 520.2,427.9 521.2,428.1 522.2,428.8 523.2,429.6 524.2,430.7 525.2,432.2 526.2,433.7 526.7,434.4" fill="none" stroke="#42A4BC" stroke-width="2.5" stroke-linejoin="round" stroke-linecap="round" opacity="1.0"/>
<polyline points="331.2,400.6 332.2,401.3 333.2,401.9 334.2,403.1 335.2,404.4 336.2,406.1 337.2,408.1 338.2,409.9 339.2,411.3 340.2,412.5 341.2,410.2 342.2,407.8 343.2,406.1 344.2,405.5 345.2,406.8 346.2,408.1 347.2,409.1 348.2,410.1 349.2,409.7 350.2,409.0 351.2,408.2 352.2,407.5 353.2,406.7 354.2,406.0 355.2,405.2 356.2,404.5 357.2,403.7 358.2,402.8 359.2,401.8 360.2,400.8 361.2,400.9 362.2,401.2 363.2,402.3 364.2,404.0 365.2,405.8 366.2,407.8 367.2,409.6 368.2,410.3 369.2,411.0 370.2,409.6 371.2,408.0 372.2,406.9 373.2,406.2 374.2,405.9 375.2,406.2 376.2,406.4 377.2,404.4 378.2,398.7 379.2,393.0 380.2,386.8 381.2,381.8 382.2,381.2 383.2,380.6 384.2,380.2 385.2,380.0 386.2,379.7 387.2,379.7 388.2,379.7 389.2,379.7 390.2,380.1 391.2,380.8 392.2,381.3 393.2,381.6 394.2,381.7 395.2,380.7 396.2,379.7 397.2,379.0 398.2,378.2 399.2,377.5 400.2,376.9 401.2,376.4 402.2,375.9 403.2,376.2 404.2,376.4 405.2,376.7 406.2,376.2 407.2,375.7 408.2,375.2 409.2,374.4 410.2,373.7 411.2,372.9 412.2,372.7 413.2,372.4 414.2,372.2 415.2,372.2 416.2,372.2 417.2,372.2 418.2,372.2 419.2,372.2 420.2,372.2 421.2,371.4 422.2,370.7 423.2,369.9 424.2,369.2 425.2,368.4 426.2,367.7 427.2,367.3 428.2,367.1 429.2,367.6 430.2,368.1 431.2,368.4 432.2,368.2 433.2,368.0 434.2,367.8 435.2,367.8 436.2,367.9 437.2,368.1 438.2,368.3 439.2,368.4 440.2,368.6 441.2,368.8 442.2,368.9 443.2,369.1 444.2,369.2 445.2,369.2 446.2,369.2 447.2,369.2 448.2,369.6 449.2,370.1 450.2,370.6 451.2,371.1 452.2,371.6 453.2,372.1 454.2,372.0 455.2,371.7 456.2,371.5 457.2,370.6 458.2,369.6 459.2,368.6 460.2,367.5 461.2,366.3 462.2,365.1 463.2,363.9 464.2,363.4 465.2,363.0 466.2,362.5 467.2,362.3 468.2,362.5 469.2,362.8 470.2,363.1 471.2,363.3 472.2,363.5 473.2,363.7 474.2,363.9 475.2,364.5 476.2,365.1 477.2,365.7 478.2,366.4 479.2,367.6 480.2,368.9 481.2,370.4 482.2,373.4 483.2,376.4 484.2,379.1 485.2,381.7 486.2,383.5 487.2,384.7 488.2,386.0 489.2,386.9 490.2,387.6 491.2,388.4 492.2,388.6 493.2,388.6 494.2,388.6 495.2,388.2 496.2,387.5 497.2,387.9 498.2,389.5 499.2,391.3 500.2,393.7 501.2,396.0 502.2,394.8 503.2,393.5 504.2,392.6 505.2,392.0 506.2,392.7 507.2,395.0 508.2,397.5 509.2,400.5 510.2,403.5 511.2,402.6 512.2,401.6 513.2,400.4 514.2,399.2 515.2,397.9 516.2,397.8 517.2,398.0 518.2,398.3 519.2,399.5 520.2,401.0 521.2,402.5 522.2,402.6 523.2,402.2 524.2,400.9 525.2,398.7 526.2,396.4 526.7,395.4" fill="none" stroke="#B2000E" stroke-width="2.5" stroke-linejoin="round" stroke-linecap="round" opacity="1.0"/></g>
<clipPath id="clipF"><rect x="326.4" y="352.3" width="202.60000000000002" height="136.2"/></clipPath>
<rect x="326.4" y="352.3" width="202.60000000000002" height="136.2" fill="none" stroke="#4a4a4a" stroke-width="1.2"/>
<rect x="326.4" y="498.4" width="203.20000000000005" height="2.3" fill="#d6d6d6"/>
<rect x="326.4" y="489.2" width="202.70000000000005" height="8.799999999999965" fill="#fff" stroke="#222" stroke-width="0.9"/>
<rect x="325.9" y="488.8" width="53.80000000000001" height="9.599999999999966" fill="#000"/>
<rect x="475.7" y="488.8" width="53.900000000000034" height="9.599999999999966" fill="#000"/>
<text x="283.1" y="363.8" style="font-family:'Liberation Sans',sans-serif;font-weight:bold;font-size:17px">F</text>
<text transform="translate(317.6,490.8) rotate(-90)" style="font-family:'Liberation Sans',sans-serif;font-weight:bold;font-size:12px">Log (Activity Intensity)</text>
<text x="526.0" y="368.9" text-anchor="end" style="font-family:'Liberation Sans',sans-serif;font-weight:bold;font-size:12.6px">80-90</text>
<text x="379.7" y="510.8" text-anchor="middle" style="font-family:'Liberation Sans',sans-serif;font-weight:bold;font-size:13.5px">ZT 0</text>
<text x="478.2" y="510.8" text-anchor="middle" style="font-family:'Liberation Sans',sans-serif;font-weight:bold;font-size:13.5px">ZT 12</text>
<rect x="551.6" y="95.3" width="130.9" height="178.7" fill="#fff" stroke="#333" stroke-width="1.1"/>
<line x1="570.6" y1="116.3" x2="594.3" y2="116.3" stroke="#DC8438" stroke-width="2.3"/>
<text x="599.3" y="117.4" style="font-family:'Liberation Sans',sans-serif;font-weight:bold;font-size:9.6px">EBS - X</text>
<line x1="570.6" y1="133.8" x2="594.3" y2="133.8" stroke="#E9A262" stroke-width="2.3"/>
<text x="599.3" y="135.2" style="font-family:'Liberation Sans',sans-serif;font-weight:bold;font-size:9.6px">EBS - Y</text>
<line x1="570.6" y1="150.0" x2="594.3" y2="150.0" stroke="#1F3864" stroke-width="2.3"/>
<text x="599.3" y="153.2" style="font-family:'Liberation Sans',sans-serif;font-weight:bold;font-size:9.6px">DDS - 20mm</text>
<line x1="570.6" y1="168.6" x2="594.3" y2="168.6" stroke="#2D4E8E" stroke-width="2.3"/>
<text x="599.3" y="171.6" style="font-family:'Liberation Sans',sans-serif;font-weight:bold;font-size:9.6px">DDS - 15mm</text>
<line x1="570.6" y1="189.9" x2="594.3" y2="189.9" stroke="#4A70A6" stroke-width="2.3"/>
<text x="599.3" y="193.3" style="font-family:'Liberation Sans',sans-serif;font-weight:bold;font-size:9.6px">DDS - 10mm</text>
<line x1="570.6" y1="209.8" x2="594.3" y2="209.8" stroke="#5B86C6" stroke-width="2.3"/>
<text x="599.3" y="212.1" style="font-family:'Liberation Sans',sans-serif;font-weight:bold;font-size:9.6px">DDS - 5mm</text>
<line x1="570.6" y1="229.4" x2="594.3" y2="229.4" stroke="#4BA2C2" stroke-width="2.3"/>
<text x="599.3" y="232.7" style="font-family:'Liberation Sans',sans-serif;font-weight:bold;font-size:9.6px">DDS - 2mm</text>
<line x1="570.6" y1="248.9" x2="594.3" y2="248.9" stroke="#C0141C" stroke-width="2.3"/>
<text x="599.3" y="252.6" style="font-family:'Liberation Sans',sans-serif;font-weight:bold;font-size:9.6px">BMS</text>
</svg>
</body></html>
